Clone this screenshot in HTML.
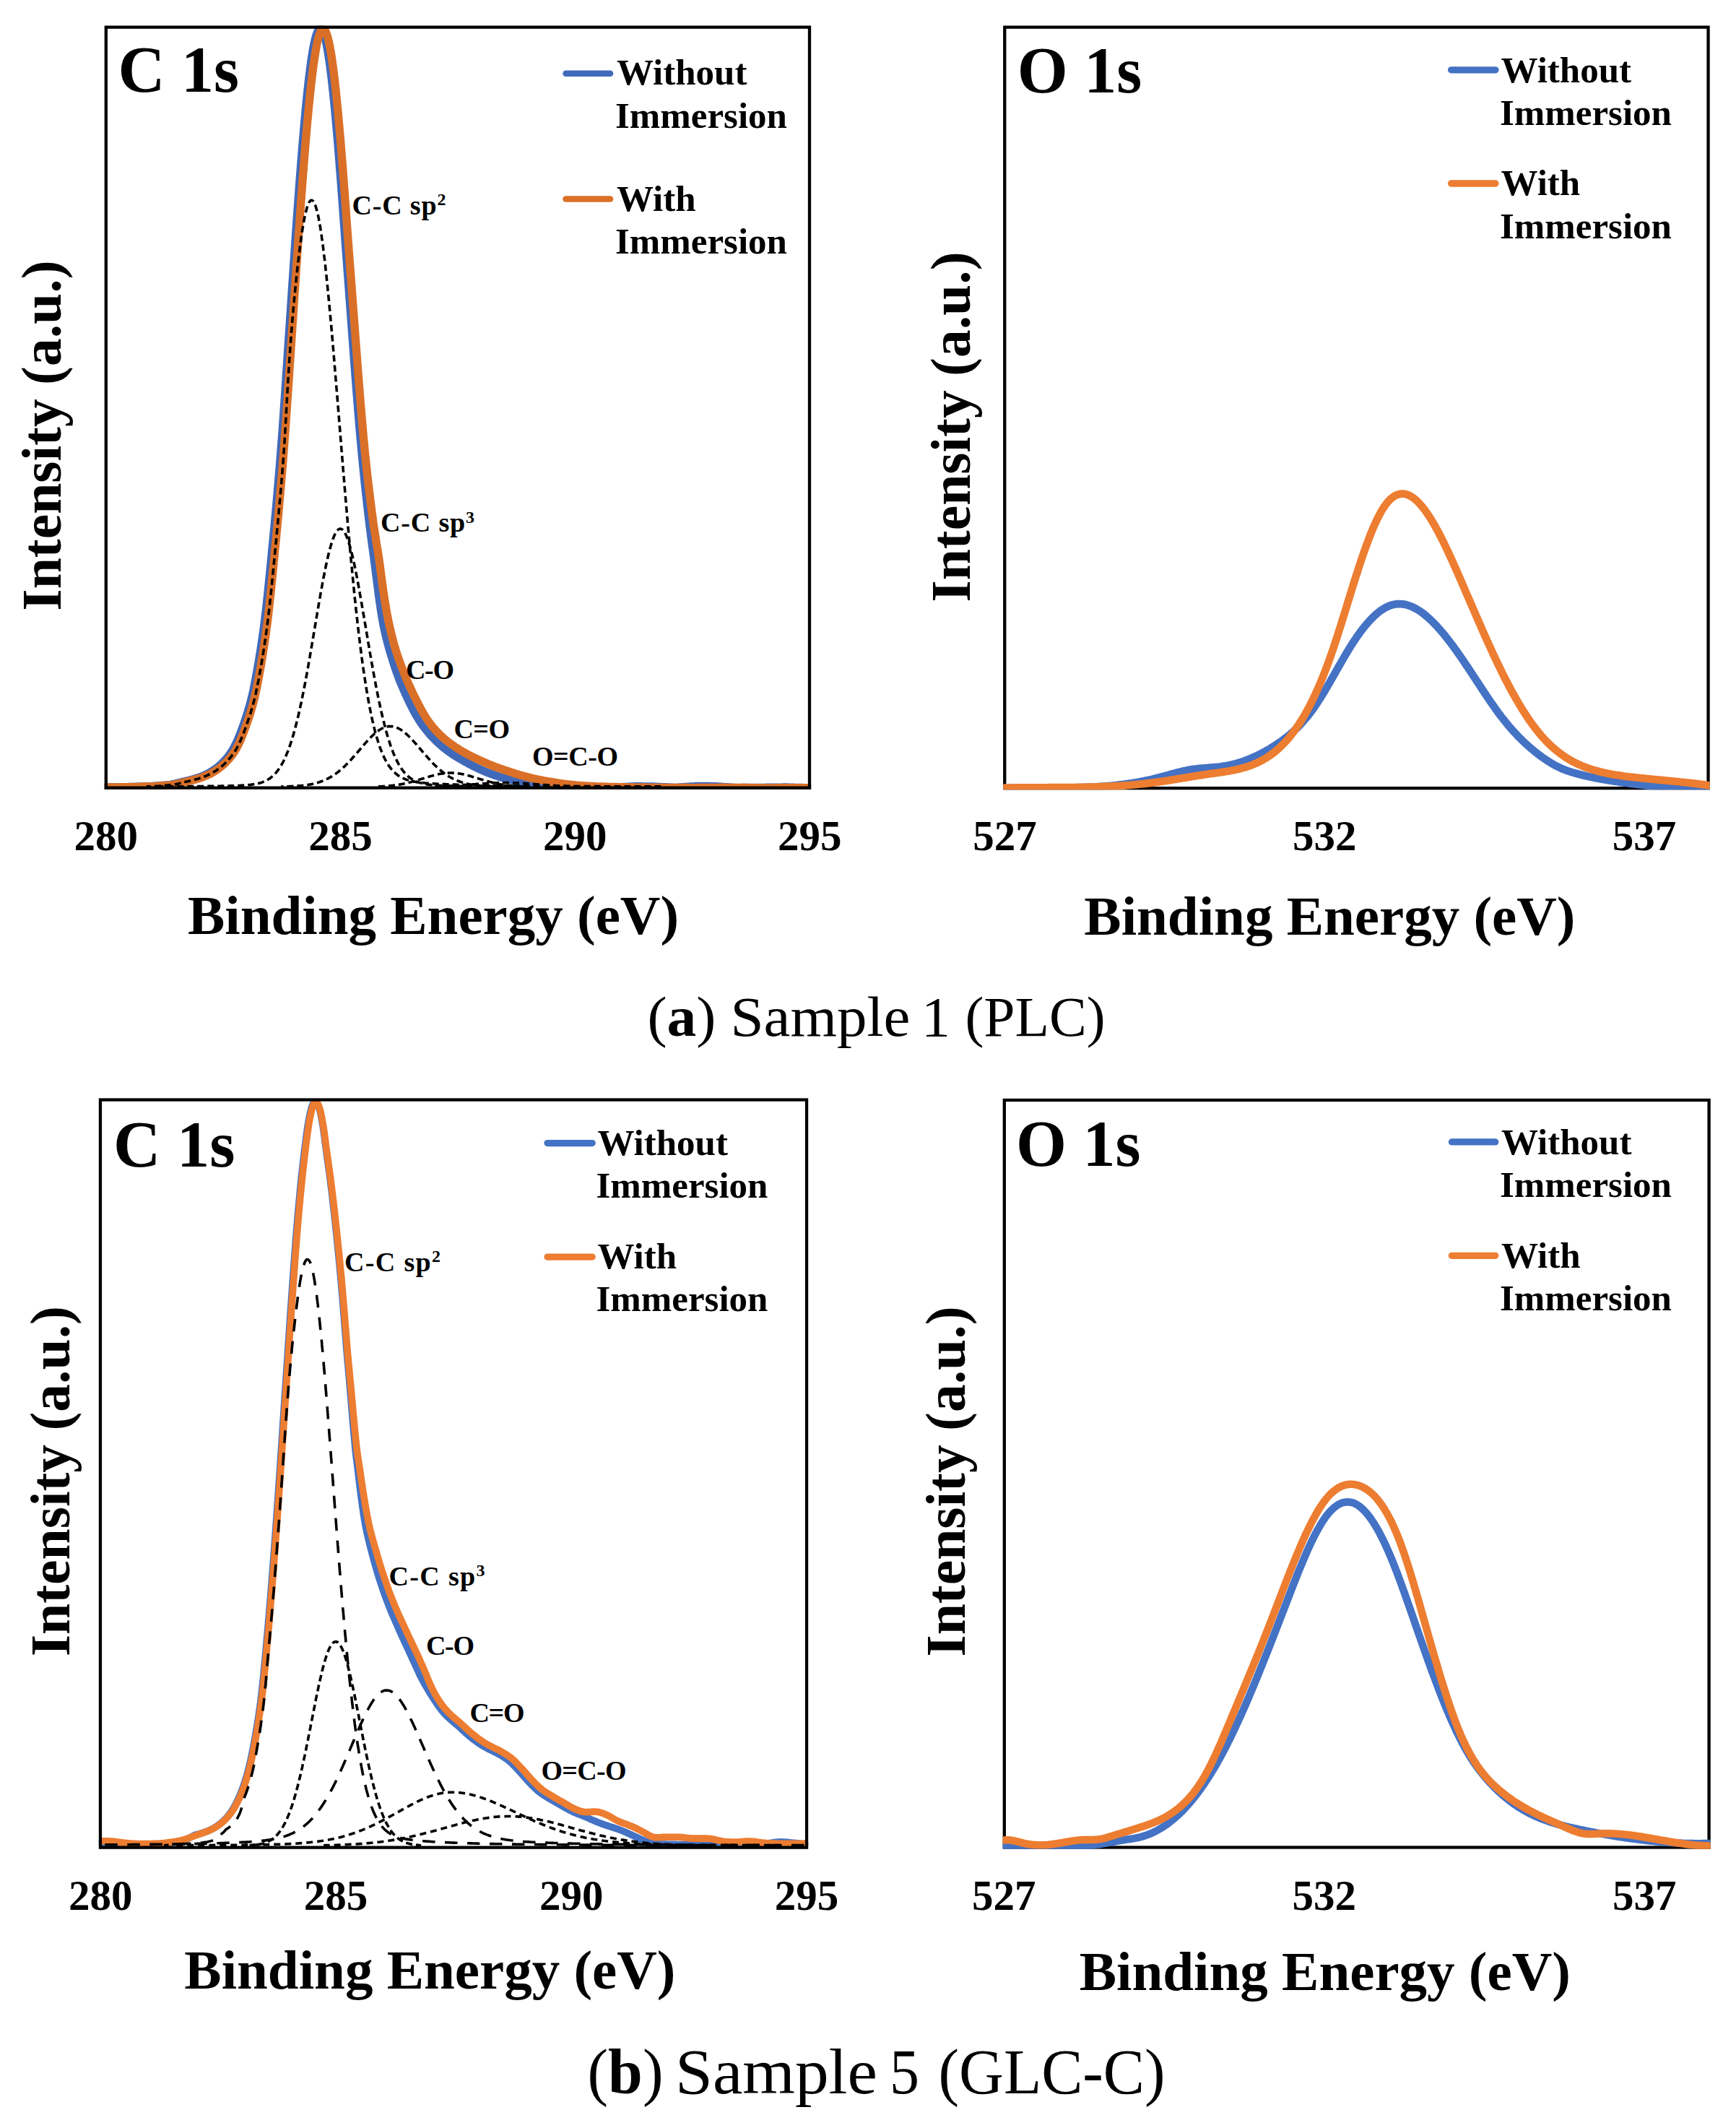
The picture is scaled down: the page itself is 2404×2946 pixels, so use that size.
<!DOCTYPE html>
<html lang="en"><head><meta charset="utf-8"><title>XPS C 1s and O 1s spectra</title>
<style>
html,body{margin:0;padding:0;background:#fff;}
svg{display:block;}
text{font-family:"Liberation Serif","Times New Roman",serif;fill:#000;}
</style></head>
<body>
<svg width="2404" height="2946" viewBox="0 0 2404 2946">
<rect width="2404" height="2946" fill="#fff"/>
<rect x="1391.25" y="37.65" width="974.3" height="1053.5" fill="none" stroke="#000" stroke-width="4.3"/>
<rect x="1390.8" y="1523.0" width="975.8" height="1034.5" fill="none" stroke="#000" stroke-width="4.3"/>
<clipPath id="ca"><rect x="144.65" y="35.5" width="978.5" height="1057.3"/></clipPath>
<path d="M146.8 1090.0L148.8 1090.0L150.8 1089.9L152.8 1089.9L154.8 1089.9L156.8 1089.9L158.8 1089.8L160.8 1089.8L162.8 1089.8L164.8 1089.7L166.8 1089.7L168.8 1089.7L170.8 1089.6L172.8 1089.6L174.8 1089.6L176.8 1089.6L178.8 1089.5L180.8 1089.5L182.8 1089.4L184.8 1089.4L186.8 1089.3L188.8 1089.2L190.8 1089.2L192.8 1089.1L194.8 1089.0L196.8 1089.0L198.8 1088.9L200.8 1088.8L202.8 1088.8L204.8 1088.7L206.8 1088.6L208.8 1088.6L210.8 1088.5L212.8 1088.4L214.8 1088.2L216.8 1088.0L218.8 1087.9L220.8 1087.7L222.8 1087.6L224.8 1087.4L226.8 1087.2L228.8 1087.1L230.8 1086.9L232.8 1086.8L234.8 1086.6L236.8 1086.3L238.7 1085.8L240.7 1085.4L242.6 1084.9L244.5 1084.4L246.5 1084.0L248.4 1083.5L250.4 1083.0L252.3 1082.6L254.3 1082.1L256.2 1081.6L258.2 1081.1L260.1 1080.7L262.1 1080.2L264.0 1079.7L265.9 1079.2L267.9 1078.7L269.8 1078.1L271.7 1077.5L273.6 1076.9L275.5 1076.3L277.4 1075.6L279.2 1074.9L281.1 1074.1L282.9 1073.3L284.8 1072.5L286.6 1071.6L288.3 1070.7L290.1 1069.7L291.8 1068.7L293.5 1067.7L295.2 1066.6L296.9 1065.4L298.5 1064.3L300.1 1063.1L301.7 1061.8L303.2 1060.6L304.7 1059.2L306.2 1057.9L307.6 1056.5L309.0 1055.1L310.4 1053.6L311.8 1052.2L313.1 1050.7L314.4 1049.1L315.7 1047.6L316.9 1046.0L318.1 1044.4L319.2 1042.8L320.4 1041.1L321.4 1039.4L322.5 1037.7L323.5 1036.0L324.4 1034.2L325.3 1032.4L326.2 1030.6L327.1 1028.8L328.0 1027.0L328.8 1025.2L329.6 1023.4L330.4 1021.5L331.1 1019.7L331.9 1017.8L332.6 1015.9L333.3 1014.1L334.0 1012.2L334.7 1010.3L335.4 1008.4L336.1 1006.6L336.8 1004.7L337.4 1002.8L338.1 1000.9L338.7 999.0L339.4 997.1L340.0 995.2L340.6 993.3L341.3 991.4L341.9 989.5L342.5 987.6L343.1 985.7L343.7 983.8L344.2 981.8L344.8 979.9L345.4 978.0L345.9 976.1L346.4 974.1L347.0 972.2L347.5 970.3L347.9 968.3L348.4 966.4L348.9 964.4L349.3 962.5L349.8 960.5L350.2 958.6L350.6 956.6L351.1 954.7L351.5 952.7L351.9 950.7L352.3 948.8L352.6 946.8L353.0 944.9L353.4 942.9L353.8 940.9L354.1 939.0L354.5 937.0L354.9 935.0L355.2 933.0L355.6 931.1L355.9 929.1L356.3 927.1L356.6 925.2L357.0 923.2L357.3 921.2L357.6 919.2L358.0 917.3L358.3 915.3L358.7 913.3L359.0 911.4L359.3 909.4L359.6 907.4L360.0 905.4L360.3 903.4L360.6 901.5L360.9 899.5L361.2 897.5L361.5 895.5L361.8 893.6L362.1 891.6L362.4 889.6L362.7 887.6L363.0 885.6L363.3 883.7L363.6 881.7L363.9 879.7L364.1 877.7L364.4 875.7L364.7 873.7L365.0 871.8L365.2 869.8L365.5 867.8L365.7 865.8L366.0 863.8L366.3 861.8L366.5 859.9L366.8 857.9L367.0 855.9L367.2 853.9L367.5 851.9L367.7 849.9L367.9 847.9L368.2 845.9L368.4 843.9L368.6 842.0L368.8 840.0L369.1 838.0L369.3 836.0L369.5 834.0L369.7 832.0L369.9 830.0L370.1 828.0L370.4 826.0L370.6 824.0L370.8 822.1L371.0 820.1L371.2 818.1L371.4 816.1L371.6 814.1L371.8 812.1L372.0 810.1L372.2 808.1L372.4 806.1L372.6 804.1L372.8 802.1L373.0 800.2L373.2 798.2L373.4 796.2L373.6 794.2L373.8 792.2L374.0 790.2L374.2 788.2L374.4 786.2L374.6 784.2L374.8 782.2L375.0 780.2L375.2 778.2L375.4 776.2L375.6 774.3L375.8 772.3L376.0 770.3L376.2 768.3L376.3 766.3L376.5 764.3L376.7 762.3L376.9 760.3L377.1 758.3L377.3 756.3L377.5 754.3L377.7 752.3L377.9 750.3L378.1 748.3L378.3 746.4L378.5 744.4L378.7 742.4L378.8 740.4L379.0 738.4L379.2 736.4L379.4 734.4L379.6 732.4L379.8 730.4L380.0 728.4L380.2 726.4L380.4 724.4L380.5 722.4L380.7 720.4L380.9 718.5L381.1 716.5L381.3 714.5L381.5 712.5L381.7 710.5L381.8 708.5L382.0 706.5L382.2 704.5L382.4 702.5L382.6 700.5L382.7 698.5L382.9 696.5L383.1 694.5L383.3 692.5L383.5 690.5L383.6 688.5L383.8 686.6L384.0 684.6L384.2 682.6L384.3 680.6L384.5 678.6L384.7 676.6L384.9 674.6L385.0 672.6L385.2 670.6L385.4 668.6L385.5 666.6L385.7 664.6L385.9 662.6L386.1 660.6L386.2 658.6L386.4 656.6L386.6 654.6L386.7 652.6L386.9 650.7L387.0 648.7L387.2 646.7L387.4 644.7L387.5 642.7L387.7 640.7L387.9 638.7L388.0 636.7L388.2 634.7L388.3 632.7L388.5 630.7L388.7 628.7L388.8 626.7L389.0 624.7L389.1 622.7L389.3 620.7L389.4 618.7L389.6 616.7L389.7 614.7L389.9 612.7L390.0 610.7L390.2 608.7L390.3 606.7L390.5 604.7L390.6 602.8L390.8 600.8L390.9 598.8L391.1 596.8L391.2 594.8L391.4 592.8L391.5 590.8L391.6 588.8L391.8 586.8L391.9 584.8L392.1 582.8L392.2 580.8L392.4 578.8L392.5 576.8L392.6 574.8L392.8 572.8L392.9 570.8L393.0 568.8L393.2 566.8L393.3 564.8L393.5 562.8L393.6 560.8L393.7 558.8L393.9 556.8L394.0 554.8L394.1 552.8L394.3 550.8L394.4 548.8L394.6 546.8L394.7 544.8L394.8 542.8L395.0 540.8L395.1 538.8L395.2 536.8L395.4 534.9L395.5 532.9L395.6 530.9L395.8 528.9L395.9 526.9L396.1 524.9L396.2 522.9L396.3 520.9L396.5 518.9L396.6 516.9L396.7 514.9L396.9 512.9L397.0 510.9L397.1 508.9L397.3 506.9L397.4 504.9L397.5 502.9L397.7 500.9L397.8 498.9L397.9 496.9L398.1 494.9L398.2 492.9L398.3 490.9L398.5 488.9L398.6 486.9L398.7 484.9L398.9 482.9L399.0 480.9L399.1 478.9L399.3 476.9L399.4 474.9L399.5 472.9L399.7 470.9L399.8 468.9L399.9 466.9L400.1 464.9L400.2 462.9L400.4 460.9L400.5 459.0L400.6 457.0L400.8 455.0L400.9 453.0L401.0 451.0L401.2 449.0L401.3 447.0L401.4 445.0L401.6 443.0L401.7 441.0L401.8 439.0L402.0 437.0L402.1 435.0L402.2 433.0L402.4 431.0L402.5 429.0L402.6 427.0L402.8 425.0L402.9 423.0L403.0 421.0L403.2 419.0L403.3 417.0L403.4 415.0L403.6 413.0L403.7 411.0L403.8 409.0L404.0 407.0L404.1 405.0L404.2 403.0L404.4 401.0L404.5 399.0L404.6 397.0L404.8 395.0L404.9 393.0L405.0 391.0L405.2 389.0L405.3 387.0L405.5 385.0L405.6 383.0L405.7 381.1L405.9 379.1L406.0 377.1L406.1 375.1L406.3 373.1L406.4 371.1L406.5 369.1L406.7 367.1L406.8 365.1L406.9 363.1L407.1 361.1L407.2 359.1L407.4 357.1L407.5 355.1L407.6 353.1L407.8 351.1L407.9 349.1L408.0 347.1L408.2 345.1L408.3 343.1L408.5 341.1L408.6 339.1L408.7 337.1L408.9 335.1L409.0 333.1L409.2 331.1L409.3 329.1L409.4 327.1L409.6 325.1L409.7 323.1L409.8 321.1L410.0 319.1L410.1 317.1L410.3 315.1L410.4 313.1L410.6 311.2L410.7 309.2L410.8 307.2L411.0 305.2L411.1 303.2L411.3 301.2L411.4 299.2L411.6 297.2L411.7 295.2L411.8 293.2L412.0 291.2L412.1 289.2L412.3 287.2L412.4 285.2L412.6 283.2L412.7 281.2L412.9 279.2L413.0 277.2L413.1 275.2L413.3 273.2L413.4 271.2L413.6 269.2L413.7 267.2L413.9 265.2L414.0 263.2L414.2 261.2L414.3 259.2L414.5 257.2L414.6 255.2L414.8 253.3L414.9 251.3L415.1 249.3L415.2 247.3L415.4 245.3L415.5 243.3L415.7 241.3L415.8 239.3L416.0 237.3L416.2 235.3L416.3 233.3L416.5 231.3L416.6 229.3L416.8 227.3L416.9 225.3L417.1 223.3L417.3 221.3L417.4 219.3L417.6 217.3L417.7 215.3L417.9 213.3L418.1 211.3L418.2 209.3L418.4 207.3L418.5 205.4L418.7 203.4L418.9 201.4L419.0 199.4L419.2 197.4L419.4 195.4L419.5 193.4L419.7 191.4L419.9 189.4L420.1 187.4L420.2 185.4L420.4 183.4L420.6 181.4L420.7 179.4L420.9 177.4L421.1 175.4L421.3 173.4L421.5 171.4L421.6 169.5L421.8 167.5L422.0 165.5L422.2 163.5L422.4 161.5L422.6 159.5L422.7 157.5L422.9 155.5L423.1 153.5L423.3 151.5L423.5 149.5L423.7 147.5L423.9 145.5L424.1 143.5L424.3 141.5L424.5 139.6L424.7 137.6L424.9 135.6L425.1 133.6L425.3 131.6L425.5 129.6L425.7 127.6L425.9 125.6L426.1 123.6L426.4 121.6L426.6 119.6L426.8 117.7L427.0 115.7L427.2 113.7L427.5 111.7L427.7 109.7L427.9 107.7L428.2 105.7L428.4 103.7L428.7 101.8L428.9 99.8L429.2 97.8L429.4 95.8L429.7 93.8L429.9 91.8L430.2 89.8L430.5 87.9L430.8 85.9L431.0 83.9L431.3 81.9L431.6 79.9L431.9 78.0L432.2 76.0L432.6 74.0L432.9 72.0L433.2 70.1L433.6 68.1L433.9 66.1L434.3 64.1L434.7 62.2L435.1 60.2L435.5 58.3L436.0 56.3L436.4 54.4L436.9 52.4L437.5 50.5L438.0 48.6L438.7 46.7L439.4 44.8L440.3 43.0L441.4 41.3L442.9 40.1L444.8 40.5L446.1 42.0L447.1 43.7L447.9 45.6L448.6 47.4L449.2 49.3L449.8 51.3L450.3 53.2L450.8 55.1L451.2 57.1L451.7 59.0L452.1 61.0L452.5 63.0L452.8 64.9L453.2 66.9L453.6 68.9L453.9 70.8L454.2 72.8L454.6 74.8L454.9 76.8L455.2 78.7L455.5 80.7L455.8 82.7L456.1 84.7L456.3 86.7L456.6 88.6L456.9 90.6L457.2 92.6L457.4 94.6L457.7 96.6L457.9 98.6L458.2 100.5L458.4 102.5L458.7 104.5L458.9 106.5L459.2 108.5L459.4 110.5L459.6 112.5L459.8 114.5L460.1 116.5L460.3 118.4L460.5 120.4L460.7 122.4L460.9 124.4L461.2 126.4L461.4 128.4L461.6 130.4L461.8 132.4L462.0 134.4L462.2 136.4L462.4 138.4L462.6 140.3L462.8 142.3L463.0 144.3L463.2 146.3L463.4 148.3L463.6 150.3L463.8 152.3L464.0 154.3L464.1 156.3L464.3 158.3L464.5 160.3L464.7 162.3L464.9 164.3L465.1 166.2L465.3 168.2L465.4 170.2L465.6 172.2L465.8 174.2L466.0 176.2L466.1 178.2L466.3 180.2L466.5 182.2L466.7 184.2L466.8 186.2L467.0 188.2L467.2 190.2L467.4 192.2L467.5 194.2L467.7 196.2L467.9 198.2L468.0 200.2L468.2 202.1L468.4 204.1L468.5 206.1L468.7 208.1L468.8 210.1L469.0 212.1L469.2 214.1L469.3 216.1L469.5 218.1L469.6 220.1L469.8 222.1L470.0 224.1L470.1 226.1L470.3 228.1L470.4 230.1L470.6 232.1L470.7 234.1L470.9 236.1L471.1 238.1L471.2 240.1L471.4 242.1L471.5 244.1L471.7 246.1L471.8 248.0L472.0 250.0L472.1 252.0L472.3 254.0L472.4 256.0L472.6 258.0L472.7 260.0L472.9 262.0L473.0 264.0L473.2 266.0L473.3 268.0L473.5 270.0L473.6 272.0L473.8 274.0L473.9 276.0L474.1 278.0L474.2 280.0L474.4 282.0L474.5 284.0L474.6 286.0L474.8 288.0L474.9 290.0L475.1 292.0L475.2 294.0L475.4 296.0L475.5 298.0L475.7 300.0L475.8 302.0L475.9 304.0L476.1 305.9L476.2 307.9L476.4 309.9L476.5 311.9L476.7 313.9L476.8 315.9L477.0 317.9L477.1 319.9L477.2 321.9L477.4 323.9L477.5 325.9L477.7 327.9L477.8 329.9L478.0 331.9L478.1 333.9L478.3 335.9L478.4 337.9L478.6 339.9L478.7 341.9L478.9 343.9L479.0 345.9L479.2 347.9L479.3 349.9L479.5 351.9L479.6 353.9L479.8 355.9L479.9 357.9L480.1 359.9L480.2 361.8L480.4 363.8L480.5 365.8L480.7 367.8L480.8 369.8L481.0 371.8L481.1 373.8L481.3 375.8L481.4 377.8L481.6 379.8L481.7 381.8L481.9 383.8L482.0 385.8L482.2 387.8L482.3 389.8L482.5 391.8L482.6 393.8L482.8 395.8L482.9 397.8L483.1 399.8L483.2 401.8L483.4 403.8L483.5 405.8L483.7 407.8L483.8 409.8L484.0 411.8L484.1 413.8L484.3 415.7L484.4 417.7L484.6 419.7L484.7 421.7L484.9 423.7L485.0 425.7L485.2 427.7L485.3 429.7L485.5 431.7L485.6 433.7L485.8 435.7L485.9 437.7L486.0 439.7L486.2 441.7L486.3 443.7L486.5 445.7L486.6 447.7L486.8 449.7L486.9 451.7L487.1 453.7L487.2 455.7L487.4 457.7L487.5 459.7L487.7 461.7L487.8 463.7L488.0 465.7L488.1 467.7L488.3 469.7L488.4 471.6L488.6 473.6L488.7 475.6L488.9 477.6L489.0 479.6L489.2 481.6L489.3 483.6L489.5 485.6L489.6 487.6L489.8 489.6L489.9 491.6L490.1 493.6L490.2 495.6L490.4 497.6L490.5 499.6L490.7 501.6L490.8 503.6L491.0 505.6L491.1 507.6L491.3 509.6L491.4 511.6L491.6 513.6L491.7 515.6L491.9 517.6L492.0 519.6L492.2 521.6L492.4 523.5L492.5 525.5L492.7 527.5L492.8 529.5L493.0 531.5L493.1 533.5L493.3 535.5L493.4 537.5L493.6 539.5L493.8 541.5L493.9 543.5L494.1 545.5L494.2 547.5L494.4 549.5L494.6 551.5L494.7 553.5L494.9 555.5L495.0 557.5L495.2 559.5L495.4 561.5L495.5 563.5L495.7 565.5L495.8 567.5L496.0 569.4L496.2 571.4L496.3 573.4L496.5 575.4L496.7 577.4L496.8 579.4L497.0 581.4L497.2 583.4L497.3 585.4L497.5 587.4L497.7 589.4L497.8 591.4L498.0 593.4L498.2 595.4L498.3 597.4L498.5 599.4L498.7 601.4L498.9 603.4L499.0 605.4L499.2 607.3L499.4 609.3L499.6 611.3L499.7 613.3L499.9 615.3L500.1 617.3L500.3 619.3L500.5 621.3L500.7 623.3L500.8 625.3L501.0 627.3L501.2 629.3L501.4 631.3L501.6 633.3L501.8 635.3L502.0 637.2L502.2 639.2L502.4 641.2L502.6 643.2L502.8 645.2L503.0 647.2L503.2 649.2L503.4 651.2L503.6 653.2L503.8 655.2L504.0 657.2L504.2 659.2L504.4 661.2L504.6 663.1L504.8 665.1L505.0 667.1L505.2 669.1L505.4 671.1L505.6 673.1L505.9 675.1L506.1 677.1L506.3 679.1L506.5 681.1L506.7 683.0L506.9 685.0L507.2 687.0L507.4 689.0L507.6 691.0L507.8 693.0L508.1 695.0L508.3 697.0L508.5 699.0L508.7 701.0L509.0 702.9L509.2 704.9L509.4 706.9L509.7 708.9L509.9 710.9L510.1 712.9L510.4 714.9L510.6 716.9L510.8 718.8L511.1 720.8L511.3 722.8L511.5 724.8L511.8 726.8L512.0 728.8L512.3 730.8L512.5 732.8L512.8 734.7L513.1 736.7L513.3 738.7L513.6 740.7L513.8 742.7L514.1 744.7L514.4 746.6L514.6 748.6L514.9 750.6L515.2 752.6L515.4 754.6L515.7 756.6L516.0 758.6L516.3 760.5L516.5 762.5L516.8 764.5L517.1 766.5L517.3 768.5L517.6 770.5L517.9 772.4L518.1 774.4L518.4 776.4L518.7 778.4L518.9 780.4L519.2 782.4L519.4 784.3L519.7 786.3L519.9 788.3L520.2 790.3L520.4 792.3L520.7 794.3L521.0 796.3L521.2 798.2L521.5 800.2L521.7 802.2L522.0 804.2L522.2 806.2L522.5 808.2L522.7 810.2L523.0 812.1L523.2 814.1L523.5 816.1L523.8 818.1L524.0 820.1L524.3 822.1L524.5 824.1L524.8 826.0L525.1 828.0L525.3 830.0L525.6 832.0L525.9 834.0L526.2 836.0L526.5 837.9L526.8 839.9L527.1 841.9L527.3 843.9L527.7 845.9L528.0 847.8L528.3 849.8L528.6 851.8L528.9 853.8L529.3 855.7L529.6 857.7L530.0 859.7L530.3 861.6L530.7 863.6L531.1 865.6L531.5 867.5L531.9 869.5L532.3 871.5L532.7 873.4L533.2 875.4L533.6 877.3L534.1 879.3L534.5 881.2L535.0 883.2L535.5 885.1L536.0 887.0L536.5 889.0L537.0 890.9L537.5 892.8L538.1 894.8L538.6 896.7L539.1 898.6L539.7 900.6L540.2 902.5L540.8 904.4L541.4 906.3L542.0 908.2L542.6 910.1L543.2 912.1L543.8 914.0L544.4 915.9L545.0 917.8L545.6 919.7L546.2 921.6L546.8 923.5L547.5 925.4L548.1 927.3L548.8 929.2L549.4 931.1L550.1 933.0L550.8 934.8L551.5 936.7L552.2 938.6L552.9 940.5L553.6 942.3L554.4 944.2L555.1 946.0L555.9 947.9L556.7 949.7L557.5 951.6L558.3 953.4L559.1 955.2L559.9 957.1L560.7 958.9L561.5 960.7L562.4 962.5L563.2 964.3L564.1 966.2L564.9 968.0L565.8 969.8L566.6 971.6L567.5 973.4L568.4 975.2L569.3 977.0L570.2 978.8L571.1 980.6L572.0 982.3L572.9 984.1L573.9 985.9L574.9 987.6L575.8 989.4L576.8 991.1L577.9 992.8L578.9 994.5L579.9 996.2L581.0 997.9L582.1 999.6L583.2 1001.3L584.4 1002.9L585.5 1004.5L586.7 1006.1L587.9 1007.7L589.2 1009.3L590.4 1010.9L591.7 1012.4L593.0 1014.0L594.3 1015.5L595.6 1017.0L596.9 1018.5L598.3 1019.9L599.7 1021.4L601.1 1022.8L602.5 1024.3L603.9 1025.7L605.3 1027.1L606.8 1028.4L608.3 1029.8L609.8 1031.1L611.3 1032.4L612.8 1033.7L614.4 1035.0L615.9 1036.3L617.5 1037.5L619.1 1038.7L620.7 1039.9L622.3 1041.1L623.9 1042.2L625.6 1043.4L627.2 1044.5L628.9 1045.6L630.6 1046.6L632.3 1047.7L634.0 1048.7L635.8 1049.7L637.5 1050.7L639.2 1051.7L641.0 1052.7L642.7 1053.7L644.5 1054.7L646.2 1055.6L648.0 1056.6L649.7 1057.6L651.5 1058.5L653.3 1059.4L655.0 1060.4L656.8 1061.3L658.6 1062.1L660.4 1063.0L662.2 1063.9L664.1 1064.7L665.9 1065.6L667.7 1066.4L669.5 1067.2L671.4 1068.0L673.2 1068.7L675.1 1069.5L676.9 1070.2L678.8 1070.9L680.7 1071.6L682.6 1072.3L684.5 1073.0L686.4 1073.6L688.3 1074.2L690.2 1074.9L692.1 1075.5L694.0 1076.0L695.9 1076.6L697.8 1077.1L699.8 1077.7L701.7 1078.2L703.6 1078.7L705.6 1079.2L707.5 1079.6L709.5 1080.1L711.4 1080.5L713.4 1081.0L715.3 1081.4L717.3 1081.9L719.2 1082.4L721.2 1082.8L723.2 1083.1L725.1 1083.4L727.1 1083.6L729.1 1083.9L731.1 1084.1L733.1 1084.4L735.1 1084.6L737.1 1084.9L739.0 1085.1L741.0 1085.3L743.0 1085.6L745.0 1085.8L747.0 1086.1L749.0 1086.3L751.0 1086.4L753.0 1086.6L755.0 1086.8L757.0 1086.9L759.0 1087.1L761.0 1087.3L763.0 1087.4L764.9 1087.6L766.9 1087.7L768.9 1087.9L770.9 1088.1L772.9 1088.2L774.9 1088.4L776.9 1088.5L778.9 1088.6L780.9 1088.6L782.9 1088.7L784.9 1088.8L786.9 1088.9L788.9 1089.0L790.9 1089.0L792.9 1089.1L794.9 1089.2L796.9 1089.3L798.9 1089.4L800.9 1089.4L802.9 1089.5L804.9 1089.6L806.9 1089.7L808.9 1089.8L810.9 1089.8L812.9 1089.8L814.9 1089.8L816.9 1089.9L818.9 1089.9L820.9 1089.9L822.9 1089.9L824.9 1089.9L826.9 1090.0L828.9 1090.0L830.9 1090.0L833.0 1090.0L835.0 1090.0L837.0 1090.1L839.0 1090.1L841.0 1090.1L843.0 1090.1L845.0 1090.1L847.0 1090.2L849.0 1090.2L851.0 1090.1L853.0 1090.0L855.0 1089.9L857.0 1089.8L859.0 1089.7L861.0 1089.6L863.0 1089.5L865.0 1089.4L867.0 1089.3L869.0 1089.2L871.0 1089.1L873.0 1089.0L875.0 1088.9L877.0 1088.8L879.0 1088.7L881.0 1088.6L883.0 1088.6L885.0 1088.7L887.0 1088.7L889.0 1088.7L891.0 1088.8L893.0 1088.8L895.0 1088.8L897.0 1088.9L899.0 1088.9L901.0 1088.9L903.0 1089.0L905.0 1089.0L907.0 1089.1L909.0 1089.2L911.0 1089.3L913.0 1089.4L915.0 1089.5L917.0 1089.6L919.0 1089.7L921.0 1089.7L923.0 1089.8L925.0 1089.9L927.0 1090.0L929.0 1090.1L931.0 1090.2L933.0 1090.3L935.0 1090.4L937.0 1090.3L939.0 1090.1L941.0 1090.0L943.0 1089.9L945.0 1089.7L947.0 1089.6L949.0 1089.5L950.9 1089.3L952.9 1089.2L954.9 1089.1L956.9 1088.9L958.9 1088.8L960.9 1088.7L962.9 1088.5L964.9 1088.4L966.9 1088.4L968.9 1088.4L970.9 1088.4L972.9 1088.5L974.9 1088.5L976.9 1088.5L978.9 1088.5L980.9 1088.5L982.9 1088.5L984.9 1088.6L987.0 1088.6L989.0 1088.6L991.0 1088.7L993.0 1088.8L994.9 1088.9L996.9 1089.1L998.9 1089.2L1000.9 1089.3L1002.9 1089.5L1004.9 1089.6L1006.9 1089.7L1008.9 1089.9L1010.9 1090.0L1012.9 1090.1L1014.9 1090.3L1016.9 1090.4L1018.9 1090.5L1020.9 1090.6L1022.9 1090.6L1024.9 1090.6L1026.9 1090.5L1028.9 1090.5L1030.9 1090.5L1032.9 1090.5L1034.9 1090.5L1036.9 1090.5L1038.9 1090.4L1040.9 1090.4L1042.9 1090.4L1044.9 1090.4L1046.9 1090.4L1048.9 1090.4L1050.9 1090.3L1052.9 1090.3L1054.9 1090.3L1057.0 1090.3L1059.0 1090.3L1061.0 1090.2L1063.0 1090.2L1065.0 1090.2L1067.0 1090.2L1069.0 1090.2L1071.0 1090.2L1073.0 1090.1L1075.0 1090.1L1077.0 1090.1L1079.0 1090.1L1081.0 1090.1L1083.0 1090.1L1085.0 1090.0L1087.0 1090.0L1089.0 1090.0L1091.0 1090.0L1093.0 1090.1L1095.0 1090.1L1097.0 1090.2L1099.0 1090.2L1101.0 1090.3L1103.0 1090.3L1105.0 1090.4L1107.0 1090.4L1109.0 1090.5L1111.0 1090.5L1113.0 1090.6L1115.0 1090.6L1117.0 1090.7L1119.0 1090.7L1121.0 1090.8" fill="none" stroke="#4069B9" stroke-width="11.3" stroke-linejoin="round" stroke-linecap="round" clip-path="url(#ca)"/>
<path d="M146.8 1090.0L148.8 1090.0L150.8 1089.9L152.8 1089.9L154.8 1089.9L156.8 1089.9L158.8 1089.8L160.8 1089.8L162.8 1089.8L164.8 1089.8L166.8 1089.7L168.8 1089.7L170.8 1089.7L172.8 1089.7L174.8 1089.6L176.8 1089.6L178.8 1089.6L180.8 1089.6L182.8 1089.5L184.8 1089.5L186.8 1089.4L188.8 1089.4L190.8 1089.3L192.8 1089.2L194.8 1089.2L196.8 1089.1L198.8 1089.0L200.8 1089.0L202.8 1088.9L204.8 1088.8L206.8 1088.8L208.8 1088.7L210.9 1088.6L212.9 1088.6L214.9 1088.5L216.8 1088.4L218.8 1088.2L220.8 1088.0L222.8 1087.9L224.8 1087.7L226.8 1087.6L228.8 1087.4L230.8 1087.2L232.8 1087.1L234.8 1086.9L236.8 1086.8L238.8 1086.6L240.8 1086.3L242.7 1085.8L244.7 1085.4L246.6 1084.9L248.6 1084.4L250.5 1084.0L252.5 1083.5L254.4 1083.0L256.3 1082.6L258.3 1082.1L260.2 1081.6L262.2 1081.1L264.1 1080.7L266.1 1080.2L268.0 1079.7L270.0 1079.2L271.9 1078.7L273.8 1078.1L275.7 1077.5L277.6 1076.9L279.5 1076.3L281.4 1075.6L283.3 1074.8L285.1 1074.1L287.0 1073.3L288.8 1072.4L290.6 1071.6L292.4 1070.7L294.1 1069.7L295.8 1068.7L297.5 1067.6L299.2 1066.6L300.9 1065.4L302.5 1064.3L304.1 1063.1L305.7 1061.8L307.2 1060.5L308.7 1059.2L310.2 1057.9L311.6 1056.5L313.1 1055.1L314.4 1053.6L315.8 1052.1L317.1 1050.7L318.4 1049.1L319.7 1047.6L320.9 1046.0L322.1 1044.4L323.3 1042.7L324.4 1041.1L325.4 1039.4L326.5 1037.7L327.5 1035.9L328.4 1034.2L329.4 1032.4L330.3 1030.6L331.1 1028.8L332.0 1027.0L332.8 1025.2L333.6 1023.3L334.4 1021.5L335.1 1019.6L335.9 1017.8L336.6 1015.9L337.3 1014.1L338.1 1012.2L338.7 1010.3L339.4 1008.4L340.1 1006.5L340.8 1004.6L341.4 1002.8L342.1 1000.9L342.7 999.0L343.4 997.1L344.0 995.2L344.7 993.3L345.3 991.4L345.9 989.5L346.5 987.6L347.1 985.6L347.7 983.7L348.3 981.8L348.8 979.9L349.4 978.0L349.9 976.0L350.4 974.1L351.0 972.2L351.5 970.2L352.0 968.3L352.4 966.4L352.9 964.4L353.3 962.5L353.8 960.5L354.2 958.5L354.6 956.6L355.1 954.6L355.5 952.7L355.9 950.7L356.3 948.7L356.6 946.8L357.0 944.8L357.4 942.9L357.8 940.9L358.1 938.9L358.5 936.9L358.9 935.0L359.2 933.0L359.6 931.0L359.9 929.1L360.3 927.1L360.6 925.1L361.0 923.2L361.3 921.2L361.7 919.2L362.0 917.2L362.3 915.3L362.7 913.3L363.0 911.3L363.3 909.3L363.6 907.4L364.0 905.4L364.3 903.4L364.6 901.4L364.9 899.5L365.2 897.5L365.5 895.5L365.8 893.5L366.1 891.5L366.4 889.6L366.7 887.6L367.0 885.6L367.3 883.6L367.6 881.6L367.9 879.7L368.2 877.7L368.4 875.7L368.7 873.7L369.0 871.7L369.2 869.7L369.5 867.7L369.8 865.8L370.0 863.8L370.3 861.8L370.5 859.8L370.8 857.8L371.0 855.8L371.2 853.8L371.5 851.9L371.7 849.9L371.9 847.9L372.2 845.9L372.4 843.9L372.6 841.9L372.8 839.9L373.1 837.9L373.3 835.9L373.5 833.9L373.7 832.0L373.9 830.0L374.1 828.0L374.4 826.0L374.6 824.0L374.8 822.0L375.0 820.0L375.2 818.0L375.4 816.0L375.6 814.0L375.8 812.0L376.0 810.1L376.2 808.1L376.4 806.1L376.6 804.1L376.8 802.1L377.0 800.1L377.2 798.1L377.4 796.1L377.6 794.1L377.8 792.1L378.0 790.1L378.2 788.1L378.4 786.1L378.6 784.2L378.8 782.2L379.0 780.2L379.2 778.2L379.4 776.2L379.6 774.2L379.8 772.2L380.0 770.2L380.2 768.2L380.4 766.2L380.5 764.2L380.7 762.2L380.9 760.2L381.1 758.3L381.3 756.3L381.5 754.3L381.7 752.3L381.9 750.3L382.1 748.3L382.3 746.3L382.5 744.3L382.7 742.3L382.9 740.3L383.0 738.3L383.2 736.3L383.4 734.3L383.6 732.3L383.8 730.3L384.0 728.4L384.2 726.4L384.4 724.4L384.5 722.4L384.7 720.4L384.9 718.4L385.1 716.4L385.3 714.4L385.5 712.4L385.7 710.4L385.8 708.4L386.0 706.4L386.2 704.4L386.4 702.4L386.6 700.4L386.8 698.5L386.9 696.5L387.1 694.5L387.3 692.5L387.5 690.5L387.6 688.5L387.8 686.5L388.0 684.5L388.2 682.5L388.3 680.5L388.5 678.5L388.7 676.5L388.9 674.5L389.0 672.5L389.2 670.5L389.4 668.5L389.6 666.5L389.7 664.5L389.9 662.5L390.1 660.6L390.2 658.6L390.4 656.6L390.6 654.6L390.7 652.6L390.9 650.6L391.1 648.6L391.2 646.6L391.4 644.6L391.5 642.6L391.7 640.6L391.9 638.6L392.0 636.6L392.2 634.6L392.3 632.6L392.5 630.6L392.7 628.6L392.8 626.6L393.0 624.6L393.1 622.6L393.3 620.6L393.4 618.6L393.6 616.6L393.7 614.7L393.9 612.7L394.0 610.7L394.2 608.7L394.3 606.7L394.5 604.7L394.6 602.7L394.8 600.7L394.9 598.7L395.1 596.7L395.2 594.7L395.4 592.7L395.5 590.7L395.7 588.7L395.8 586.7L395.9 584.7L396.1 582.7L396.2 580.7L396.4 578.7L396.5 576.7L396.6 574.7L396.8 572.7L396.9 570.7L397.1 568.7L397.2 566.7L397.3 564.7L397.5 562.7L397.6 560.7L397.7 558.7L397.9 556.7L398.0 554.7L398.2 552.7L398.3 550.7L398.4 548.7L398.6 546.8L398.7 544.8L398.8 542.8L399.0 540.8L399.1 538.8L399.2 536.8L399.4 534.8L399.5 532.8L399.7 530.8L399.8 528.8L399.9 526.8L400.1 524.8L400.2 522.8L400.3 520.8L400.5 518.8L400.6 516.8L400.7 514.8L400.9 512.8L401.0 510.8L401.1 508.8L401.3 506.8L401.4 504.8L401.5 502.8L401.7 500.8L401.8 498.8L401.9 496.8L402.1 494.8L402.2 492.8L402.3 490.8L402.5 488.8L402.6 486.8L402.8 484.8L402.9 482.8L403.0 480.8L403.2 478.8L403.3 476.8L403.4 474.8L403.6 472.8L403.7 470.8L403.8 468.8L404.0 466.8L404.1 464.8L404.2 462.9L404.4 460.9L404.5 458.9L404.6 456.9L404.8 454.9L404.9 452.9L405.0 450.9L405.2 448.9L405.3 446.9L405.4 444.9L405.6 442.9L405.7 440.9L405.8 438.9L406.0 436.9L406.1 434.9L406.2 432.9L406.4 430.9L406.5 428.9L406.6 426.9L406.8 424.9L406.9 422.9L407.0 420.9L407.2 418.9L407.3 416.9L407.4 414.9L407.6 412.9L407.7 410.9L407.8 408.9L408.0 406.9L408.1 404.9L408.2 402.9L408.4 400.9L408.5 398.9L408.6 396.9L408.8 394.9L408.9 392.9L409.1 390.9L409.2 388.9L409.3 386.9L409.5 384.9L409.6 382.9L409.7 380.9L409.9 379.0L410.0 377.0L410.1 375.0L410.3 373.0L410.4 371.0L410.5 369.0L410.7 367.0L410.8 365.0L411.0 363.0L411.1 361.0L411.2 359.0L411.4 357.0L411.5 355.0L411.6 353.0L411.8 351.0L411.9 349.0L412.1 347.0L412.2 345.0L412.3 343.0L412.5 341.0L412.6 339.0L412.7 337.0L412.9 335.0L413.0 333.0L413.2 331.0L413.3 329.0L413.4 327.0L413.6 325.0L413.7 323.0L413.9 321.0L414.0 319.0L414.1 317.0L414.3 315.0L414.4 313.0L414.6 311.0L414.7 309.0L414.8 307.0L415.0 305.0L415.1 303.1L415.3 301.1L415.4 299.1L415.6 297.1L415.7 295.1L415.8 293.1L416.0 291.1L416.1 289.1L416.3 287.1L416.4 285.1L416.6 283.1L416.7 281.1L416.9 279.1L417.0 277.1L417.2 275.1L417.3 273.1L417.4 271.1L417.6 269.1L417.7 267.1L417.9 265.1L418.0 263.1L418.2 261.1L418.3 259.1L418.5 257.1L418.6 255.1L418.8 253.1L418.9 251.1L419.1 249.1L419.2 247.1L419.4 245.1L419.5 243.2L419.7 241.2L419.9 239.2L420.0 237.2L420.2 235.2L420.3 233.2L420.5 231.2L420.6 229.2L420.8 227.2L420.9 225.2L421.1 223.2L421.3 221.2L421.4 219.2L421.6 217.2L421.7 215.2L421.9 213.2L422.1 211.2L422.2 209.2L422.4 207.2L422.6 205.2L422.7 203.2L422.9 201.2L423.1 199.2L423.2 197.2L423.4 195.3L423.6 193.3L423.7 191.3L423.9 189.3L424.1 187.3L424.2 185.3L424.4 183.3L424.6 181.3L424.8 179.3L424.9 177.3L425.1 175.3L425.3 173.3L425.5 171.3L425.6 169.3L425.8 167.3L426.0 165.3L426.2 163.3L426.4 161.3L426.6 159.4L426.7 157.4L426.9 155.4L427.1 153.4L427.3 151.4L427.5 149.4L427.7 147.4L427.9 145.4L428.1 143.4L428.3 141.4L428.5 139.4L428.7 137.4L428.9 135.4L429.1 133.5L429.3 131.5L429.5 129.5L429.7 127.5L429.9 125.5L430.2 123.5L430.4 121.5L430.6 119.5L430.8 117.5L431.0 115.5L431.3 113.5L431.5 111.6L431.7 109.6L432.0 107.6L432.2 105.6L432.4 103.6L432.7 101.6L432.9 99.6L433.2 97.6L433.4 95.7L433.7 93.7L434.0 91.7L434.2 89.7L434.5 87.7L434.8 85.7L435.1 83.8L435.4 81.8L435.7 79.8L436.0 77.8L436.3 75.8L436.6 73.9L436.9 71.9L437.3 69.9L437.6 67.9L438.0 66.0L438.3 64.0L438.7 62.0L439.1 60.1L439.5 58.1L440.0 56.2L440.5 54.2L441.0 52.3L441.5 50.4L442.1 48.4L442.7 46.6L443.5 44.7L444.3 42.9L445.4 41.2L447.0 40.1L448.9 40.6L450.2 42.1L451.1 43.8L451.9 45.7L452.6 47.6L453.2 49.5L453.8 51.4L454.3 53.3L454.8 55.3L455.3 57.2L455.7 59.2L456.1 61.1L456.5 63.1L456.9 65.1L457.2 67.0L457.6 69.0L457.9 71.0L458.3 72.9L458.6 74.9L458.9 76.9L459.2 78.9L459.5 80.9L459.8 82.8L460.1 84.8L460.4 86.8L460.6 88.8L460.9 90.8L461.2 92.8L461.4 94.7L461.7 96.7L462.0 98.7L462.2 100.7L462.5 102.7L462.7 104.7L462.9 106.7L463.2 108.6L463.4 110.6L463.6 112.6L463.9 114.6L464.1 116.6L464.3 118.6L464.5 120.6L464.8 122.6L465.0 124.6L465.2 126.6L465.4 128.5L465.6 130.5L465.8 132.5L466.0 134.5L466.2 136.5L466.4 138.5L466.6 140.5L466.8 142.5L467.0 144.5L467.2 146.5L467.4 148.5L467.6 150.5L467.8 152.5L468.0 154.4L468.2 156.4L468.4 158.4L468.5 160.4L468.7 162.4L468.9 164.4L469.1 166.4L469.3 168.4L469.4 170.4L469.6 172.4L469.8 174.4L470.0 176.4L470.2 178.4L470.3 180.4L470.5 182.4L470.7 184.4L470.9 186.3L471.0 188.3L471.2 190.3L471.4 192.3L471.5 194.3L471.7 196.3L471.9 198.3L472.0 200.3L472.2 202.3L472.4 204.3L472.5 206.3L472.7 208.3L472.9 210.3L473.0 212.3L473.2 214.3L473.3 216.3L473.5 218.3L473.7 220.3L473.8 222.3L474.0 224.3L474.1 226.3L474.3 228.3L474.5 230.2L474.6 232.2L474.8 234.2L474.9 236.2L475.1 238.2L475.2 240.2L475.4 242.2L475.5 244.2L475.7 246.2L475.8 248.2L476.0 250.2L476.1 252.2L476.3 254.2L476.4 256.2L476.6 258.2L476.7 260.2L476.9 262.2L477.0 264.2L477.2 266.2L477.3 268.2L477.5 270.2L477.6 272.2L477.8 274.2L477.9 276.2L478.1 278.2L478.2 280.2L478.4 282.2L478.5 284.2L478.7 286.2L478.8 288.1L478.9 290.1L479.1 292.1L479.2 294.1L479.4 296.1L479.5 298.1L479.7 300.1L479.8 302.1L480.0 304.1L480.1 306.1L480.2 308.1L480.4 310.1L480.5 312.1L480.7 314.1L480.8 316.1L481.0 318.1L481.1 320.1L481.3 322.1L481.4 324.1L481.6 326.1L481.7 328.1L481.9 330.1L482.0 332.1L482.2 334.1L482.3 336.1L482.5 338.1L482.6 340.1L482.8 342.1L482.9 344.1L483.1 346.1L483.2 348.1L483.4 350.0L483.5 352.0L483.7 354.0L483.8 356.0L484.0 358.0L484.1 360.0L484.3 362.0L484.4 364.0L484.6 366.0L484.7 368.0L484.9 370.0L485.0 372.0L485.2 374.0L485.3 376.0L485.5 378.0L485.6 380.0L485.8 382.0L486.0 384.0L486.1 386.0L486.3 388.0L486.4 390.0L486.6 392.0L486.7 394.0L486.9 396.0L487.0 398.0L487.2 400.0L487.3 402.0L487.5 403.9L487.6 405.9L487.8 407.9L487.9 409.9L488.1 411.9L488.2 413.9L488.4 415.9L488.5 417.9L488.7 419.9L488.8 421.9L489.0 423.9L489.1 425.9L489.3 427.9L489.4 429.9L489.6 431.9L489.7 433.9L489.9 435.9L490.0 437.9L490.2 439.9L490.3 441.9L490.5 443.9L490.6 445.9L490.8 447.9L490.9 449.9L491.1 451.9L491.2 453.9L491.4 455.9L491.5 457.9L491.7 459.9L491.8 461.8L492.0 463.8L492.1 465.8L492.3 467.8L492.4 469.8L492.6 471.8L492.7 473.8L492.9 475.8L493.0 477.8L493.2 479.8L493.3 481.8L493.5 483.8L493.6 485.8L493.8 487.8L493.9 489.8L494.1 491.8L494.3 493.8L494.4 495.8L494.6 497.8L494.7 499.8L494.9 501.8L495.0 503.8L495.2 505.8L495.3 507.8L495.5 509.8L495.6 511.8L495.8 513.8L496.0 515.7L496.1 517.7L496.3 519.7L496.4 521.7L496.6 523.7L496.7 525.7L496.9 527.7L497.0 529.7L497.2 531.7L497.4 533.7L497.5 535.7L497.7 537.7L497.8 539.7L498.0 541.7L498.2 543.7L498.3 545.7L498.5 547.7L498.7 549.7L498.8 551.7L499.0 553.7L499.1 555.7L499.3 557.7L499.5 559.7L499.6 561.6L499.8 563.6L500.0 565.6L500.1 567.6L500.3 569.6L500.5 571.6L500.6 573.6L500.8 575.6L501.0 577.6L501.1 579.6L501.3 581.6L501.5 583.6L501.7 585.6L501.8 587.6L502.0 589.6L502.2 591.6L502.4 593.6L502.5 595.6L502.7 597.6L502.9 599.5L503.1 601.5L503.3 603.5L503.4 605.5L503.6 607.5L503.8 609.5L504.0 611.5L504.2 613.5L504.4 615.5L504.6 617.5L504.7 619.5L504.9 621.5L505.1 623.5L505.3 625.5L505.5 627.5L505.7 629.4L505.9 631.4L506.1 633.4L506.3 635.4L506.6 637.4L506.8 639.4L507.0 641.4L507.2 643.4L507.4 645.4L507.6 647.4L507.8 649.4L508.0 651.3L508.3 653.3L508.5 655.3L508.7 657.3L508.9 659.3L509.2 661.3L509.4 663.3L509.6 665.3L509.8 667.3L510.1 669.3L510.3 671.2L510.5 673.2L510.8 675.2L511.0 677.2L511.3 679.2L511.5 681.2L511.7 683.2L512.0 685.2L512.2 687.1L512.5 689.1L512.7 691.1L513.0 693.1L513.2 695.1L513.5 697.1L513.7 699.1L514.0 701.1L514.2 703.0L514.5 705.0L514.7 707.0L515.0 709.0L515.2 711.0L515.5 713.0L515.8 714.9L516.0 716.9L516.3 718.9L516.6 720.9L516.8 722.9L517.1 724.9L517.4 726.8L517.7 728.8L518.0 730.8L518.3 732.8L518.6 734.8L518.9 736.7L519.2 738.7L519.5 740.7L519.9 742.7L520.2 744.7L520.5 746.6L520.8 748.6L521.1 750.6L521.4 752.6L521.8 754.5L522.1 756.5L522.4 758.5L522.7 760.5L523.0 762.4L523.4 764.4L523.7 766.4L524.0 768.4L524.3 770.4L524.6 772.3L524.9 774.3L525.2 776.3L525.4 778.3L525.7 780.3L526.0 782.2L526.3 784.2L526.5 786.2L526.8 788.2L527.0 790.2L527.3 792.2L527.6 794.2L527.8 796.1L528.1 798.1L528.3 800.1L528.6 802.1L528.9 804.1L529.1 806.1L529.4 808.1L529.7 810.0L529.9 812.0L530.2 814.0L530.5 816.0L530.8 818.0L531.1 819.9L531.4 821.9L531.7 823.9L532.0 825.9L532.3 827.9L532.6 829.8L532.9 831.8L533.2 833.8L533.6 835.8L533.9 837.7L534.2 839.7L534.5 841.7L534.9 843.7L535.2 845.6L535.6 847.6L535.9 849.6L536.3 851.5L536.7 853.5L537.1 855.5L537.4 857.4L537.8 859.4L538.2 861.4L538.7 863.3L539.1 865.3L539.5 867.2L540.0 869.2L540.4 871.1L540.9 873.1L541.3 875.0L541.8 877.0L542.3 878.9L542.8 880.9L543.3 882.8L543.8 884.8L544.3 886.7L544.8 888.6L545.3 890.6L545.8 892.5L546.4 894.4L547.0 896.3L547.5 898.2L548.1 900.2L548.7 902.1L549.3 904.0L550.0 905.9L550.6 907.8L551.3 909.7L551.9 911.6L552.6 913.4L553.3 915.3L553.9 917.2L554.6 919.1L555.3 921.0L556.0 922.8L556.7 924.7L557.4 926.6L558.2 928.5L558.9 930.3L559.6 932.2L560.4 934.0L561.1 935.9L561.9 937.8L562.7 939.6L563.4 941.4L564.2 943.3L565.0 945.1L565.8 946.9L566.7 948.8L567.5 950.6L568.3 952.4L569.2 954.2L570.0 956.0L570.9 957.9L571.7 959.7L572.6 961.5L573.5 963.3L574.4 965.1L575.3 966.9L576.2 968.6L577.1 970.4L578.0 972.2L578.9 974.0L579.8 975.8L580.7 977.5L581.7 979.3L582.6 981.1L583.6 982.8L584.6 984.6L585.6 986.3L586.6 988.0L587.6 989.8L588.6 991.5L589.7 993.2L590.8 994.9L591.9 996.5L593.0 998.2L594.2 999.8L595.4 1001.4L596.6 1003.0L597.8 1004.6L599.1 1006.2L600.3 1007.7L601.7 1009.2L603.0 1010.7L604.3 1012.2L605.7 1013.6L607.1 1015.1L608.5 1016.5L609.9 1017.9L611.4 1019.3L612.9 1020.6L614.4 1022.0L615.9 1023.3L617.4 1024.5L619.0 1025.8L620.6 1027.0L622.2 1028.2L623.8 1029.4L625.4 1030.6L627.1 1031.7L628.7 1032.8L630.4 1034.0L632.0 1035.1L633.7 1036.2L635.4 1037.2L637.1 1038.3L638.8 1039.3L640.5 1040.4L642.3 1041.4L644.0 1042.4L645.8 1043.3L647.5 1044.3L649.3 1045.2L651.1 1046.1L652.9 1047.0L654.6 1047.9L656.4 1048.8L658.3 1049.7L660.1 1050.5L661.9 1051.4L663.7 1052.2L665.5 1053.0L667.4 1053.8L669.2 1054.7L671.0 1055.5L672.9 1056.3L674.7 1057.0L676.5 1057.8L678.4 1058.6L680.3 1059.3L682.1 1060.1L684.0 1060.8L685.9 1061.5L687.7 1062.2L689.6 1062.9L691.5 1063.5L693.4 1064.2L695.3 1064.9L697.2 1065.5L699.1 1066.2L701.0 1066.8L702.9 1067.4L704.8 1068.1L706.7 1068.7L708.6 1069.3L710.5 1069.9L712.4 1070.6L714.3 1071.2L716.2 1071.7L718.1 1072.3L720.0 1072.9L722.0 1073.4L723.9 1073.9L725.8 1074.5L727.8 1075.0L729.7 1075.5L731.6 1076.0L733.6 1076.5L735.5 1077.0L737.5 1077.5L739.4 1077.9L741.4 1078.4L743.3 1078.8L745.3 1079.2L747.3 1079.6L749.2 1079.9L751.2 1080.3L753.2 1080.7L755.1 1081.1L757.1 1081.4L759.1 1081.8L761.0 1082.1L763.0 1082.4L765.0 1082.7L767.0 1083.0L768.9 1083.4L770.9 1083.7L772.9 1084.0L774.9 1084.3L776.9 1084.6L778.8 1084.9L780.8 1085.1L782.8 1085.3L784.8 1085.6L786.8 1085.8L788.8 1086.0L790.8 1086.2L792.8 1086.5L794.8 1086.7L796.7 1086.9L798.7 1087.1L800.7 1087.4L802.7 1087.5L804.7 1087.6L806.7 1087.7L808.7 1087.8L810.7 1087.9L812.7 1088.1L814.7 1088.2L816.7 1088.3L818.7 1088.4L820.7 1088.5L822.7 1088.6L824.7 1088.7L826.7 1088.8L828.7 1088.9L830.7 1088.9L832.7 1089.0L834.7 1089.0L836.7 1089.1L838.7 1089.1L840.7 1089.2L842.7 1089.3L844.7 1089.3L846.7 1089.4L848.7 1089.4L850.7 1089.5L852.7 1089.5L854.7 1089.5L856.7 1089.6L858.7 1089.6L860.7 1089.6L862.7 1089.6L864.7 1089.7L866.7 1089.7L868.7 1089.7L870.7 1089.7L872.7 1089.8L874.7 1089.8L876.7 1089.8L878.7 1089.9L880.8 1089.9L882.8 1089.9L884.8 1089.9L886.8 1090.0L888.8 1090.0L890.8 1090.0L892.8 1090.0L894.8 1090.1L896.8 1090.1L898.8 1090.1L900.8 1090.1L902.8 1090.2L904.8 1090.2L906.8 1090.2L908.8 1090.2L910.8 1090.2L912.8 1090.3L914.8 1090.3L916.8 1090.3L918.8 1090.3L920.8 1090.3L922.8 1090.3L924.8 1090.3L926.8 1090.4L928.8 1090.4L930.8 1090.4L932.8 1090.4L934.8 1090.4L936.8 1090.4L938.8 1090.4L940.8 1090.5L942.8 1090.5L944.8 1090.5L946.8 1090.5L948.8 1090.5L950.8 1090.5L952.8 1090.5L954.8 1090.6L956.8 1090.6L958.8 1090.6L960.8 1090.6L962.8 1090.6L964.8 1090.6L966.8 1090.5L968.8 1090.5L970.8 1090.5L972.8 1090.5L974.8 1090.5L976.9 1090.4L978.9 1090.4L980.9 1090.4L982.9 1090.4L984.9 1090.4L986.9 1090.3L988.9 1090.3L990.9 1090.3L992.9 1090.3L994.9 1090.3L996.9 1090.2L998.9 1090.2L1000.9 1090.2L1002.9 1090.2L1004.9 1090.2L1006.9 1090.3L1008.9 1090.3L1010.9 1090.3L1012.9 1090.3L1014.9 1090.3L1016.9 1090.4L1018.9 1090.4L1020.9 1090.4L1022.9 1090.4L1024.9 1090.4L1026.9 1090.5L1028.9 1090.5L1030.9 1090.5L1032.9 1090.5L1034.9 1090.5L1036.9 1090.6L1038.9 1090.6L1040.9 1090.6L1042.9 1090.6L1044.9 1090.6L1046.9 1090.7L1048.9 1090.7L1050.9 1090.7L1052.9 1090.7L1054.9 1090.7L1056.9 1090.8L1058.9 1090.8L1060.9 1090.8L1062.9 1090.8L1064.9 1090.8L1066.9 1090.8L1068.9 1090.8L1070.9 1090.8L1072.9 1090.8L1075.0 1090.8L1077.0 1090.7L1079.0 1090.7L1081.0 1090.7L1083.0 1090.7L1085.0 1090.7L1087.0 1090.7L1089.0 1090.7L1091.0 1090.7L1093.0 1090.7L1095.0 1090.7L1097.0 1090.7L1099.0 1090.7L1101.0 1090.7L1103.0 1090.7L1105.0 1090.7L1107.0 1090.6L1109.0 1090.6L1111.0 1090.6L1113.0 1090.6L1115.0 1090.6L1117.0 1090.6L1119.0 1090.6L1121.0 1090.6" fill="none" stroke="#DA7028" stroke-width="11.3" stroke-linejoin="round" stroke-linecap="round" clip-path="url(#ca)"/>
<path d="M202.9 1088.9L204.9 1088.8L206.9 1088.8L208.9 1088.7L210.9 1088.6L212.9 1088.6L214.9 1088.5L216.9 1088.4L218.9 1088.2L220.9 1088.1L222.9 1087.9L224.9 1087.7L226.9 1087.6L228.9 1087.4L230.9 1087.3L232.9 1087.1L234.9 1086.9L236.9 1086.8L238.9 1086.6L240.8 1086.3L242.8 1085.9L244.7 1085.4L246.7 1085.0L248.6 1084.5L250.6 1084.0L252.5 1083.5L254.5 1083.1L256.4 1082.6L258.4 1082.1L260.3 1081.7L262.3 1081.2L264.2 1080.7L266.2 1080.3L268.1 1079.8L270.1 1079.3L272.0 1078.8L273.9 1078.2L275.8 1077.6L277.7 1077.0L279.6 1076.3L281.5 1075.6L283.4 1074.9L285.2 1074.2L287.1 1073.4L288.9 1072.5L290.7 1071.7L292.5 1070.7L294.2 1069.8L296.0 1068.8L297.7 1067.7L299.4 1066.7L301.0 1065.5L302.7 1064.4L304.3 1063.2L305.8 1061.9L307.4 1060.7L308.9 1059.3L310.4 1058.0L311.8 1056.6L313.2 1055.2L314.6 1053.8L316.0 1052.3L317.3 1050.8L318.6 1049.3L319.9 1047.7L321.1 1046.1L322.3 1044.5L323.5 1042.9L324.6 1041.2L325.7 1039.5L326.7 1037.8L327.7 1036.1L328.6 1034.3L329.6 1032.5L330.5 1030.8L331.4 1029.0L332.2 1027.1L333.0 1025.3L333.8 1023.5L334.6 1021.6L335.4 1019.8L336.1 1017.9L336.9 1016.1L337.6 1014.2L338.3 1012.3L339.0 1010.4L339.7 1008.6L340.4 1006.7L341.0 1004.8L341.7 1002.9L342.3 1001.0L343.0 999.1L343.6 997.2L344.3 995.3L344.9 993.4L345.5 991.5L346.1 989.6L346.8 987.7L347.4 985.8L347.9 983.9L348.5 981.9L349.1 980.0L349.6 978.1L350.2 976.2L350.7 974.2L351.2 972.3L351.7 970.4L352.2 968.4L352.7 966.5L353.2 964.5L353.6 962.6L354.1 960.6L354.5 958.7L354.9 956.7L355.3 954.8L355.7 952.8L356.1 950.8L356.5 948.9L356.9 946.9L357.3 944.9L357.7 943.0L358.1 941.0L358.4 939.0L358.8 937.1L359.2 935.1L359.5 933.1L359.9 931.1L360.2 929.2L360.6 927.2L360.9 925.2L361.3 923.3L361.6 921.3L361.9 919.3L362.3 917.3L362.6 915.4L362.9 913.4L363.3 911.4L363.6 909.4L363.9 907.4L364.2 905.5L364.6 903.5L364.9 901.5L365.2 899.5L365.5 897.6L365.8 895.6L366.1 893.6L366.4 891.6L366.7 889.6L367.0 887.7L367.3 885.7L367.6 883.7L367.9 881.7L368.2 879.7L368.4 877.7L368.7 875.8L369.0 873.8L369.3 871.8L369.5 869.8L369.8 867.8L370.0 865.8L370.3 863.8L370.6 861.9L370.8 859.9L371.0 857.9L371.3 855.9L371.5 853.9L371.8 851.9L372.0 849.9L372.2 847.9L372.5 845.9L372.7 844.0L372.9 842.0L373.1 840.0L373.4 838.0L373.6 836.0L373.8 834.0L374.0 832.0L374.2 830.0L374.4 828.0L374.7 826.0L374.9 824.0L375.1 822.0L375.3 820.1L375.5 818.1L375.7 816.1L375.9 814.1L376.1 812.1L376.3 810.1L376.5 808.1L376.7 806.1L376.9 804.1L377.1 802.1L377.3 800.1L377.5 798.1L377.7 796.1L377.9 794.1L378.1 792.2L378.3 790.2L378.5 788.2L378.7 786.2L378.9 784.2L379.1 782.2L379.3 780.2L379.5 778.2L379.7 776.2L379.9 774.2L380.1 772.2L380.3 770.2L380.5 768.2L380.6 766.2L380.8 764.2L381.0 762.2L381.2 760.2L381.4 758.3L381.6 756.3L381.8 754.3L382.0 752.3L382.2 750.3L382.4 748.3L382.6 746.3L382.8 744.3L383.0 742.3L383.2 740.3L383.3 738.3L383.5 736.3L383.7 734.3L383.9 732.3L384.1 730.3L384.3 728.3L384.5 726.3L384.7 724.4L384.9 722.4L385.0 720.4L385.2 718.4L385.4 716.4L385.6 714.4L385.8 712.4L386.0 710.4L386.1 708.4L386.3 706.4L386.5 704.4L386.7 702.4L386.9 700.4L387.1 698.4L387.2 696.4L387.4 694.4L387.6 692.4L387.8 690.4L387.9 688.4L388.1 686.4L388.3 684.5L388.5 682.5L388.7 680.5L388.8 678.5L389.0 676.5L389.2 674.5L389.3 672.5L389.5 670.5L389.7 668.5L389.9 666.5L390.0 664.5L390.2 662.5L390.4 660.5L390.5 658.5L390.7 656.5L390.9 654.5L391.0 652.5L391.2 650.5L391.3 648.5L391.5 646.5L391.7 644.5L391.8 642.5L392.0 640.5L392.1 638.5L392.3 636.5L392.4 634.5L392.6 632.5L392.7 630.5L392.8 628.5L393.0 626.5L393.1 624.5L393.3 622.6L393.4 620.6L393.5 618.6L393.7 616.6L393.8 614.6L393.9 612.6L394.1 610.6L394.2 608.6L394.3 606.6L394.4 604.6L394.6 602.6L394.7 600.6L394.8 598.6L394.9 596.6L395.0 594.6L395.2 592.6L395.3 590.6L395.4 588.6L395.5 586.6L395.6 584.6L395.7 582.6L395.9 580.6L396.0 578.6L396.1 576.6L396.2 574.6L396.3 572.6L396.4 570.6L396.5 568.6L396.6 566.6L396.8 564.6L396.9 562.6L397.0 560.6L397.1 558.6L397.2 556.6L397.3 554.6L397.4 552.6L397.5 550.6L397.7 548.6L397.8 546.6L397.9 544.6L398.0 542.6L398.1 540.6L398.2 538.6L398.4 536.6L398.5 534.6L398.6 532.6L398.7 530.6L398.8 528.6L398.9 526.6L399.1 524.6L399.2 522.6L399.3 520.6L399.4 518.6L399.6 516.6L399.7 514.6L399.8 512.6L399.9 510.6L400.1 508.6L400.2 506.6L400.3 504.6L400.4 502.6L400.6 500.6L400.7 498.6L400.8 496.6L401.0 494.6L401.1 492.6L401.2 490.6L401.4 488.6L401.5 486.6L401.7 484.6L401.8 482.6L401.9 480.6L402.1 478.6L402.2 476.6L402.4 474.6L402.5 472.6L402.7 470.6L402.8 468.6L403.0 466.6L403.1 464.6L403.3 462.6L403.4 460.6L403.6 458.6L403.8 456.6L403.9 454.6L404.1 452.6L404.2 450.6L404.4 448.6L404.6 446.6L404.7 444.6L404.9 442.6L405.1 440.6L405.3 438.6L405.4 436.6L405.6 434.7L405.8 432.7L406.0 430.7L406.1 428.7L406.3 426.7L406.5 424.7L406.7 422.7L406.9 420.7L407.1 418.7L407.2 416.7L407.4 414.7L407.6 412.7L407.8 410.7L408.0 408.7L408.2 406.7L408.4 404.7L408.6 402.7L408.8 400.7L409.0 398.8L409.2 396.8L409.4 394.8L409.6 392.8L409.8 390.8L410.0 388.8L410.2 386.8L410.4 384.8L410.6 382.8L410.8 380.8L411.1 378.8L411.3 376.8L411.5 374.8L411.7 372.9L411.9 370.9L412.1 368.9L412.4 366.9L412.6 364.9L412.8 362.9L413.1 360.9L413.3 358.9L413.5 356.9L413.8 354.9L414.0 353.0L414.2 351.0L414.5 349.0L414.7 347.0L415.0 345.0L415.2 343.0L415.5 341.0L415.8 339.0L416.0 337.1L416.3 335.1L416.6 333.1L416.8 331.1L417.1 329.1L417.4 327.1L417.7 325.2L418.0 323.2L418.3 321.2L418.6 319.2L418.9 317.2L419.2 315.3L419.6 313.3L419.9 311.3L420.2 309.3L420.6 307.4L421.0 305.4L421.3 303.4L421.7 301.5L422.1 299.5L422.6 297.5L423.0 295.6L423.5 293.6L424.0 291.7L424.5 289.8L425.0 287.8L425.6 285.9L426.3 284.0L427.0 282.2L427.9 280.4L429.0 278.7L430.4 277.3L432.3 277.4L433.8 278.6L434.9 280.3L435.8 282.1L436.5 283.9L437.2 285.8L437.8 287.7L438.3 289.7L438.9 291.6L439.4 293.5L439.8 295.5L440.3 297.4L440.7 299.4L441.1 301.4L441.5 303.3L441.8 305.3L442.2 307.3L442.5 309.2L442.9 311.2L443.2 313.2L443.6 315.2L443.9 317.1L444.2 319.1L444.5 321.1L444.8 323.1L445.1 325.1L445.4 327.0L445.6 329.0L445.9 331.0L446.2 333.0L446.5 335.0L446.7 337.0L447.0 338.9L447.3 340.9L447.5 342.9L447.8 344.9L448.0 346.9L448.3 348.9L448.5 350.9L448.7 352.9L449.0 354.9L449.2 356.8L449.5 358.8L449.7 360.8L449.9 362.8L450.1 364.8L450.4 366.8L450.6 368.8L450.8 370.8L451.0 372.8L451.2 374.8L451.5 376.7L451.7 378.7L451.9 380.7L452.1 382.7L452.3 384.7L452.5 386.7L452.7 388.7L452.9 390.7L453.1 392.7L453.3 394.7L453.5 396.7L453.7 398.7L453.9 400.7L454.1 402.7L454.3 404.6L454.5 406.6L454.7 408.6L454.9 410.6L455.1 412.6L455.3 414.6L455.5 416.6L455.7 418.6L455.9 420.6L456.1 422.6L456.2 424.6L456.4 426.6L456.6 428.6L456.8 430.6L457.0 432.6L457.2 434.6L457.4 436.6L457.5 438.5L457.7 440.5L457.9 442.5L458.1 444.5L458.3 446.5L458.4 448.5L458.6 450.5L458.8 452.5L459.0 454.5L459.2 456.5L459.3 458.5L459.5 460.5L459.7 462.5L459.9 464.5L460.0 466.5L460.2 468.5L460.4 470.5L460.6 472.5L460.7 474.5L460.9 476.5L461.1 478.5L461.2 480.5L461.4 482.5L461.6 484.4L461.8 486.4L461.9 488.4L462.1 490.4L462.3 492.4L462.4 494.4L462.6 496.4L462.8 498.4L462.9 500.4L463.1 502.4L463.3 504.4L463.4 506.4L463.6 508.4L463.8 510.4L463.9 512.4L464.1 514.4L464.3 516.4L464.5 518.4L464.6 520.4L464.8 522.4L464.9 524.4L465.1 526.4L465.3 528.4L465.4 530.4L465.6 532.4L465.8 534.4L465.9 536.4L466.1 538.3L466.3 540.3L466.4 542.3L466.6 544.3L466.8 546.3L466.9 548.3L467.1 550.3L467.2 552.3L467.4 554.3L467.6 556.3L467.7 558.3L467.9 560.3L468.1 562.3L468.2 564.3L468.4 566.3L468.6 568.3L468.7 570.3L468.9 572.3L469.0 574.3L469.2 576.3L469.4 578.3L469.5 580.3L469.7 582.3L469.9 584.3L470.0 586.3L470.2 588.3L470.3 590.3L470.5 592.3L470.7 594.3L470.8 596.3L471.0 598.2L471.2 600.2L471.3 602.2L471.5 604.2L471.6 606.2L471.8 608.2L472.0 610.2L472.1 612.2L472.3 614.2L472.5 616.2L472.6 618.2L472.8 620.2L472.9 622.2L473.1 624.2L473.3 626.2L473.4 628.2L473.6 630.2L473.8 632.2L473.9 634.2L474.1 636.2L474.3 638.2L474.4 640.2L474.6 642.2L474.8 644.2L474.9 646.2L475.1 648.2L475.2 650.2L475.4 652.2L475.6 654.2L475.7 656.1L475.9 658.1L476.1 660.1L476.2 662.1L476.4 664.1L476.6 666.1L476.7 668.1L476.9 670.1L477.1 672.1L477.2 674.1L477.4 676.1L477.6 678.1L477.7 680.1L477.9 682.1L478.1 684.1L478.2 686.1L478.4 688.1L478.6 690.1L478.8 692.1L478.9 694.1L479.1 696.1L479.3 698.1L479.4 700.1L479.6 702.1L479.8 704.1L480.0 706.1L480.1 708.0L480.3 710.0L480.5 712.0L480.6 714.0L480.8 716.0L481.0 718.0L481.2 720.0L481.3 722.0L481.5 724.0L481.7 726.0L481.9 728.0L482.0 730.0L482.2 732.0L482.4 734.0L482.6 736.0L482.8 738.0L482.9 740.0L483.1 742.0L483.3 744.0L483.5 746.0L483.6 748.0L483.8 750.0L484.0 752.0L484.2 753.9L484.4 755.9L484.6 757.9L484.7 759.9L484.9 761.9L485.1 763.9L485.3 765.9L485.5 767.9L485.7 769.9L485.8 771.9L486.0 773.9L486.2 775.9L486.4 777.9L486.6 779.9L486.8 781.9L487.0 783.9L487.2 785.9L487.4 787.9L487.6 789.8L487.7 791.8L487.9 793.8L488.1 795.8L488.3 797.8L488.5 799.8L488.7 801.8L488.9 803.8L489.1 805.8L489.3 807.8L489.5 809.8L489.7 811.8L489.9 813.8L490.1 815.8L490.3 817.8L490.5 819.8L490.7 821.7L490.9 823.7L491.1 825.7L491.3 827.7L491.5 829.7L491.8 831.7L492.0 833.7L492.2 835.7L492.4 837.7L492.6 839.7L492.8 841.7L493.0 843.7L493.2 845.6L493.5 847.6L493.7 849.6L493.9 851.6L494.1 853.6L494.3 855.6L494.6 857.6L494.8 859.6L495.0 861.6L495.2 863.6L495.5 865.6L495.7 867.5L495.9 869.5L496.2 871.5L496.4 873.5L496.6 875.5L496.9 877.5L497.1 879.5L497.3 881.5L497.6 883.5L497.8 885.5L498.1 887.4L498.3 889.4L498.6 891.4L498.8 893.4L499.1 895.4L499.3 897.4L499.6 899.4L499.8 901.4L500.1 903.3L500.3 905.3L500.6 907.3L500.9 909.3L501.1 911.3L501.4 913.3L501.7 915.3L501.9 917.2L502.2 919.2L502.5 921.2L502.8 923.2L503.0 925.2L503.3 927.2L503.6 929.1L503.9 931.1L504.2 933.1L504.5 935.1L504.8 937.1L505.1 939.1L505.4 941.0L505.7 943.0L506.0 945.0L506.3 947.0L506.6 948.9L506.9 950.9L507.3 952.9L507.6 954.9L507.9 956.9L508.3 958.8L508.6 960.8L508.9 962.8L509.3 964.8L509.6 966.7L510.0 968.7L510.3 970.7L510.7 972.6L511.1 974.6L511.4 976.6L511.8 978.5L512.2 980.5L512.6 982.5L513.0 984.4L513.4 986.4L513.8 988.4L514.2 990.3L514.6 992.3L515.0 994.2L515.5 996.2L515.9 998.2L516.4 1000.1L516.8 1002.1L517.3 1004.0L517.8 1005.9L518.2 1007.9L518.7 1009.8L519.2 1011.8L519.7 1013.7L520.3 1015.6L520.8 1017.6L521.4 1019.5L521.9 1021.4L522.5 1023.3L523.1 1025.3L523.7 1027.2L524.3 1029.1L524.9 1031.0L525.6 1032.9L526.2 1034.8L526.9 1036.6L527.6 1038.5L528.4 1040.4L529.1 1042.2L529.9 1044.1L530.7 1045.9L531.6 1047.7L532.4 1049.5L533.3 1051.3L534.3 1053.1L535.2 1054.9L536.3 1056.6L537.3 1058.3L538.4 1060.0L539.6 1061.6L540.8 1063.2L542.0 1064.8L543.3 1066.3L544.7 1067.8L546.1 1069.2L547.6 1070.5L549.1 1071.8L550.7 1073.0L552.3 1074.2L554.0 1075.2L555.8 1076.2L557.6 1077.1L559.4 1077.9L561.3 1078.7L563.1 1079.4L565.0 1080.0L567.0 1080.6L568.9 1081.1L570.9 1081.5L572.8 1081.9L574.8 1082.3L576.8 1082.6L578.8 1082.9L580.7 1083.1L582.7 1083.4L584.7 1083.6L586.7 1083.8L588.7 1084.0L590.7 1084.2L592.7 1084.3L594.7 1084.5L596.7 1084.6L598.7 1084.7L600.7 1084.9L602.7 1085.0L604.7 1085.1L606.7 1085.2L608.7 1085.3L610.7 1085.4L612.7 1085.5L614.7 1085.5L616.7 1085.6L618.7 1085.7L620.7 1085.8L622.7 1085.9L624.7 1085.9L626.7 1086.0L628.7 1086.1L630.7 1086.1L632.7 1086.2L634.7 1086.3L636.7 1086.3L638.7 1086.4L640.7 1086.4L642.7 1086.5L644.7 1086.5L646.7 1086.6L648.7 1086.7L650.7 1086.7L652.7 1086.7L654.7 1086.8L656.7 1086.8L658.7 1086.9L660.8 1086.9L662.8 1087.0L664.8 1087.0L666.8 1087.1L668.8 1087.1L670.8 1087.1L672.8 1087.2L674.8 1087.2L676.8 1087.2L678.8 1087.3L680.8 1087.3L682.8 1087.3L684.8 1087.4L686.8 1087.4L688.8 1087.4L690.8 1087.5L692.8 1087.5L694.8 1087.5L696.8 1087.6L698.8 1087.6L700.8 1087.6L702.8 1087.6L704.8 1087.7L706.8 1087.7L708.8 1087.7L710.8 1087.7L712.8 1087.8L714.8 1087.8L716.8 1087.8L718.8 1087.8L720.8 1087.9L722.8 1087.9L724.9 1087.9L726.9 1087.9L728.9 1087.9L730.9 1088.0L732.9 1088.0L734.9 1088.0L736.9 1088.0L738.9 1088.0L740.9 1088.1L742.9 1088.1L744.9 1088.1L746.9 1088.1L748.9 1088.1L750.9 1088.2L752.9 1088.2L754.9 1088.2L756.9 1088.2L758.9 1088.2L760.9 1088.2L762.9 1088.2L764.9 1088.3L766.9 1088.3L768.9 1088.3L770.9 1088.3L772.9 1088.3L774.9 1088.3L776.9 1088.3L778.9 1088.4L780.9 1088.4L782.9 1088.4L784.9 1088.4L787.0 1088.4L789.0 1088.4L791.0 1088.4L793.0 1088.4L795.0 1088.5L797.0 1088.5L799.0 1088.5L801.0 1088.5L803.0 1088.5L805.0 1088.5L807.0 1088.5L809.0 1088.5L811.0 1088.5L813.0 1088.5L815.0 1088.6L817.0 1088.6L819.0 1088.6L821.0 1088.6L823.0 1088.6L825.0 1088.6L827.0 1088.6L829.0 1088.6L831.0 1088.6L833.0 1088.6L835.0 1088.6L837.0 1088.7L839.0 1088.7L841.0 1088.7L843.0 1088.7L845.0 1088.7L847.0 1088.7L849.1 1088.7L851.1 1088.7L853.1 1088.7L855.1 1088.7L857.1 1088.7L859.1 1088.7L861.1 1088.7L863.1 1088.8L865.1 1088.8L867.1 1088.8L869.1 1088.8L871.1 1088.8L873.1 1088.8L875.1 1088.8L877.1 1088.8L879.1 1088.8L881.1 1088.8L883.1 1088.8L885.1 1088.8L887.1 1088.8L889.1 1088.8L891.1 1088.8L893.1 1088.8L895.1 1088.9L897.1 1088.9L899.1 1088.9L901.1 1088.9L903.1 1088.9L905.1 1088.9L907.1 1088.9L909.2 1088.9L911.2 1088.9L913.2 1088.9L915.2 1088.9" fill="none" stroke="#000" stroke-width="3.6" stroke-linejoin="round" stroke-linecap="butt" stroke-dasharray="9 5" stroke-dashoffset="3.0" clip-path="url(#ca)"/>
<path d="M220.9 1088.9L222.9 1088.9L224.9 1088.9L226.9 1088.9L229.0 1088.9L231.0 1088.9L233.0 1088.8L235.0 1088.8L237.0 1088.8L239.0 1088.8L241.0 1088.8L243.0 1088.8L245.0 1088.8L247.0 1088.8L249.0 1088.7L251.0 1088.7L253.0 1088.7L255.0 1088.7L257.0 1088.7L259.0 1088.7L261.0 1088.7L263.0 1088.6L265.0 1088.6L267.0 1088.6L269.0 1088.6L271.0 1088.6L273.0 1088.6L275.0 1088.5L277.0 1088.5L279.0 1088.5L281.0 1088.5L283.1 1088.5L285.1 1088.4L287.1 1088.4L289.1 1088.4L291.1 1088.4L293.1 1088.3L295.1 1088.3L297.1 1088.3L299.1 1088.3L301.1 1088.2L303.1 1088.2L305.1 1088.2L307.1 1088.1L309.1 1088.1L311.1 1088.1L313.1 1088.0L315.1 1088.0L317.1 1088.0L319.1 1087.9L321.1 1087.9L323.1 1087.8L325.1 1087.7L327.1 1087.7L329.1 1087.6L331.1 1087.5L333.1 1087.4L335.1 1087.3L337.1 1087.2L339.1 1087.1L341.1 1086.9L343.1 1086.8L345.1 1086.6L347.1 1086.4L349.1 1086.1L351.1 1085.8L353.1 1085.5L355.0 1085.1L357.0 1084.7L358.9 1084.2L360.9 1083.7L362.8 1083.1L364.6 1082.4L366.5 1081.6L368.3 1080.7L370.1 1079.8L371.8 1078.8L373.5 1077.7L375.1 1076.5L376.6 1075.2L378.1 1073.9L379.6 1072.5L381.0 1071.1L382.3 1069.6L383.6 1068.0L384.8 1066.4L386.0 1064.8L387.1 1063.2L388.2 1061.5L389.2 1059.8L390.3 1058.0L391.2 1056.3L392.2 1054.5L393.1 1052.7L393.9 1050.9L394.8 1049.1L395.6 1047.3L396.4 1045.4L397.2 1043.6L397.9 1041.7L398.7 1039.9L399.4 1038.0L400.1 1036.1L400.8 1034.2L401.4 1032.3L402.1 1030.5L402.7 1028.5L403.3 1026.6L403.9 1024.7L404.5 1022.8L405.1 1020.9L405.7 1019.0L406.3 1017.1L406.8 1015.1L407.3 1013.2L407.9 1011.3L408.4 1009.3L408.9 1007.4L409.4 1005.5L409.9 1003.5L410.4 1001.6L410.9 999.6L411.4 997.7L411.9 995.8L412.4 993.8L412.8 991.9L413.3 989.9L413.7 988.0L414.2 986.0L414.6 984.0L415.1 982.1L415.5 980.1L415.9 978.2L416.3 976.2L416.8 974.3L417.2 972.3L417.6 970.3L418.0 968.4L418.4 966.4L418.8 964.5L419.2 962.5L419.6 960.5L420.0 958.6L420.4 956.6L420.8 954.6L421.2 952.7L421.5 950.7L421.9 948.7L422.3 946.8L422.7 944.8L423.0 942.8L423.4 940.9L423.8 938.9L424.1 936.9L424.5 934.9L424.9 933.0L425.2 931.0L425.6 929.0L425.9 927.1L426.3 925.1L426.6 923.1L427.0 921.1L427.3 919.2L427.7 917.2L428.0 915.2L428.4 913.2L428.7 911.3L429.1 909.3L429.4 907.3L429.7 905.4L430.1 903.4L430.4 901.4L430.8 899.4L431.1 897.5L431.4 895.5L431.8 893.5L432.1 891.5L432.4 889.6L432.8 887.6L433.1 885.6L433.4 883.6L433.8 881.6L434.1 879.7L434.4 877.7L434.8 875.7L435.1 873.7L435.4 871.8L435.8 869.8L436.1 867.8L436.4 865.8L436.8 863.9L437.1 861.9L437.4 859.9L437.8 857.9L438.1 856.0L438.4 854.0L438.8 852.0L439.1 850.0L439.4 848.1L439.8 846.1L440.1 844.1L440.4 842.1L440.8 840.2L441.1 838.2L441.5 836.2L441.8 834.2L442.1 832.3L442.5 830.3L442.8 828.3L443.2 826.3L443.5 824.4L443.9 822.4L444.2 820.4L444.6 818.4L444.9 816.5L445.3 814.5L445.7 812.5L446.0 810.6L446.4 808.6L446.7 806.6L447.1 804.6L447.5 802.7L447.9 800.7L448.2 798.7L448.6 796.8L449.0 794.8L449.4 792.8L449.8 790.9L450.2 788.9L450.6 787.0L451.0 785.0L451.4 783.0L451.8 781.1L452.2 779.1L452.7 777.2L453.1 775.2L453.6 773.2L454.0 771.3L454.5 769.3L454.9 767.4L455.4 765.5L455.9 763.5L456.4 761.6L456.9 759.6L457.5 757.7L458.0 755.8L458.6 753.8L459.2 751.9L459.8 750.0L460.4 748.1L461.1 746.2L461.8 744.4L462.5 742.5L463.3 740.7L464.2 738.9L465.2 737.1L466.3 735.4L467.6 733.9L469.1 732.6L471.0 732.0L472.9 732.5L474.5 733.6L475.9 735.1L477.0 736.8L478.0 738.5L478.9 740.3L479.7 742.1L480.5 744.0L481.2 745.9L481.9 747.7L482.5 749.6L483.1 751.5L483.7 753.5L484.3 755.4L484.8 757.3L485.4 759.2L485.9 761.2L486.4 763.1L486.9 765.1L487.4 767.0L487.8 769.0L488.3 770.9L488.8 772.8L489.2 774.8L489.6 776.8L490.1 778.7L490.5 780.7L490.9 782.6L491.3 784.6L491.7 786.6L492.1 788.5L492.5 790.5L492.9 792.4L493.3 794.4L493.7 796.4L494.1 798.3L494.5 800.3L494.8 802.3L495.2 804.3L495.6 806.2L495.9 808.2L496.3 810.2L496.7 812.1L497.0 814.1L497.4 816.1L497.7 818.0L498.1 820.0L498.4 822.0L498.8 824.0L499.1 825.9L499.5 827.9L499.8 829.9L500.2 831.9L500.5 833.8L500.9 835.8L501.2 837.8L501.5 839.8L501.9 841.7L502.2 843.7L502.6 845.7L502.9 847.7L503.2 849.6L503.6 851.6L503.9 853.6L504.2 855.6L504.6 857.5L504.9 859.5L505.2 861.5L505.6 863.5L505.9 865.4L506.2 867.4L506.6 869.4L506.9 871.4L507.2 873.3L507.6 875.3L507.9 877.3L508.2 879.3L508.6 881.2L508.9 883.2L509.2 885.2L509.6 887.2L509.9 889.2L510.2 891.1L510.6 893.1L510.9 895.1L511.2 897.1L511.6 899.0L511.9 901.0L512.2 903.0L512.6 905.0L512.9 906.9L513.3 908.9L513.6 910.9L514.0 912.8L514.3 914.8L514.6 916.8L515.0 918.8L515.3 920.7L515.7 922.7L516.0 924.7L516.4 926.7L516.8 928.6L517.1 930.6L517.5 932.6L517.8 934.5L518.2 936.5L518.6 938.5L518.9 940.5L519.3 942.4L519.7 944.4L520.0 946.4L520.4 948.3L520.8 950.3L521.2 952.3L521.6 954.2L521.9 956.2L522.3 958.2L522.7 960.1L523.1 962.1L523.5 964.1L523.9 966.0L524.3 968.0L524.7 969.9L525.1 971.9L525.6 973.9L526.0 975.8L526.4 977.8L526.8 979.7L527.3 981.7L527.7 983.7L528.1 985.6L528.6 987.6L529.0 989.5L529.5 991.5L530.0 993.4L530.4 995.4L530.9 997.3L531.4 999.3L531.9 1001.2L532.4 1003.1L532.9 1005.1L533.4 1007.0L533.9 1009.0L534.4 1010.9L534.9 1012.8L535.5 1014.7L536.0 1016.7L536.6 1018.6L537.2 1020.5L537.8 1022.4L538.3 1024.4L539.0 1026.3L539.6 1028.2L540.2 1030.1L540.8 1032.0L541.5 1033.9L542.2 1035.7L542.9 1037.6L543.6 1039.5L544.3 1041.4L545.1 1043.2L545.8 1045.1L546.6 1046.9L547.4 1048.7L548.3 1050.6L549.2 1052.4L550.1 1054.2L551.0 1055.9L551.9 1057.7L552.9 1059.4L554.0 1061.1L555.1 1062.8L556.2 1064.5L557.3 1066.1L558.6 1067.7L559.8 1069.3L561.1 1070.8L562.5 1072.2L564.0 1073.6L565.4 1075.0L567.0 1076.2L568.6 1077.4L570.3 1078.5L572.0 1079.6L573.7 1080.5L575.5 1081.4L577.4 1082.2L579.3 1082.9L581.2 1083.6L583.1 1084.1L585.0 1084.6L587.0 1085.1L588.9 1085.4L590.9 1085.8L592.9 1086.1L594.9 1086.3L596.9 1086.6L598.9 1086.7L600.9 1086.9L602.9 1087.1L604.9 1087.2L606.9 1087.3L608.9 1087.4L610.9 1087.5L612.9 1087.6L614.9 1087.7L616.9 1087.7L618.9 1087.8L620.9 1087.8L622.9 1087.9L624.9 1087.9L626.9 1088.0L628.9 1088.0L630.9 1088.1L632.9 1088.1L634.9 1088.1L636.9 1088.2L638.9 1088.2L640.9 1088.2L642.9 1088.3L644.9 1088.3L646.9 1088.3L648.9 1088.3L650.9 1088.4L652.9 1088.4L654.9 1088.4L656.9 1088.4L658.9 1088.5L660.9 1088.5L663.0 1088.5L665.0 1088.5L667.0 1088.5L669.0 1088.6L671.0 1088.6L673.0 1088.6L675.0 1088.6L677.0 1088.6L679.0 1088.6L681.0 1088.7L683.0 1088.7L685.0 1088.7L687.0 1088.7L689.0 1088.7L691.0 1088.7L693.0 1088.7L695.0 1088.8L697.0 1088.8L699.0 1088.8L701.0 1088.8L703.0 1088.8L705.0 1088.8L707.0 1088.8L709.0 1088.8L711.0 1088.9L713.0 1088.9L715.0 1088.9L717.1 1088.9L719.1 1088.9L721.1 1088.9L723.1 1088.9" fill="none" stroke="#000" stroke-width="3.6" stroke-linejoin="round" stroke-linecap="butt" stroke-dasharray="9 5" stroke-dashoffset="3.6" clip-path="url(#ca)"/>
<path d="M389.4 1088.9L391.4 1088.9L393.4 1088.8L395.5 1088.8L397.5 1088.7L399.5 1088.7L401.5 1088.6L403.5 1088.5L405.5 1088.4L407.5 1088.3L409.5 1088.2L411.5 1088.1L413.5 1087.9L415.5 1087.7L417.5 1087.6L419.5 1087.4L421.5 1087.1L423.4 1086.9L425.4 1086.6L427.4 1086.3L429.4 1085.9L431.4 1085.6L433.3 1085.2L435.3 1084.7L437.2 1084.2L439.2 1083.7L441.1 1083.1L443.0 1082.5L444.9 1081.8L446.8 1081.1L448.6 1080.4L450.5 1079.6L452.3 1078.7L454.1 1077.8L455.8 1076.9L457.6 1075.9L459.3 1074.9L461.0 1073.8L462.7 1072.7L464.3 1071.6L466.0 1070.4L467.6 1069.2L469.1 1068.0L470.7 1066.7L472.2 1065.4L473.7 1064.1L475.2 1062.7L476.7 1061.4L478.1 1060.0L479.5 1058.6L481.0 1057.1L482.4 1055.7L483.7 1054.2L485.1 1052.8L486.5 1051.3L487.8 1049.8L489.1 1048.3L490.5 1046.8L491.8 1045.3L493.1 1043.8L494.4 1042.3L495.7 1040.7L497.0 1039.2L498.3 1037.7L499.6 1036.2L500.9 1034.6L502.2 1033.1L503.5 1031.6L504.9 1030.1L506.2 1028.6L507.5 1027.1L508.9 1025.6L510.2 1024.1L511.6 1022.7L513.0 1021.2L514.4 1019.8L515.8 1018.4L517.3 1017.0L518.8 1015.7L520.3 1014.4L521.9 1013.1L523.5 1011.9L525.1 1010.8L526.8 1009.7L528.6 1008.7L530.4 1007.9L532.2 1007.1L534.1 1006.4L536.1 1006.0L538.1 1005.6L540.1 1005.5L542.1 1005.6L544.0 1005.8L546.0 1006.2L547.9 1006.8L549.8 1007.5L551.6 1008.3L553.4 1009.3L555.1 1010.3L556.8 1011.4L558.4 1012.6L560.0 1013.8L561.5 1015.1L563.0 1016.4L564.5 1017.8L566.0 1019.2L567.4 1020.6L568.8 1022.0L570.2 1023.5L571.5 1024.9L572.9 1026.4L574.2 1027.9L575.6 1029.4L576.9 1030.9L578.2 1032.4L579.5 1034.0L580.8 1035.5L582.1 1037.0L583.4 1038.5L584.7 1040.1L586.0 1041.6L587.3 1043.1L588.6 1044.6L589.9 1046.1L591.3 1047.6L592.6 1049.1L593.9 1050.6L595.3 1052.1L596.6 1053.6L598.0 1055.0L599.4 1056.5L600.8 1057.9L602.2 1059.3L603.7 1060.7L605.1 1062.1L606.6 1063.5L608.1 1064.8L609.6 1066.1L611.2 1067.4L612.7 1068.6L614.3 1069.9L615.9 1071.1L617.6 1072.2L619.2 1073.3L620.9 1074.4L622.6 1075.5L624.4 1076.5L626.1 1077.4L627.9 1078.3L629.7 1079.2L631.6 1080.0L633.4 1080.8L635.3 1081.5L637.2 1082.2L639.1 1082.9L641.0 1083.4L642.9 1084.0L644.8 1084.5L646.8 1085.0L648.8 1085.4L650.7 1085.8L652.7 1086.1L654.7 1086.5L656.7 1086.8L658.6 1087.0L660.6 1087.3L662.6 1087.5L664.6 1087.7L666.6 1087.8L668.6 1088.0L670.6 1088.1L672.6 1088.3L674.6 1088.4L676.6 1088.5L678.6 1088.5L680.6 1088.6L682.6 1088.7L684.7 1088.7L686.7 1088.8L688.7 1088.8L690.7 1088.9L692.7 1088.9" fill="none" stroke="#000" stroke-width="3.6" stroke-linejoin="round" stroke-linecap="butt" stroke-dasharray="9 5" stroke-dashoffset="6.0" clip-path="url(#ca)"/>
<path d="M522.1 1089.0L524.1 1088.9L526.1 1088.8L528.1 1088.7L530.1 1088.6L532.1 1088.5L534.1 1088.3L536.1 1088.2L538.1 1088.0L540.1 1087.8L542.1 1087.6L544.1 1087.4L546.1 1087.1L548.1 1086.8L550.1 1086.6L552.0 1086.3L554.0 1085.9L556.0 1085.6L558.0 1085.2L559.9 1084.8L561.9 1084.4L563.9 1083.9L565.8 1083.5L567.8 1083.0L569.7 1082.5L571.6 1082.0L573.6 1081.4L575.5 1080.9L577.4 1080.3L579.3 1079.7L581.3 1079.1L583.2 1078.5L585.1 1078.0L587.0 1077.4L588.9 1076.8L590.9 1076.2L592.8 1075.6L594.7 1075.0L596.6 1074.5L598.6 1073.9L600.5 1073.4L602.4 1072.9L604.4 1072.4L606.3 1072.0L608.3 1071.6L610.3 1071.2L612.3 1070.9L614.3 1070.6L616.3 1070.4L618.3 1070.2L620.3 1070.1L622.3 1070.0L624.3 1070.0L626.3 1070.0L628.3 1070.1L630.3 1070.3L632.3 1070.5L634.3 1070.7L636.3 1071.0L638.2 1071.3L640.2 1071.7L642.2 1072.1L644.1 1072.6L646.1 1073.0L648.0 1073.5L650.0 1074.1L651.9 1074.6L653.8 1075.2L655.7 1075.7L657.7 1076.3L659.6 1076.9L661.5 1077.5L663.4 1078.1L665.3 1078.7L667.2 1079.3L669.2 1079.9L671.1 1080.4L673.0 1081.0L674.9 1081.6L676.9 1082.1L678.8 1082.6L680.8 1083.1L682.7 1083.6L684.7 1084.0L686.6 1084.5L688.6 1084.9L690.6 1085.3L692.5 1085.7L694.5 1086.0L696.5 1086.3L698.5 1086.6L700.5 1086.9L702.4 1087.2L704.4 1087.4L706.4 1087.6L708.4 1087.8L710.4 1088.0L712.4 1088.2L714.4 1088.3L716.4 1088.5L718.4 1088.6L720.4 1088.7L722.4 1088.8L724.4 1088.9" fill="none" stroke="#000" stroke-width="3.6" stroke-linejoin="round" stroke-linecap="butt" stroke-dasharray="9 5" stroke-dashoffset="12.1" clip-path="url(#ca)"/>
<path d="M602.4 1088.9L604.4 1088.9L606.4 1088.8L608.4 1088.7L610.4 1088.7L612.4 1088.6L614.4 1088.5L616.4 1088.4L618.4 1088.3L620.4 1088.2L622.4 1088.1L624.4 1088.0L626.4 1087.9L628.4 1087.8L630.4 1087.7L632.4 1087.6L634.4 1087.4L636.4 1087.3L638.4 1087.1L640.4 1087.0L642.4 1086.9L644.4 1086.7L646.4 1086.5L648.4 1086.4L650.4 1086.2L652.4 1086.1L654.4 1085.9L656.4 1085.7L658.4 1085.6L660.4 1085.4L662.4 1085.3L664.4 1085.1L666.5 1085.0L668.5 1084.8L670.5 1084.7L672.5 1084.5L674.5 1084.4L676.5 1084.3L678.5 1084.1L680.5 1084.0L682.5 1083.9L684.5 1083.8L686.5 1083.8L688.5 1083.7L690.5 1083.6L692.5 1083.6L694.5 1083.5L696.5 1083.5L698.5 1083.5L700.5 1083.5L702.5 1083.5L704.5 1083.5L706.5 1083.6L708.6 1083.6L710.6 1083.7L712.6 1083.7L714.6 1083.8L716.6 1083.9L718.6 1084.0L720.6 1084.1L722.6 1084.2L724.6 1084.3L726.6 1084.5L728.6 1084.6L730.6 1084.7L732.6 1084.9L734.6 1085.0L736.6 1085.2L738.6 1085.3L740.6 1085.5L742.6 1085.7L744.6 1085.8L746.6 1086.0L748.6 1086.2L750.6 1086.3L752.6 1086.5L754.6 1086.6L756.6 1086.8L758.6 1086.9L760.6 1087.1L762.6 1087.2L764.6 1087.4L766.6 1087.5L768.6 1087.6L770.6 1087.7L772.6 1087.9L774.6 1088.0L776.6 1088.1L778.6 1088.2L780.6 1088.3L782.6 1088.4L784.7 1088.5L786.7 1088.6L788.7 1088.6L790.7 1088.7L792.7 1088.8L794.7 1088.8L796.7 1088.9" fill="none" stroke="#000" stroke-width="3.6" stroke-linejoin="round" stroke-linecap="butt" stroke-dasharray="9 5" stroke-dashoffset="4.2" clip-path="url(#ca)"/>
<rect x="146.8" y="37.65" width="974.2" height="1053.0" fill="none" stroke="#000" stroke-width="4.3"/>
<text x="163.5" y="126.7" font-size="90" font-weight="bold" text-anchor="start" >C 1s</text>
<line x1="783.55" y1="101.7" x2="845.05" y2="101.7" stroke="#4069B9" stroke-width="8.5" stroke-linecap="round"/>
<line x1="783.55" y1="275.4" x2="845.05" y2="275.4" stroke="#DA7028" stroke-width="8.5" stroke-linecap="round"/>
<text x="854" y="117.3" font-size="51.0" font-weight="bold" text-anchor="start" >Without</text>
<text x="852" y="176.7" font-size="51.0" font-weight="bold" text-anchor="start" >Immersion</text>
<text x="854" y="291.5" font-size="51.0" font-weight="bold" text-anchor="start" >With</text>
<text x="852" y="350.7" font-size="51.0" font-weight="bold" text-anchor="start" >Immersion</text>
<text transform="translate(84 603) rotate(-90)" font-size="77.6" font-weight="bold" text-anchor="middle">Intensity (a.u.)</text>
<text x="146.8" y="1177" font-size="59" font-weight="bold" text-anchor="middle" >280</text>
<text x="471.5" y="1177" font-size="59" font-weight="bold" text-anchor="middle" >285</text>
<text x="796.3" y="1177" font-size="59" font-weight="bold" text-anchor="middle" >290</text>
<text x="1121.3" y="1177" font-size="59" font-weight="bold" text-anchor="middle" >295</text>
<text x="600" y="1293" font-size="77" font-weight="bold" text-anchor="middle" >Binding Energy (eV)</text>
<text x="487.4" y="296.5" font-size="38" font-weight="bold" textLength="130" lengthAdjust="spacing">C-C sp<tspan dy="-12.5" font-size="24">2</tspan></text>
<text x="527" y="736" font-size="38" font-weight="bold" textLength="130" lengthAdjust="spacing">C-C sp<tspan dy="-12.5" font-size="24">3</tspan></text>
<text x="562" y="940" font-size="38" font-weight="bold" textLength="67" lengthAdjust="spacing">C-O</text>
<text x="628.5" y="1022.4" font-size="38" font-weight="bold" textLength="77.5" lengthAdjust="spacing">C=O</text>
<text x="737" y="1059.7" font-size="38" font-weight="bold" textLength="119" lengthAdjust="spacing">O=C-O</text>
<clipPath id="cb"><rect x="1389.1" y="35.5" width="978.6" height="1057.8"/></clipPath>
<path d="M1391.2 1091.1L1393.3 1091.0L1395.3 1091.0L1397.3 1090.9L1399.3 1090.9L1401.3 1090.8L1403.3 1090.8L1405.3 1090.8L1407.3 1090.7L1409.3 1090.7L1411.3 1090.7L1413.3 1090.7L1415.3 1090.6L1417.3 1090.6L1419.3 1090.6L1421.3 1090.6L1423.3 1090.6L1425.3 1090.6L1427.3 1090.6L1429.3 1090.6L1431.3 1090.6L1433.3 1090.6L1435.3 1090.6L1437.3 1090.6L1439.3 1090.6L1441.4 1090.6L1443.4 1090.6L1445.4 1090.6L1447.4 1090.6L1449.4 1090.6L1451.4 1090.6L1453.4 1090.6L1455.4 1090.6L1457.4 1090.6L1459.4 1090.6L1461.4 1090.6L1463.4 1090.5L1465.4 1090.5L1467.4 1090.5L1469.4 1090.5L1471.4 1090.5L1473.4 1090.5L1475.4 1090.5L1477.4 1090.5L1479.4 1090.4L1481.4 1090.4L1483.4 1090.4L1485.4 1090.4L1487.4 1090.3L1489.5 1090.3L1491.5 1090.2L1493.5 1090.2L1495.5 1090.1L1497.5 1090.1L1499.5 1090.0L1501.5 1090.0L1503.5 1089.9L1505.5 1089.8L1507.5 1089.7L1509.5 1089.7L1511.5 1089.6L1513.5 1089.5L1515.5 1089.4L1517.5 1089.3L1519.5 1089.2L1521.5 1089.0L1523.5 1088.9L1525.5 1088.8L1527.5 1088.7L1529.5 1088.5L1531.5 1088.4L1533.5 1088.2L1535.5 1088.0L1537.5 1087.9L1539.5 1087.7L1541.5 1087.5L1543.5 1087.3L1545.5 1087.1L1547.5 1086.9L1549.4 1086.6L1551.4 1086.4L1553.4 1086.2L1555.4 1085.9L1557.4 1085.7L1559.4 1085.4L1561.4 1085.1L1563.4 1084.8L1565.3 1084.5L1567.3 1084.2L1569.3 1083.9L1571.3 1083.6L1573.3 1083.3L1575.2 1082.9L1577.2 1082.6L1579.2 1082.2L1581.1 1081.8L1583.1 1081.4L1585.1 1081.0L1587.0 1080.6L1589.0 1080.2L1591.0 1079.8L1592.9 1079.3L1594.9 1078.9L1596.8 1078.4L1598.8 1077.9L1600.7 1077.5L1602.6 1077.0L1604.6 1076.5L1606.5 1075.9L1608.5 1075.4L1610.4 1074.9L1612.3 1074.4L1614.3 1073.8L1616.2 1073.3L1618.1 1072.8L1620.1 1072.3L1622.0 1071.7L1623.9 1071.2L1625.9 1070.7L1627.8 1070.2L1629.7 1069.7L1631.7 1069.2L1633.6 1068.7L1635.6 1068.2L1637.5 1067.8L1639.5 1067.3L1641.4 1066.9L1643.4 1066.5L1645.4 1066.1L1647.3 1065.7L1649.3 1065.4L1651.3 1065.1L1653.3 1064.8L1655.3 1064.5L1657.3 1064.3L1659.2 1064.0L1661.2 1063.8L1663.2 1063.7L1665.2 1063.5L1667.2 1063.3L1669.2 1063.2L1671.2 1063.0L1673.2 1062.9L1675.2 1062.7L1677.2 1062.6L1679.2 1062.4L1681.2 1062.3L1683.2 1062.1L1685.2 1061.9L1687.2 1061.7L1689.2 1061.5L1691.2 1061.2L1693.2 1060.9L1695.1 1060.6L1697.1 1060.3L1699.1 1060.0L1701.1 1059.6L1703.0 1059.2L1705.0 1058.7L1706.9 1058.3L1708.9 1057.8L1710.8 1057.3L1712.8 1056.7L1714.7 1056.2L1716.6 1055.6L1718.5 1055.0L1720.4 1054.4L1722.3 1053.7L1724.2 1053.0L1726.1 1052.3L1727.9 1051.6L1729.8 1050.9L1731.6 1050.1L1733.5 1049.3L1735.3 1048.5L1737.2 1047.7L1739.0 1046.9L1740.8 1046.0L1742.6 1045.1L1744.4 1044.2L1746.2 1043.3L1747.9 1042.4L1749.7 1041.4L1751.5 1040.5L1753.2 1039.5L1755.0 1038.5L1756.7 1037.5L1758.4 1036.5L1760.1 1035.4L1761.8 1034.4L1763.5 1033.3L1765.2 1032.3L1766.9 1031.2L1768.6 1030.1L1770.2 1028.9L1771.9 1027.8L1773.5 1026.7L1775.2 1025.5L1776.8 1024.3L1778.4 1023.1L1780.0 1021.9L1781.6 1020.7L1783.1 1019.4L1784.7 1018.1L1786.2 1016.9L1787.7 1015.5L1789.3 1014.2L1790.7 1012.9L1792.2 1011.5L1793.7 1010.2L1795.1 1008.8L1796.6 1007.4L1798.0 1006.0L1799.4 1004.5L1800.8 1003.1L1802.1 1001.6L1803.5 1000.1L1804.8 998.6L1806.1 997.1L1807.4 995.6L1808.7 994.1L1810.0 992.5L1811.3 991.0L1812.5 989.4L1813.7 987.8L1814.9 986.2L1816.1 984.6L1817.3 983.0L1818.5 981.3L1819.6 979.7L1820.8 978.1L1821.9 976.4L1823.0 974.7L1824.1 973.1L1825.2 971.4L1826.3 969.7L1827.4 968.0L1828.5 966.3L1829.5 964.6L1830.6 962.9L1831.6 961.2L1832.7 959.5L1833.7 957.8L1834.7 956.1L1835.7 954.3L1836.8 952.6L1837.8 950.9L1838.8 949.1L1839.8 947.4L1840.8 945.7L1841.8 943.9L1842.8 942.2L1843.8 940.5L1844.8 938.7L1845.8 937.0L1846.8 935.2L1847.8 933.5L1848.8 931.8L1849.7 930.0L1850.7 928.3L1851.7 926.5L1852.7 924.8L1853.7 923.0L1854.7 921.3L1855.7 919.6L1856.7 917.8L1857.7 916.1L1858.7 914.4L1859.7 912.6L1860.7 910.9L1861.7 909.2L1862.7 907.4L1863.8 905.7L1864.8 904.0L1865.8 902.3L1866.9 900.5L1867.9 898.8L1869.0 897.1L1870.0 895.4L1871.1 893.7L1872.2 892.0L1873.2 890.4L1874.3 888.7L1875.4 887.0L1876.5 885.3L1877.7 883.7L1878.8 882.0L1879.9 880.4L1881.1 878.7L1882.3 877.1L1883.4 875.5L1884.6 873.9L1885.8 872.3L1887.1 870.7L1888.3 869.1L1889.5 867.5L1890.8 866.0L1892.1 864.4L1893.4 862.9L1894.7 861.4L1896.1 859.9L1897.4 858.4L1898.8 857.0L1900.2 855.6L1901.6 854.2L1903.1 852.8L1904.5 851.4L1906.0 850.1L1907.6 848.8L1909.1 847.5L1910.7 846.3L1912.3 845.1L1914.0 844.0L1915.7 842.9L1917.4 841.9L1919.2 840.9L1921.0 840.0L1922.8 839.2L1924.6 838.5L1926.5 837.8L1928.5 837.3L1930.4 836.8L1932.4 836.5L1934.4 836.2L1936.4 836.1L1938.4 836.1L1940.4 836.2L1942.4 836.4L1944.4 836.6L1946.3 837.0L1948.3 837.5L1950.2 838.1L1952.1 838.7L1954.0 839.4L1955.8 840.2L1957.6 841.1L1959.4 842.0L1961.2 842.9L1962.9 844.0L1964.6 845.0L1966.3 846.1L1967.9 847.2L1969.6 848.4L1971.2 849.6L1972.7 850.9L1974.3 852.1L1975.8 853.4L1977.3 854.7L1978.8 856.1L1980.3 857.4L1981.8 858.8L1983.2 860.2L1984.6 861.6L1986.0 863.0L1987.4 864.5L1988.8 865.9L1990.2 867.4L1991.5 868.9L1992.8 870.4L1994.2 871.9L1995.5 873.4L1996.8 874.9L1998.1 876.5L1999.4 878.0L2000.6 879.6L2001.9 881.1L2003.1 882.7L2004.4 884.3L2005.6 885.8L2006.8 887.4L2008.0 889.0L2009.3 890.6L2010.5 892.2L2011.7 893.8L2012.8 895.4L2014.0 897.1L2015.2 898.7L2016.4 900.3L2017.5 901.9L2018.7 903.6L2019.8 905.2L2021.0 906.9L2022.1 908.5L2023.3 910.1L2024.4 911.8L2025.6 913.5L2026.7 915.1L2027.8 916.8L2028.9 918.4L2030.0 920.1L2031.2 921.8L2032.3 923.4L2033.4 925.1L2034.5 926.8L2035.6 928.4L2036.7 930.1L2037.8 931.8L2038.9 933.5L2040.0 935.1L2041.1 936.8L2042.2 938.5L2043.3 940.2L2044.4 941.8L2045.5 943.5L2046.6 945.2L2047.7 946.9L2048.8 948.5L2049.9 950.2L2051.0 951.9L2052.1 953.6L2053.2 955.2L2054.3 956.9L2055.4 958.6L2056.5 960.3L2057.6 961.9L2058.7 963.6L2059.9 965.2L2061.0 966.9L2062.1 968.6L2063.2 970.2L2064.4 971.9L2065.5 973.5L2066.7 975.2L2067.8 976.8L2069.0 978.4L2070.1 980.1L2071.3 981.7L2072.5 983.3L2073.6 985.0L2074.8 986.6L2076.0 988.2L2077.2 989.8L2078.4 991.4L2079.7 993.0L2080.9 994.6L2082.1 996.1L2083.4 997.7L2084.6 999.3L2085.9 1000.8L2087.2 1002.4L2088.4 1003.9L2089.7 1005.4L2091.0 1007.0L2092.4 1008.5L2093.7 1010.0L2095.0 1011.5L2096.4 1013.0L2097.7 1014.4L2099.1 1015.9L2100.5 1017.4L2101.8 1018.8L2103.2 1020.3L2104.6 1021.7L2106.1 1023.1L2107.5 1024.5L2108.9 1025.9L2110.4 1027.3L2111.8 1028.7L2113.3 1030.0L2114.8 1031.4L2116.3 1032.7L2117.8 1034.0L2119.3 1035.4L2120.8 1036.7L2122.3 1037.9L2123.9 1039.2L2125.4 1040.5L2127.0 1041.7L2128.6 1043.0L2130.2 1044.2L2131.8 1045.4L2133.4 1046.6L2135.0 1047.8L2136.6 1048.9L2138.3 1050.1L2139.9 1051.2L2141.6 1052.3L2143.3 1053.4L2145.0 1054.5L2146.7 1055.6L2148.4 1056.6L2150.1 1057.6L2151.8 1058.6L2153.6 1059.6L2155.4 1060.5L2157.2 1061.4L2159.0 1062.3L2160.8 1063.2L2162.6 1064.0L2164.4 1064.8L2166.3 1065.5L2168.2 1066.2L2170.1 1066.9L2172.0 1067.6L2173.9 1068.2L2175.8 1068.8L2177.7 1069.4L2179.6 1069.9L2181.5 1070.5L2183.5 1071.0L2185.4 1071.5L2187.4 1072.0L2189.3 1072.5L2191.2 1073.0L2193.2 1073.5L2195.1 1074.0L2197.1 1074.4L2199.0 1074.9L2201.0 1075.3L2203.0 1075.7L2204.9 1076.1L2206.9 1076.5L2208.9 1076.9L2210.8 1077.3L2212.8 1077.7L2214.8 1078.1L2216.7 1078.4L2218.7 1078.8L2220.7 1079.1L2222.6 1079.5L2224.6 1079.8L2226.6 1080.1L2228.6 1080.5L2230.6 1080.8L2232.5 1081.1L2234.5 1081.4L2236.5 1081.7L2238.5 1082.0L2240.5 1082.3L2242.4 1082.6L2244.4 1082.9L2246.4 1083.2L2248.4 1083.5L2250.4 1083.8L2252.4 1084.0L2254.3 1084.3L2256.3 1084.6L2258.3 1084.8L2260.3 1085.1L2262.3 1085.3L2264.3 1085.6L2266.3 1085.8L2268.3 1086.1L2270.3 1086.3L2272.2 1086.5L2274.2 1086.8L2276.2 1087.0L2278.2 1087.2L2280.2 1087.4L2282.2 1087.6L2284.2 1087.8L2286.2 1088.0L2288.2 1088.2L2290.2 1088.4L2292.2 1088.6L2294.2 1088.8L2296.2 1089.0L2298.2 1089.1L2300.2 1089.3L2302.2 1089.4L2304.2 1089.6L2306.2 1089.7L2308.2 1089.9L2310.2 1090.0L2312.2 1090.2L2314.2 1090.3L2316.2 1090.4L2318.2 1090.5L2320.2 1090.6L2322.2 1090.7L2324.2 1090.8L2326.2 1090.9L2328.2 1091.0L2330.2 1091.1L2332.2 1091.2L2334.2 1091.2L2336.2 1091.3L2338.2 1091.3L2340.2 1091.4L2342.2 1091.4L2344.2 1091.5L2346.2 1091.5L2348.2 1091.5L2350.2 1091.5L2352.2 1091.6L2354.2 1091.6L2356.2 1091.6L2358.2 1091.6L2360.2 1091.5L2362.2 1091.5L2364.2 1091.5L2366.2 1091.5" fill="none" stroke="#4472C4" stroke-width="10.7" stroke-linejoin="round" stroke-linecap="round" clip-path="url(#cb)"/>
<path d="M1391.2 1090.6L1393.3 1090.6L1395.3 1090.6L1397.3 1090.5L1399.3 1090.5L1401.3 1090.5L1403.3 1090.5L1405.3 1090.4L1407.3 1090.4L1409.3 1090.4L1411.3 1090.4L1413.3 1090.4L1415.3 1090.4L1417.3 1090.3L1419.3 1090.3L1421.3 1090.3L1423.3 1090.3L1425.3 1090.3L1427.3 1090.3L1429.3 1090.3L1431.3 1090.3L1433.3 1090.3L1435.3 1090.3L1437.3 1090.3L1439.3 1090.3L1441.3 1090.3L1443.3 1090.3L1445.3 1090.3L1447.3 1090.3L1449.3 1090.3L1451.4 1090.2L1453.4 1090.2L1455.4 1090.2L1457.4 1090.2L1459.4 1090.2L1461.4 1090.2L1463.4 1090.2L1465.4 1090.2L1467.4 1090.2L1469.4 1090.2L1471.4 1090.2L1473.4 1090.2L1475.4 1090.2L1477.4 1090.1L1479.4 1090.1L1481.4 1090.1L1483.4 1090.1L1485.4 1090.1L1487.4 1090.0L1489.4 1090.0L1491.4 1090.0L1493.4 1090.0L1495.4 1089.9L1497.4 1089.9L1499.4 1089.9L1501.4 1089.8L1503.4 1089.8L1505.4 1089.7L1507.4 1089.7L1509.5 1089.6L1511.5 1089.6L1513.5 1089.5L1515.5 1089.5L1517.5 1089.4L1519.5 1089.4L1521.5 1089.3L1523.5 1089.2L1525.5 1089.1L1527.5 1089.1L1529.5 1089.0L1531.5 1088.9L1533.5 1088.8L1535.5 1088.7L1537.5 1088.6L1539.5 1088.5L1541.5 1088.4L1543.5 1088.3L1545.5 1088.2L1547.5 1088.1L1549.5 1088.0L1551.5 1087.8L1553.5 1087.7L1555.5 1087.6L1557.5 1087.4L1559.5 1087.3L1561.5 1087.1L1563.5 1087.0L1565.5 1086.8L1567.5 1086.6L1569.5 1086.5L1571.5 1086.3L1573.5 1086.1L1575.4 1085.9L1577.4 1085.7L1579.4 1085.5L1581.4 1085.3L1583.4 1085.1L1585.4 1084.9L1587.4 1084.6L1589.4 1084.4L1591.4 1084.2L1593.4 1083.9L1595.4 1083.7L1597.3 1083.4L1599.3 1083.2L1601.3 1082.9L1603.3 1082.6L1605.3 1082.3L1607.3 1082.1L1609.2 1081.8L1611.2 1081.5L1613.2 1081.2L1615.2 1080.9L1617.2 1080.6L1619.2 1080.2L1621.1 1079.9L1623.1 1079.6L1625.1 1079.3L1627.1 1079.0L1629.0 1078.6L1631.0 1078.3L1633.0 1078.0L1635.0 1077.7L1636.9 1077.3L1638.9 1077.0L1640.9 1076.7L1642.9 1076.4L1644.9 1076.0L1646.8 1075.7L1648.8 1075.4L1650.8 1075.0L1652.8 1074.7L1654.7 1074.4L1656.7 1074.1L1658.7 1073.8L1660.7 1073.5L1662.7 1073.2L1664.6 1072.9L1666.6 1072.6L1668.6 1072.3L1670.6 1072.0L1672.6 1071.7L1674.5 1071.4L1676.5 1071.1L1678.5 1070.9L1680.5 1070.6L1682.5 1070.3L1684.5 1070.1L1686.5 1069.8L1688.4 1069.5L1690.4 1069.2L1692.4 1068.9L1694.4 1068.6L1696.4 1068.3L1698.3 1068.0L1700.3 1067.7L1702.3 1067.3L1704.3 1067.0L1706.2 1066.6L1708.2 1066.2L1710.2 1065.8L1712.1 1065.4L1714.1 1064.9L1716.0 1064.5L1718.0 1064.0L1719.9 1063.4L1721.8 1062.9L1723.8 1062.4L1725.7 1061.8L1727.6 1061.2L1729.5 1060.5L1731.4 1059.9L1733.2 1059.2L1735.1 1058.4L1737.0 1057.7L1738.8 1056.9L1740.6 1056.1L1742.5 1055.2L1744.3 1054.4L1746.0 1053.4L1747.8 1052.5L1749.6 1051.5L1751.3 1050.5L1753.0 1049.5L1754.7 1048.4L1756.4 1047.3L1758.1 1046.2L1759.7 1045.1L1761.3 1043.9L1762.9 1042.7L1764.5 1041.5L1766.1 1040.2L1767.6 1038.9L1769.1 1037.6L1770.6 1036.3L1772.1 1034.9L1773.5 1033.5L1775.0 1032.2L1776.4 1030.7L1777.8 1029.3L1779.2 1027.8L1780.5 1026.4L1781.9 1024.9L1783.2 1023.4L1784.5 1021.9L1785.8 1020.3L1787.0 1018.8L1788.3 1017.2L1789.5 1015.6L1790.7 1014.0L1791.9 1012.4L1793.1 1010.8L1794.3 1009.2L1795.4 1007.5L1796.6 1005.9L1797.7 1004.2L1798.8 1002.6L1799.9 1000.9L1801.0 999.2L1802.0 997.5L1803.1 995.8L1804.1 994.1L1805.2 992.4L1806.2 990.6L1807.2 988.9L1808.2 987.1L1809.2 985.4L1810.1 983.6L1811.1 981.9L1812.0 980.1L1813.0 978.4L1813.9 976.6L1814.8 974.8L1815.7 973.0L1816.6 971.2L1817.5 969.4L1818.4 967.6L1819.2 965.8L1820.1 964.0L1821.0 962.2L1821.8 960.4L1822.6 958.6L1823.5 956.7L1824.3 954.9L1825.1 953.1L1825.9 951.2L1826.7 949.4L1827.5 947.6L1828.3 945.7L1829.1 943.9L1829.8 942.0L1830.6 940.2L1831.4 938.3L1832.1 936.5L1832.8 934.6L1833.6 932.7L1834.3 930.9L1835.0 929.0L1835.8 927.1L1836.5 925.3L1837.2 923.4L1837.9 921.5L1838.6 919.6L1839.3 917.8L1840.0 915.9L1840.6 914.0L1841.3 912.1L1842.0 910.2L1842.7 908.3L1843.3 906.4L1844.0 904.5L1844.6 902.6L1845.3 900.8L1845.9 898.9L1846.6 897.0L1847.2 895.1L1847.8 893.2L1848.5 891.3L1849.1 889.4L1849.7 887.4L1850.4 885.5L1851.0 883.6L1851.6 881.7L1852.2 879.8L1852.8 877.9L1853.4 876.0L1854.0 874.1L1854.6 872.2L1855.2 870.3L1855.8 868.4L1856.5 866.5L1857.1 864.5L1857.6 862.6L1858.2 860.7L1858.8 858.8L1859.4 856.9L1860.0 855.0L1860.6 853.1L1861.2 851.2L1861.8 849.2L1862.4 847.3L1863.0 845.4L1863.6 843.5L1864.2 841.6L1864.8 839.7L1865.3 837.8L1865.9 835.8L1866.5 833.9L1867.1 832.0L1867.7 830.1L1868.3 828.2L1868.9 826.3L1869.5 824.4L1870.1 822.4L1870.7 820.5L1871.2 818.6L1871.8 816.7L1872.4 814.8L1873.0 812.9L1873.6 811.0L1874.2 809.0L1874.8 807.1L1875.4 805.2L1876.0 803.3L1876.6 801.4L1877.2 799.5L1877.8 797.6L1878.4 795.7L1879.1 793.8L1879.7 791.9L1880.3 789.9L1880.9 788.0L1881.5 786.1L1882.1 784.2L1882.8 782.3L1883.4 780.4L1884.0 778.5L1884.6 776.6L1885.3 774.7L1885.9 772.8L1886.6 770.9L1887.2 769.0L1887.9 767.1L1888.5 765.2L1889.2 763.3L1889.9 761.5L1890.5 759.6L1891.2 757.7L1891.9 755.8L1892.6 753.9L1893.3 752.0L1894.0 750.2L1894.7 748.3L1895.4 746.4L1896.1 744.5L1896.8 742.7L1897.5 740.8L1898.3 738.9L1899.0 737.1L1899.8 735.2L1900.6 733.4L1901.3 731.5L1902.1 729.7L1902.9 727.9L1903.7 726.0L1904.6 724.2L1905.4 722.4L1906.2 720.6L1907.1 718.8L1908.0 717.0L1908.9 715.2L1909.8 713.4L1910.8 711.6L1911.7 709.9L1912.7 708.1L1913.7 706.4L1914.8 704.7L1915.8 703.0L1916.9 701.3L1918.1 699.7L1919.3 698.1L1920.5 696.5L1921.8 694.9L1923.1 693.4L1924.5 692.0L1925.9 690.6L1927.5 689.3L1929.1 688.1L1930.7 687.0L1932.5 686.0L1934.3 685.1L1936.2 684.5L1938.1 684.0L1940.1 683.7L1942.1 683.6L1944.1 683.7L1946.1 684.0L1948.0 684.5L1949.9 685.2L1951.7 686.0L1953.5 687.0L1955.2 688.0L1956.8 689.1L1958.4 690.3L1960.0 691.6L1961.5 692.9L1963.0 694.3L1964.4 695.7L1965.7 697.2L1967.1 698.7L1968.4 700.2L1969.7 701.7L1970.9 703.3L1972.2 704.9L1973.4 706.5L1974.5 708.1L1975.7 709.7L1976.8 711.4L1977.9 713.1L1979.0 714.7L1980.1 716.4L1981.2 718.1L1982.2 719.8L1983.3 721.5L1984.3 723.3L1985.3 725.0L1986.3 726.7L1987.3 728.5L1988.3 730.2L1989.2 732.0L1990.2 733.7L1991.2 735.5L1992.1 737.3L1993.0 739.0L1994.0 740.8L1994.9 742.6L1995.8 744.4L1996.7 746.2L1997.6 747.9L1998.5 749.7L1999.4 751.5L2000.2 753.3L2001.1 755.1L2002.0 757.0L2002.8 758.8L2003.7 760.6L2004.6 762.4L2005.4 764.2L2006.2 766.0L2007.1 767.8L2007.9 769.6L2008.8 771.5L2009.6 773.3L2010.4 775.1L2011.3 776.9L2012.1 778.8L2012.9 780.6L2013.7 782.4L2014.5 784.3L2015.3 786.1L2016.2 787.9L2017.0 789.8L2017.8 791.6L2018.6 793.4L2019.4 795.3L2020.2 797.1L2021.0 798.9L2021.8 800.8L2022.6 802.6L2023.4 804.4L2024.2 806.3L2025.0 808.1L2025.8 810.0L2026.6 811.8L2027.4 813.6L2028.2 815.5L2028.9 817.3L2029.7 819.1L2030.5 821.0L2031.3 822.8L2032.1 824.7L2032.9 826.5L2033.7 828.3L2034.5 830.2L2035.3 832.0L2036.1 833.9L2036.9 835.7L2037.7 837.5L2038.5 839.4L2039.3 841.2L2040.1 843.1L2040.9 844.9L2041.7 846.7L2042.5 848.6L2043.3 850.4L2044.1 852.3L2044.9 854.1L2045.7 855.9L2046.5 857.8L2047.3 859.6L2048.1 861.4L2048.9 863.3L2049.7 865.1L2050.5 866.9L2051.3 868.8L2052.1 870.6L2052.9 872.4L2053.7 874.3L2054.5 876.1L2055.3 877.9L2056.1 879.8L2057.0 881.6L2057.8 883.4L2058.6 885.3L2059.4 887.1L2060.2 888.9L2061.1 890.7L2061.9 892.6L2062.7 894.4L2063.6 896.2L2064.4 898.0L2065.2 899.8L2066.1 901.7L2066.9 903.5L2067.7 905.3L2068.6 907.1L2069.4 908.9L2070.3 910.7L2071.1 912.6L2072.0 914.4L2072.9 916.2L2073.7 918.0L2074.6 919.8L2075.4 921.6L2076.3 923.4L2077.2 925.2L2078.1 927.0L2079.0 928.8L2079.8 930.6L2080.7 932.4L2081.6 934.2L2082.5 936.0L2083.4 937.8L2084.3 939.6L2085.2 941.3L2086.2 943.1L2087.1 944.9L2088.0 946.7L2088.9 948.5L2089.9 950.2L2090.8 952.0L2091.8 953.8L2092.7 955.5L2093.7 957.3L2094.6 959.0L2095.6 960.8L2096.6 962.5L2097.6 964.3L2098.6 966.0L2099.6 967.8L2100.6 969.5L2101.6 971.2L2102.6 973.0L2103.6 974.7L2104.6 976.4L2105.7 978.1L2106.7 979.8L2107.8 981.5L2108.8 983.2L2109.9 984.9L2111.0 986.6L2112.1 988.3L2113.2 990.0L2114.3 991.6L2115.4 993.3L2116.5 995.0L2117.6 996.6L2118.8 998.3L2119.9 999.9L2121.1 1001.5L2122.3 1003.2L2123.5 1004.8L2124.6 1006.4L2125.9 1008.0L2127.1 1009.6L2128.3 1011.1L2129.6 1012.7L2130.8 1014.3L2132.1 1015.8L2133.4 1017.3L2134.7 1018.9L2136.0 1020.4L2137.4 1021.9L2138.7 1023.3L2140.1 1024.8L2141.5 1026.3L2142.9 1027.7L2144.3 1029.1L2145.7 1030.5L2147.2 1031.9L2148.6 1033.3L2150.1 1034.6L2151.6 1035.9L2153.1 1037.2L2154.7 1038.5L2156.2 1039.8L2157.8 1041.0L2159.4 1042.3L2161.0 1043.5L2162.6 1044.6L2164.2 1045.8L2165.9 1046.9L2167.5 1048.1L2169.2 1049.1L2170.9 1050.2L2172.6 1051.2L2174.4 1052.2L2176.1 1053.2L2177.9 1054.2L2179.6 1055.1L2181.4 1056.0L2183.2 1056.9L2185.0 1057.8L2186.9 1058.6L2188.7 1059.4L2190.5 1060.2L2192.4 1060.9L2194.3 1061.7L2196.1 1062.4L2198.0 1063.1L2199.9 1063.7L2201.8 1064.4L2203.7 1065.0L2205.6 1065.6L2207.5 1066.1L2209.5 1066.7L2211.4 1067.2L2213.3 1067.8L2215.3 1068.3L2217.2 1068.7L2219.2 1069.2L2221.1 1069.7L2223.1 1070.1L2225.0 1070.5L2227.0 1070.9L2229.0 1071.3L2230.9 1071.7L2232.9 1072.0L2234.9 1072.4L2236.9 1072.7L2238.8 1073.0L2240.8 1073.3L2242.8 1073.6L2244.8 1073.9L2246.8 1074.2L2248.8 1074.5L2250.7 1074.7L2252.7 1075.0L2254.7 1075.2L2256.7 1075.5L2258.7 1075.7L2260.7 1075.9L2262.7 1076.1L2264.7 1076.4L2266.7 1076.6L2268.6 1076.8L2270.6 1077.0L2272.6 1077.2L2274.6 1077.4L2276.6 1077.6L2278.6 1077.8L2280.6 1078.0L2282.6 1078.2L2284.6 1078.4L2286.6 1078.6L2288.6 1078.8L2290.6 1079.0L2292.6 1079.2L2294.6 1079.4L2296.6 1079.6L2298.6 1079.8L2300.6 1079.9L2302.5 1080.1L2304.5 1080.3L2306.5 1080.5L2308.5 1080.7L2310.5 1080.9L2312.5 1081.1L2314.5 1081.3L2316.5 1081.5L2318.5 1081.7L2320.5 1081.8L2322.5 1082.0L2324.5 1082.2L2326.5 1082.5L2328.5 1082.7L2330.5 1082.9L2332.5 1083.1L2334.4 1083.3L2336.4 1083.5L2338.4 1083.7L2340.4 1083.9L2342.4 1084.2L2344.4 1084.4L2346.4 1084.6L2348.4 1084.9L2350.4 1085.1L2352.4 1085.4L2354.3 1085.6L2356.3 1085.9L2358.3 1086.2L2360.3 1086.4L2362.3 1086.7L2364.3 1087.0L2366.2 1087.3" fill="none" stroke="#ED7D31" stroke-width="10.7" stroke-linejoin="round" stroke-linecap="round" clip-path="url(#cb)"/>
<text x="1408.7" y="127.8" font-size="90" font-weight="bold" text-anchor="start" >O 1s</text>
<line x1="2009.5500000000002" y1="96.8" x2="2070.95" y2="96.8" stroke="#4472C4" stroke-width="9.3" stroke-linecap="round"/>
<line x1="2009.5500000000002" y1="254" x2="2070.95" y2="254" stroke="#ED7D31" stroke-width="9.3" stroke-linecap="round"/>
<text x="2078.6" y="113.6" font-size="51.0" font-weight="bold" text-anchor="start" >Without</text>
<text x="2077" y="172.8" font-size="51.0" font-weight="bold" text-anchor="start" >Immersion</text>
<text x="2078.6" y="270.3" font-size="51.0" font-weight="bold" text-anchor="start" >With</text>
<text x="2077" y="329.8" font-size="51.0" font-weight="bold" text-anchor="start" >Immersion</text>
<text transform="translate(1343 591) rotate(-90)" font-size="77.6" font-weight="bold" text-anchor="middle">Intensity (a.u.)</text>
<text x="1391.6" y="1176.5" font-size="59" font-weight="bold" text-anchor="middle" >527</text>
<text x="1834.2" y="1176.5" font-size="59" font-weight="bold" text-anchor="middle" >532</text>
<text x="2277.0" y="1176.5" font-size="59" font-weight="bold" text-anchor="middle" >537</text>
<text x="1841.4" y="1293.7" font-size="77" font-weight="bold" text-anchor="middle" >Binding Energy (eV)</text>
<clipPath id="cc"><rect x="136.79999999999998" y="1520.3999999999999" width="982.4" height="1039.4"/></clipPath>
<path d="M138.9 2552.0L141.0 2552.1L143.0 2552.2L145.0 2552.2L147.0 2552.3L149.0 2552.4L151.0 2552.5L153.0 2552.5L155.0 2552.6L157.0 2552.6L159.0 2552.7L161.0 2552.8L163.0 2552.8L165.0 2552.9L167.0 2552.9L169.0 2553.0L171.0 2553.0L173.0 2553.1L175.0 2553.1L177.0 2553.2L179.0 2553.2L181.0 2553.3L183.0 2553.3L185.0 2553.3L187.0 2553.4L189.0 2553.4L191.0 2553.4L193.0 2553.5L195.0 2553.5L197.0 2553.5L199.0 2553.5L201.0 2553.5L203.0 2553.5L205.0 2553.4L207.0 2553.4L209.0 2553.3L211.0 2553.3L213.0 2553.2L215.0 2553.1L217.0 2553.0L219.0 2552.9L221.0 2552.7L223.0 2552.6L225.0 2552.5L227.0 2552.3L229.0 2552.1L231.0 2552.0L233.0 2551.8L234.9 2551.6L236.9 2551.4L238.9 2551.1L240.9 2550.8L242.9 2550.5L244.8 2550.0L246.8 2549.6L248.7 2549.1L250.6 2548.5L252.6 2547.9L254.5 2547.4L256.4 2546.7L258.2 2546.0L260.1 2545.3L261.9 2544.5L263.7 2543.6L265.5 2542.7L267.3 2541.7L269.0 2540.8L270.9 2540.2L272.9 2539.7L274.8 2539.2L276.7 2538.6L278.6 2538.0L280.5 2537.4L282.4 2536.8L284.3 2536.1L286.2 2535.4L288.1 2534.7L289.9 2533.9L291.7 2533.0L293.5 2532.1L295.3 2531.2L297.0 2530.2L298.7 2529.1L300.4 2528.0L302.0 2526.9L303.6 2525.7L305.2 2524.5L306.7 2523.2L308.2 2521.9L309.7 2520.5L311.1 2519.1L312.5 2517.7L313.9 2516.2L315.2 2514.7L316.5 2513.1L317.7 2511.5L318.9 2509.9L320.0 2508.3L321.1 2506.6L322.2 2504.9L323.3 2503.2L324.3 2501.5L325.3 2499.8L326.2 2498.0L327.1 2496.2L328.0 2494.4L328.9 2492.6L329.7 2490.8L330.6 2489.0L331.4 2487.2L332.2 2485.3L332.9 2483.5L333.7 2481.6L334.4 2479.7L335.1 2477.9L335.8 2476.0L336.5 2474.1L337.1 2472.2L337.8 2470.3L338.4 2468.4L339.0 2466.5L339.6 2464.6L340.2 2462.7L340.8 2460.8L341.4 2458.9L341.9 2456.9L342.5 2455.0L343.0 2453.1L343.5 2451.2L344.0 2449.2L344.5 2447.3L345.0 2445.3L345.5 2443.4L345.9 2441.4L346.4 2439.5L346.8 2437.5L347.3 2435.6L347.7 2433.6L348.1 2431.7L348.5 2429.7L348.9 2427.8L349.3 2425.8L349.7 2423.8L350.1 2421.9L350.5 2419.9L350.9 2417.9L351.2 2416.0L351.6 2414.0L352.0 2412.0L352.3 2410.1L352.7 2408.1L353.0 2406.1L353.4 2404.1L353.7 2402.2L354.0 2400.2L354.4 2398.2L354.7 2396.3L355.0 2394.3L355.4 2392.3L355.7 2390.3L356.0 2388.4L356.3 2386.4L356.6 2384.4L357.0 2382.4L357.3 2380.4L357.6 2378.5L357.9 2376.5L358.2 2374.5L358.5 2372.5L358.8 2370.6L359.0 2368.6L359.3 2366.6L359.6 2364.6L359.9 2362.6L360.1 2360.6L360.4 2358.7L360.7 2356.7L360.9 2354.7L361.2 2352.7L361.4 2350.7L361.7 2348.7L361.9 2346.7L362.1 2344.7L362.4 2342.8L362.6 2340.8L362.8 2338.8L363.0 2336.8L363.2 2334.8L363.4 2332.8L363.7 2330.8L363.9 2328.8L364.1 2326.8L364.3 2324.8L364.5 2322.9L364.7 2320.9L364.9 2318.9L365.1 2316.9L365.3 2314.9L365.4 2312.9L365.6 2310.9L365.8 2308.9L366.0 2306.9L366.2 2304.9L366.4 2302.9L366.6 2300.9L366.8 2298.9L367.0 2297.0L367.1 2295.0L367.3 2293.0L367.5 2291.0L367.7 2289.0L367.9 2287.0L368.1 2285.0L368.3 2283.0L368.4 2281.0L368.6 2279.0L368.8 2277.0L369.0 2275.0L369.2 2273.0L369.3 2271.0L369.5 2269.0L369.7 2267.1L369.9 2265.1L370.1 2263.1L370.2 2261.1L370.4 2259.1L370.6 2257.1L370.8 2255.1L371.0 2253.1L371.1 2251.1L371.3 2249.1L371.5 2247.1L371.6 2245.1L371.8 2243.1L372.0 2241.1L372.2 2239.1L372.3 2237.1L372.5 2235.1L372.7 2233.2L372.8 2231.2L373.0 2229.2L373.2 2227.2L373.3 2225.2L373.5 2223.2L373.7 2221.2L373.8 2219.2L374.0 2217.2L374.2 2215.2L374.3 2213.2L374.5 2211.2L374.7 2209.2L374.8 2207.2L375.0 2205.2L375.2 2203.2L375.3 2201.2L375.5 2199.2L375.6 2197.2L375.8 2195.2L376.0 2193.3L376.1 2191.3L376.3 2189.3L376.4 2187.3L376.6 2185.3L376.7 2183.3L376.9 2181.3L377.1 2179.3L377.2 2177.3L377.4 2175.3L377.5 2173.3L377.7 2171.3L377.8 2169.3L378.0 2167.3L378.1 2165.3L378.3 2163.3L378.4 2161.3L378.6 2159.3L378.7 2157.3L378.9 2155.3L379.0 2153.3L379.2 2151.3L379.3 2149.3L379.5 2147.4L379.6 2145.4L379.8 2143.4L379.9 2141.4L380.1 2139.4L380.2 2137.4L380.4 2135.4L380.5 2133.4L380.7 2131.4L380.8 2129.4L381.0 2127.4L381.1 2125.4L381.3 2123.4L381.4 2121.4L381.6 2119.4L381.7 2117.4L381.9 2115.4L382.0 2113.4L382.1 2111.4L382.3 2109.4L382.4 2107.4L382.6 2105.4L382.7 2103.4L382.9 2101.4L383.0 2099.4L383.1 2097.4L383.3 2095.4L383.4 2093.4L383.6 2091.5L383.7 2089.5L383.9 2087.5L384.0 2085.5L384.1 2083.5L384.3 2081.5L384.4 2079.5L384.6 2077.5L384.7 2075.5L384.8 2073.5L385.0 2071.5L385.1 2069.5L385.3 2067.5L385.4 2065.5L385.5 2063.5L385.7 2061.5L385.8 2059.5L386.0 2057.5L386.1 2055.5L386.2 2053.5L386.4 2051.5L386.5 2049.5L386.7 2047.5L386.8 2045.5L386.9 2043.5L387.1 2041.5L387.2 2039.5L387.3 2037.5L387.5 2035.5L387.6 2033.5L387.8 2031.5L387.9 2029.5L388.0 2027.6L388.2 2025.6L388.3 2023.6L388.4 2021.6L388.6 2019.6L388.7 2017.6L388.8 2015.6L389.0 2013.6L389.1 2011.6L389.3 2009.6L389.4 2007.6L389.5 2005.6L389.7 2003.6L389.8 2001.6L389.9 1999.6L390.1 1997.6L390.2 1995.6L390.3 1993.6L390.5 1991.6L390.6 1989.6L390.7 1987.6L390.9 1985.6L391.0 1983.6L391.1 1981.6L391.3 1979.6L391.4 1977.6L391.5 1975.6L391.7 1973.6L391.8 1971.6L391.9 1969.6L392.1 1967.6L392.2 1965.6L392.3 1963.6L392.5 1961.6L392.6 1959.6L392.7 1957.7L392.9 1955.7L393.0 1953.7L393.1 1951.7L393.3 1949.7L393.4 1947.7L393.5 1945.7L393.7 1943.7L393.8 1941.7L393.9 1939.7L394.1 1937.7L394.2 1935.7L394.3 1933.7L394.5 1931.7L394.6 1929.7L394.7 1927.7L394.9 1925.7L395.0 1923.7L395.1 1921.7L395.3 1919.7L395.4 1917.7L395.6 1915.7L395.7 1913.7L395.8 1911.7L396.0 1909.7L396.1 1907.7L396.2 1905.7L396.4 1903.7L396.5 1901.7L396.6 1899.7L396.8 1897.7L396.9 1895.7L397.0 1893.7L397.2 1891.7L397.3 1889.7L397.4 1887.7L397.6 1885.8L397.7 1883.8L397.8 1881.8L398.0 1879.8L398.1 1877.8L398.2 1875.8L398.4 1873.8L398.5 1871.8L398.6 1869.8L398.8 1867.8L398.9 1865.8L399.0 1863.8L399.2 1861.8L399.3 1859.8L399.4 1857.8L399.6 1855.8L399.7 1853.8L399.9 1851.8L400.0 1849.8L400.1 1847.8L400.3 1845.8L400.4 1843.8L400.5 1841.8L400.7 1839.8L400.8 1837.8L400.9 1835.8L401.1 1833.8L401.2 1831.8L401.4 1829.8L401.5 1827.8L401.6 1825.8L401.8 1823.8L401.9 1821.8L402.0 1819.8L402.2 1817.9L402.3 1815.9L402.5 1813.9L402.6 1811.9L402.7 1809.9L402.9 1807.9L403.0 1805.9L403.2 1803.9L403.3 1801.9L403.4 1799.9L403.6 1797.9L403.7 1795.9L403.9 1793.9L404.0 1791.9L404.1 1789.9L404.3 1787.9L404.4 1785.9L404.6 1783.9L404.7 1781.9L404.8 1779.9L405.0 1777.9L405.1 1775.9L405.3 1773.9L405.4 1771.9L405.6 1769.9L405.7 1767.9L405.9 1765.9L406.0 1763.9L406.1 1761.9L406.3 1759.9L406.4 1758.0L406.6 1756.0L406.7 1754.0L406.9 1752.0L407.0 1750.0L407.2 1748.0L407.3 1746.0L407.5 1744.0L407.6 1742.0L407.8 1740.0L407.9 1738.0L408.1 1736.0L408.2 1734.0L408.4 1732.0L408.5 1730.0L408.7 1728.0L408.8 1726.0L409.0 1724.0L409.1 1722.0L409.3 1720.0L409.4 1718.0L409.6 1716.0L409.7 1714.0L409.9 1712.0L410.1 1710.0L410.2 1708.1L410.4 1706.1L410.5 1704.1L410.7 1702.1L410.9 1700.1L411.0 1698.1L411.2 1696.1L411.4 1694.1L411.5 1692.1L411.7 1690.1L411.9 1688.1L412.1 1686.1L412.2 1684.1L412.4 1682.1L412.6 1680.1L412.8 1678.1L412.9 1676.1L413.1 1674.1L413.3 1672.2L413.5 1670.2L413.7 1668.2L413.8 1666.2L414.0 1664.2L414.2 1662.2L414.4 1660.2L414.6 1658.2L414.8 1656.2L415.0 1654.2L415.1 1652.2L415.3 1650.2L415.5 1648.2L415.7 1646.2L415.9 1644.3L416.1 1642.3L416.3 1640.3L416.5 1638.3L416.7 1636.3L416.9 1634.3L417.1 1632.3L417.3 1630.3L417.5 1628.3L417.8 1626.3L418.0 1624.3L418.2 1622.4L418.4 1620.4L418.6 1618.4L418.9 1616.4L419.1 1614.4L419.3 1612.4L419.5 1610.4L419.8 1608.4L420.0 1606.4L420.2 1604.4L420.5 1602.5L420.7 1600.5L420.9 1598.5L421.2 1596.5L421.4 1594.5L421.6 1592.5L421.9 1590.5L422.1 1588.6L422.4 1586.6L422.6 1584.6L422.9 1582.6L423.1 1580.6L423.4 1578.6L423.6 1576.6L423.9 1574.6L424.1 1572.7L424.4 1570.7L424.7 1568.7L425.0 1566.7L425.3 1564.7L425.5 1562.8L425.8 1560.8L426.1 1558.8L426.5 1556.8L426.8 1554.8L427.1 1552.9L427.5 1550.9L427.8 1548.9L428.2 1547.0L428.6 1545.0L429.0 1543.0L429.4 1541.1L429.9 1539.1L430.4 1537.2L430.9 1535.3L431.4 1533.3L432.1 1531.4L432.8 1529.6L433.7 1527.8L434.9 1526.2L436.8 1525.6L438.5 1526.5L439.6 1528.1L440.5 1529.9L441.2 1531.8L441.8 1533.7L442.4 1535.6L442.9 1537.5L443.4 1539.5L443.8 1541.4L444.3 1543.4L444.7 1545.3L445.1 1547.3L445.4 1549.3L445.8 1551.2L446.1 1553.2L446.4 1555.2L446.8 1557.2L447.1 1559.1L447.4 1561.1L447.7 1563.1L448.0 1565.1L448.3 1567.1L448.5 1569.0L448.8 1571.0L449.1 1573.0L449.3 1575.0L449.6 1577.0L449.9 1579.0L450.1 1581.0L450.4 1582.9L450.6 1584.9L450.9 1586.9L451.1 1588.9L451.4 1590.9L451.7 1592.9L452.0 1594.8L452.2 1596.8L452.5 1598.8L452.8 1600.8L453.0 1602.8L453.3 1604.8L453.6 1606.7L453.9 1608.7L454.1 1610.7L454.4 1612.7L454.7 1614.7L455.0 1616.7L455.2 1618.6L455.5 1620.6L455.8 1622.6L456.1 1624.6L456.3 1626.6L456.6 1628.6L456.9 1630.5L457.1 1632.5L457.4 1634.5L457.6 1636.5L457.9 1638.5L458.1 1640.5L458.4 1642.5L458.6 1644.4L458.9 1646.4L459.1 1648.4L459.4 1650.4L459.6 1652.4L459.8 1654.4L460.1 1656.4L460.3 1658.4L460.5 1660.3L460.7 1662.3L461.0 1664.3L461.2 1666.3L461.4 1668.3L461.7 1670.3L461.9 1672.3L462.1 1674.3L462.3 1676.3L462.6 1678.2L462.8 1680.2L463.0 1682.2L463.2 1684.2L463.4 1686.2L463.7 1688.2L463.9 1690.2L464.1 1692.2L464.3 1694.2L464.5 1696.1L464.7 1698.1L464.9 1700.1L465.2 1702.1L465.4 1704.1L465.6 1706.1L465.8 1708.1L466.0 1710.1L466.2 1712.1L466.4 1714.1L466.6 1716.1L466.8 1718.1L467.0 1720.0L467.2 1722.0L467.4 1724.0L467.6 1726.0L467.8 1728.0L468.0 1730.0L468.2 1732.0L468.4 1734.0L468.6 1736.0L468.8 1738.0L469.0 1740.0L469.2 1742.0L469.4 1743.9L469.6 1745.9L469.8 1747.9L470.0 1749.9L470.2 1751.9L470.3 1753.9L470.5 1755.9L470.7 1757.9L470.9 1759.9L471.1 1761.9L471.3 1763.9L471.5 1765.9L471.7 1767.9L471.8 1769.9L472.0 1771.8L472.2 1773.8L472.4 1775.8L472.5 1777.8L472.7 1779.8L472.9 1781.8L473.1 1783.8L473.2 1785.8L473.4 1787.8L473.6 1789.8L473.7 1791.8L473.9 1793.8L474.1 1795.8L474.2 1797.8L474.4 1799.8L474.6 1801.8L474.7 1803.8L474.9 1805.8L475.0 1807.7L475.2 1809.7L475.4 1811.7L475.5 1813.7L475.7 1815.7L475.8 1817.7L476.0 1819.7L476.2 1821.7L476.3 1823.7L476.5 1825.7L476.6 1827.7L476.8 1829.7L477.0 1831.7L477.1 1833.7L477.3 1835.7L477.4 1837.7L477.6 1839.7L477.7 1841.7L477.9 1843.7L478.1 1845.7L478.2 1847.7L478.4 1849.7L478.5 1851.6L478.7 1853.6L478.9 1855.6L479.0 1857.6L479.2 1859.6L479.3 1861.6L479.5 1863.6L479.7 1865.6L479.8 1867.6L480.0 1869.6L480.2 1871.6L480.4 1873.6L480.5 1875.6L480.7 1877.6L480.9 1879.6L481.1 1881.6L481.2 1883.6L481.4 1885.6L481.6 1887.5L481.8 1889.5L482.0 1891.5L482.2 1893.5L482.3 1895.5L482.5 1897.5L482.7 1899.5L482.9 1901.5L483.1 1903.5L483.2 1905.5L483.4 1907.5L483.6 1909.5L483.8 1911.5L483.9 1913.5L484.1 1915.5L484.3 1917.5L484.5 1919.4L484.6 1921.4L484.8 1923.4L485.0 1925.4L485.1 1927.4L485.3 1929.4L485.5 1931.4L485.7 1933.4L485.8 1935.4L486.0 1937.4L486.2 1939.4L486.3 1941.4L486.5 1943.4L486.6 1945.4L486.8 1947.4L487.0 1949.4L487.1 1951.4L487.3 1953.4L487.5 1955.3L487.6 1957.3L487.8 1959.3L488.0 1961.3L488.1 1963.3L488.3 1965.3L488.5 1967.3L488.6 1969.3L488.8 1971.3L489.0 1973.3L489.2 1975.3L489.3 1977.3L489.5 1979.3L489.7 1981.3L489.9 1983.3L490.0 1985.3L490.2 1987.3L490.4 1989.3L490.6 1991.2L490.8 1993.2L491.0 1995.2L491.2 1997.2L491.4 1999.2L491.5 2001.2L491.7 2003.2L491.9 2005.2L492.1 2007.2L492.3 2009.2L492.5 2011.2L492.8 2013.2L493.0 2015.1L493.2 2017.1L493.5 2019.1L493.7 2021.1L494.0 2023.1L494.2 2025.1L494.5 2027.1L494.7 2029.0L495.0 2031.0L495.2 2033.0L495.5 2035.0L495.7 2037.0L496.0 2039.0L496.2 2041.0L496.4 2043.0L496.7 2044.9L496.9 2046.9L497.1 2048.9L497.4 2050.9L497.6 2052.9L497.8 2054.9L498.1 2056.9L498.3 2058.9L498.6 2060.8L498.8 2062.8L499.1 2064.8L499.3 2066.8L499.6 2068.8L499.9 2070.8L500.1 2072.8L500.4 2074.7L500.7 2076.7L500.9 2078.7L501.2 2080.7L501.5 2082.7L501.7 2084.7L502.0 2086.6L502.3 2088.6L502.6 2090.6L502.9 2092.6L503.1 2094.6L503.4 2096.5L503.7 2098.5L504.1 2100.5L504.4 2102.5L504.7 2104.5L505.0 2106.4L505.4 2108.4L505.7 2110.4L506.1 2112.3L506.5 2114.3L506.9 2116.3L507.3 2118.2L507.7 2120.2L508.1 2122.1L508.5 2124.1L509.0 2126.0L509.5 2128.0L509.9 2129.9L510.4 2131.9L510.9 2133.8L511.4 2135.8L511.8 2137.7L512.3 2139.7L512.8 2141.6L513.3 2143.5L513.8 2145.5L514.3 2147.4L514.8 2149.3L515.3 2151.3L515.8 2153.2L516.4 2155.1L516.9 2157.1L517.4 2159.0L517.9 2160.9L518.5 2162.9L519.0 2164.8L519.6 2166.7L520.1 2168.6L520.7 2170.6L521.2 2172.5L521.8 2174.4L522.4 2176.3L522.9 2178.2L523.5 2180.2L524.1 2182.1L524.7 2184.0L525.3 2185.9L525.9 2187.8L526.5 2189.7L527.2 2191.6L527.8 2193.5L528.4 2195.4L529.1 2197.3L529.7 2199.2L530.3 2201.1L531.0 2203.0L531.7 2204.9L532.3 2206.8L533.0 2208.7L533.7 2210.5L534.4 2212.4L535.1 2214.3L535.8 2216.2L536.5 2218.0L537.2 2219.9L537.9 2221.8L538.6 2223.6L539.4 2225.5L540.1 2227.4L540.9 2229.2L541.6 2231.1L542.4 2232.9L543.2 2234.8L544.0 2236.6L544.8 2238.4L545.6 2240.3L546.4 2242.1L547.2 2243.9L548.0 2245.8L548.8 2247.6L549.6 2249.4L550.4 2251.3L551.2 2253.1L552.0 2254.9L552.8 2256.8L553.6 2258.6L554.5 2260.4L555.3 2262.2L556.1 2264.1L556.9 2265.9L557.8 2267.7L558.6 2269.5L559.5 2271.3L560.3 2273.1L561.2 2275.0L562.0 2276.8L562.8 2278.6L563.7 2280.4L564.5 2282.2L565.4 2284.0L566.2 2285.9L567.0 2287.7L567.9 2289.5L568.7 2291.3L569.5 2293.1L570.3 2295.0L571.2 2296.8L572.0 2298.6L572.9 2300.4L573.7 2302.2L574.6 2304.0L575.4 2305.9L576.3 2307.7L577.1 2309.5L577.9 2311.3L578.8 2313.1L579.6 2315.0L580.4 2316.8L581.2 2318.6L582.1 2320.4L583.0 2322.2L584.0 2323.9L584.9 2325.7L585.9 2327.5L586.8 2329.2L587.8 2331.0L588.8 2332.7L589.8 2334.4L590.8 2336.2L591.8 2337.9L592.8 2339.6L593.9 2341.3L594.9 2343.1L595.9 2344.8L597.0 2346.5L598.1 2348.2L599.1 2349.8L600.2 2351.5L601.3 2353.2L602.4 2354.9L603.5 2356.5L604.7 2358.2L605.8 2359.8L606.9 2361.5L608.1 2363.1L609.3 2364.7L610.5 2366.3L611.7 2367.9L613.0 2369.5L614.3 2371.0L615.6 2372.5L617.0 2373.9L618.4 2375.4L619.8 2376.8L621.3 2378.1L622.8 2379.5L624.3 2380.8L625.8 2382.1L627.3 2383.4L628.9 2384.7L630.4 2386.0L631.9 2387.3L633.4 2388.6L634.9 2389.9L636.4 2391.3L637.8 2392.6L639.3 2394.0L640.8 2395.3L642.3 2396.7L643.7 2398.1L645.2 2399.4L646.7 2400.7L648.2 2402.0L649.7 2403.3L651.3 2404.6L652.8 2405.9L654.4 2407.1L656.0 2408.3L657.6 2409.5L659.2 2410.7L660.8 2411.9L662.5 2413.1L664.1 2414.2L665.8 2415.3L667.5 2416.4L669.2 2417.4L670.9 2418.4L672.7 2419.4L674.4 2420.3L676.2 2421.3L678.0 2422.1L679.8 2423.0L681.6 2423.9L683.4 2424.7L685.2 2425.6L687.0 2426.5L688.8 2427.5L690.5 2428.4L692.3 2429.4L694.0 2430.4L695.7 2431.4L697.4 2432.5L699.1 2433.6L700.8 2434.7L702.4 2435.9L704.0 2437.1L705.5 2438.4L707.0 2439.7L708.5 2441.1L709.9 2442.4L711.3 2443.9L712.7 2445.3L714.1 2446.8L715.5 2448.2L716.8 2449.7L718.2 2451.2L719.5 2452.6L720.9 2454.1L722.2 2455.6L723.5 2457.1L724.8 2458.6L726.2 2460.1L727.5 2461.7L728.8 2463.2L730.1 2464.6L731.5 2466.1L732.9 2467.6L734.2 2469.0L735.6 2470.5L737.0 2471.9L738.5 2473.3L739.9 2474.7L741.3 2476.1L742.8 2477.4L744.3 2478.8L745.8 2480.1L747.4 2481.3L749.0 2482.5L750.6 2483.7L752.3 2484.8L754.0 2485.9L755.7 2486.9L757.4 2488.0L759.1 2489.0L760.8 2490.0L762.6 2491.0L764.3 2492.0L766.0 2493.0L767.8 2494.0L769.5 2495.0L771.2 2496.0L773.0 2497.0L774.7 2498.0L776.5 2499.0L778.2 2500.0L779.9 2501.0L781.7 2502.0L783.4 2503.0L785.1 2503.9L786.9 2504.9L788.6 2505.9L790.4 2506.8L792.2 2507.7L794.0 2508.6L795.8 2509.4L797.7 2510.2L799.5 2511.0L801.4 2511.7L803.2 2512.4L805.1 2513.1L807.0 2513.9L808.8 2514.6L810.7 2515.4L812.5 2516.1L814.4 2516.9L816.2 2517.7L818.0 2518.6L819.9 2519.4L821.7 2520.2L823.5 2521.0L825.4 2521.7L827.2 2522.5L829.1 2523.2L831.0 2523.9L832.8 2524.7L834.7 2525.3L836.6 2526.0L838.5 2526.7L840.4 2527.3L842.3 2527.9L844.2 2528.5L846.1 2529.1L848.0 2529.7L849.9 2530.3L851.8 2530.9L853.7 2531.6L855.6 2532.2L857.5 2532.9L859.4 2533.7L861.2 2534.4L863.1 2535.2L864.9 2535.9L866.8 2536.7L868.6 2537.5L870.4 2538.3L872.3 2539.2L874.1 2540.0L875.9 2540.8L877.7 2541.6L879.5 2542.5L881.3 2543.3L883.2 2544.2L885.0 2545.0L886.8 2545.9L888.6 2546.7L890.5 2547.5L892.3 2548.2L894.2 2548.9L896.1 2549.6L898.0 2550.3L899.9 2550.9L901.8 2551.4L903.8 2551.8L905.7 2552.1L907.7 2552.4L909.7 2552.6L911.7 2552.7L913.7 2552.8L915.7 2552.9L917.7 2553.0L919.7 2553.1L921.7 2553.1L923.7 2553.2L925.7 2553.2L927.7 2553.3L929.7 2553.3L931.7 2553.4L933.7 2553.4L935.7 2553.4L937.7 2553.5L939.7 2553.5L941.7 2553.5L943.7 2553.5L945.7 2553.6L947.7 2553.6L949.7 2553.6L951.7 2553.6L953.7 2553.6L955.7 2553.6L957.7 2553.6L959.7 2553.7L961.7 2553.7L963.7 2553.7L965.7 2553.7L967.7 2553.7L969.7 2553.7L971.7 2553.7L973.7 2553.7L975.8 2553.7L977.8 2553.8L979.8 2553.8L981.8 2553.8L983.8 2553.8L985.8 2553.8L987.8 2553.8L989.8 2553.8L991.8 2553.8L993.8 2553.8L995.8 2553.8L997.8 2553.8L999.8 2553.8L1001.8 2553.8L1003.8 2553.8L1005.8 2553.8L1007.8 2553.8L1009.8 2553.7L1011.8 2553.7L1013.8 2553.7L1015.8 2553.7L1017.8 2553.6L1019.8 2553.6L1021.8 2553.5L1023.8 2553.5L1025.8 2553.5L1027.8 2553.4L1029.8 2553.4L1031.8 2553.3L1033.8 2553.2L1035.8 2553.2L1037.8 2553.1L1039.8 2553.1L1041.8 2553.0L1043.8 2552.9L1045.8 2552.8L1047.8 2552.8L1049.8 2552.7L1051.8 2552.6L1053.8 2552.5L1055.8 2552.4L1057.8 2552.3L1059.8 2552.2L1061.8 2552.0L1063.8 2551.8L1065.8 2551.5L1067.7 2551.3L1069.7 2551.0L1071.7 2550.7L1073.7 2550.4L1075.7 2550.2L1077.7 2550.0L1079.7 2550.0L1081.7 2549.9L1083.7 2550.0L1085.7 2550.1L1087.7 2550.3L1089.7 2550.4L1091.7 2550.6L1093.7 2550.8L1095.6 2551.0L1097.6 2551.2L1099.6 2551.4L1101.6 2551.6L1103.6 2551.8L1105.6 2552.0L1107.6 2552.2L1109.6 2552.3L1111.6 2552.5L1113.6 2552.7L1115.6 2552.9" fill="none" stroke="#4472C4" stroke-width="9.6" stroke-linejoin="round" stroke-linecap="round" clip-path="url(#cc)"/>
<path d="M141.5 2548.9L142.6 2548.8L144.0 2548.8L145.5 2548.8L147.2 2548.8L149.1 2548.8L151.0 2548.9L152.9 2549.0L154.9 2549.1L156.9 2549.3L158.9 2549.5L160.9 2549.8L162.9 2550.1L164.8 2550.4L166.8 2550.6L168.8 2550.9L170.8 2551.1L172.8 2551.3L174.8 2551.5L176.8 2551.7L178.8 2551.9L180.8 2552.0L182.8 2552.2L184.8 2552.3L186.8 2552.4L188.8 2552.5L190.8 2552.5L192.8 2552.6L194.8 2552.6L196.8 2552.6L198.8 2552.6L200.8 2552.6L202.8 2552.6L204.8 2552.6L206.8 2552.6L208.8 2552.5L210.8 2552.5L212.8 2552.4L214.8 2552.3L216.8 2552.3L218.8 2552.2L220.8 2552.0L222.8 2551.9L224.8 2551.7L226.8 2551.6L228.8 2551.4L230.7 2551.1L232.7 2550.9L234.7 2550.6L236.7 2550.4L238.7 2550.1L240.7 2549.8L242.6 2549.4L244.6 2549.1L246.6 2548.7L248.5 2548.3L250.5 2547.8L252.4 2547.3L254.3 2546.8L256.3 2546.3L258.2 2545.7L260.1 2545.0L261.9 2544.4L263.8 2543.7L265.7 2543.0L267.6 2542.3L269.4 2541.6L271.3 2540.9L273.2 2540.2L275.1 2539.5L276.9 2538.9L278.8 2538.2L280.7 2537.6L282.6 2536.9L284.5 2536.3L286.4 2535.6L288.2 2534.8L290.1 2534.0L291.9 2533.2L293.7 2532.3L295.4 2531.4L297.2 2530.4L298.9 2529.4L300.6 2528.3L302.2 2527.2L303.9 2526.1L305.4 2524.9L307.0 2523.6L308.5 2522.3L310.0 2521.0L311.4 2519.6L312.8 2518.2L314.2 2516.7L315.5 2515.2L316.8 2513.7L318.1 2512.2L319.3 2510.6L320.5 2509.0L321.6 2507.3L322.7 2505.7L323.8 2504.0L324.8 2502.3L325.8 2500.5L326.8 2498.8L327.7 2497.0L328.7 2495.2L329.6 2493.4L330.5 2491.7L331.4 2489.9L332.2 2488.1L333.0 2486.2L333.8 2484.4L334.5 2482.5L335.2 2480.6L336.0 2478.8L336.7 2476.9L337.3 2475.0L338.0 2473.1L338.7 2471.2L339.3 2469.3L339.9 2467.4L340.6 2465.5L341.2 2463.6L341.7 2461.7L342.3 2459.8L342.9 2457.9L343.4 2455.9L344.0 2454.0L344.5 2452.1L345.0 2450.1L345.5 2448.2L346.0 2446.3L346.5 2444.3L346.9 2442.4L347.4 2440.4L347.8 2438.5L348.3 2436.5L348.7 2434.6L349.1 2432.6L349.5 2430.6L350.0 2428.7L350.4 2426.7L350.7 2424.7L351.1 2422.8L351.5 2420.8L351.9 2418.9L352.3 2416.9L352.6 2414.9L353.0 2412.9L353.4 2411.0L353.7 2409.0L354.0 2407.0L354.4 2405.1L354.7 2403.1L355.1 2401.1L355.4 2399.1L355.8 2397.2L356.1 2395.2L356.4 2393.2L356.7 2391.2L357.1 2389.3L357.4 2387.3L357.7 2385.3L358.0 2383.3L358.3 2381.3L358.6 2379.4L358.9 2377.4L359.2 2375.4L359.5 2373.4L359.8 2371.4L360.1 2369.5L360.4 2367.5L360.7 2365.5L361.0 2363.5L361.2 2361.5L361.5 2359.5L361.7 2357.6L362.0 2355.6L362.3 2353.6L362.5 2351.6L362.8 2349.6L363.0 2347.6L363.2 2345.6L363.5 2343.6L363.7 2341.7L363.9 2339.7L364.1 2337.7L364.3 2335.7L364.5 2333.7L364.8 2331.7L365.0 2329.7L365.2 2327.7L365.4 2325.7L365.6 2323.7L365.8 2321.7L366.0 2319.7L366.2 2317.7L366.4 2315.8L366.6 2313.8L366.8 2311.8L367.0 2309.8L367.1 2307.8L367.3 2305.8L367.5 2303.8L367.7 2301.8L367.9 2299.8L368.1 2297.8L368.3 2295.8L368.5 2293.8L368.6 2291.8L368.8 2289.8L369.0 2287.8L369.2 2285.8L369.4 2283.8L369.6 2281.9L369.7 2279.9L369.9 2277.9L370.1 2275.9L370.3 2273.9L370.5 2271.9L370.7 2269.9L370.8 2267.9L371.0 2265.9L371.2 2263.9L371.4 2261.9L371.5 2259.9L371.7 2257.9L371.9 2255.9L372.1 2253.9L372.3 2251.9L372.4 2249.9L372.6 2247.9L372.8 2245.9L373.0 2244.0L373.1 2242.0L373.3 2240.0L373.5 2238.0L373.6 2236.0L373.8 2234.0L374.0 2232.0L374.1 2230.0L374.3 2228.0L374.5 2226.0L374.6 2224.0L374.8 2222.0L375.0 2220.0L375.1 2218.0L375.3 2216.0L375.5 2214.0L375.6 2212.0L375.8 2210.0L376.0 2208.0L376.1 2206.0L376.3 2204.0L376.4 2202.0L376.6 2200.0L376.8 2198.0L376.9 2196.0L377.1 2194.1L377.2 2192.1L377.4 2190.1L377.6 2188.1L377.7 2186.1L377.9 2184.1L378.0 2182.1L378.2 2180.1L378.3 2178.1L378.5 2176.1L378.7 2174.1L378.8 2172.1L379.0 2170.1L379.1 2168.1L379.3 2166.1L379.4 2164.1L379.6 2162.1L379.7 2160.1L379.9 2158.1L380.0 2156.1L380.2 2154.1L380.3 2152.1L380.5 2150.1L380.6 2148.1L380.8 2146.1L380.9 2144.1L381.1 2142.1L381.2 2140.1L381.4 2138.1L381.5 2136.1L381.7 2134.1L381.8 2132.1L382.0 2130.1L382.1 2128.1L382.3 2126.2L382.4 2124.2L382.6 2122.2L382.7 2120.2L382.9 2118.2L383.0 2116.2L383.1 2114.2L383.3 2112.2L383.4 2110.2L383.6 2108.2L383.7 2106.2L383.9 2104.2L384.0 2102.2L384.2 2100.2L384.3 2098.2L384.4 2096.2L384.6 2094.2L384.7 2092.2L384.9 2090.2L385.0 2088.2L385.2 2086.2L385.3 2084.2L385.4 2082.2L385.6 2080.2L385.7 2078.2L385.9 2076.2L386.0 2074.2L386.1 2072.2L386.3 2070.2L386.4 2068.2L386.6 2066.2L386.7 2064.2L386.8 2062.2L387.0 2060.2L387.1 2058.2L387.3 2056.2L387.4 2054.2L387.5 2052.2L387.7 2050.2L387.8 2048.2L387.9 2046.2L388.1 2044.2L388.2 2042.2L388.4 2040.2L388.5 2038.2L388.6 2036.2L388.8 2034.2L388.9 2032.3L389.0 2030.3L389.2 2028.3L389.3 2026.3L389.5 2024.3L389.6 2022.3L389.7 2020.3L389.9 2018.3L390.0 2016.3L390.1 2014.3L390.3 2012.3L390.4 2010.3L390.5 2008.3L390.7 2006.3L390.8 2004.3L390.9 2002.3L391.1 2000.3L391.2 1998.3L391.4 1996.3L391.5 1994.3L391.6 1992.3L391.8 1990.3L391.9 1988.3L392.0 1986.3L392.2 1984.3L392.3 1982.3L392.4 1980.3L392.6 1978.3L392.7 1976.3L392.8 1974.3L393.0 1972.3L393.1 1970.3L393.2 1968.3L393.4 1966.3L393.5 1964.3L393.6 1962.3L393.8 1960.3L393.9 1958.3L394.0 1956.3L394.2 1954.3L394.3 1952.3L394.4 1950.3L394.6 1948.3L394.7 1946.3L394.8 1944.3L395.0 1942.3L395.1 1940.3L395.2 1938.3L395.4 1936.3L395.5 1934.3L395.6 1932.3L395.8 1930.3L395.9 1928.3L396.0 1926.3L396.2 1924.3L396.3 1922.3L396.4 1920.3L396.6 1918.3L396.7 1916.3L396.8 1914.3L397.0 1912.4L397.1 1910.4L397.2 1908.4L397.4 1906.4L397.5 1904.4L397.6 1902.4L397.8 1900.4L397.9 1898.4L398.0 1896.4L398.2 1894.4L398.3 1892.4L398.4 1890.4L398.6 1888.4L398.7 1886.4L398.8 1884.4L399.0 1882.4L399.1 1880.4L399.3 1878.4L399.4 1876.4L399.5 1874.4L399.7 1872.4L399.8 1870.4L399.9 1868.4L400.1 1866.4L400.2 1864.4L400.3 1862.4L400.5 1860.4L400.6 1858.4L400.7 1856.4L400.9 1854.4L401.0 1852.4L401.1 1850.4L401.3 1848.4L401.4 1846.4L401.6 1844.4L401.7 1842.4L401.8 1840.4L402.0 1838.4L402.1 1836.4L402.2 1834.4L402.4 1832.4L402.5 1830.4L402.6 1828.4L402.8 1826.4L402.9 1824.4L403.1 1822.4L403.2 1820.4L403.3 1818.4L403.5 1816.4L403.6 1814.4L403.8 1812.4L403.9 1810.4L404.0 1808.4L404.2 1806.4L404.3 1804.4L404.5 1802.4L404.6 1800.4L404.7 1798.5L404.9 1796.5L405.0 1794.5L405.2 1792.5L405.3 1790.5L405.4 1788.5L405.6 1786.5L405.7 1784.5L405.9 1782.5L406.0 1780.5L406.1 1778.5L406.3 1776.5L406.4 1774.5L406.6 1772.5L406.7 1770.5L406.9 1768.5L407.0 1766.5L407.2 1764.5L407.3 1762.5L407.4 1760.5L407.6 1758.5L407.7 1756.5L407.9 1754.5L408.0 1752.5L408.2 1750.5L408.3 1748.5L408.5 1746.5L408.6 1744.5L408.8 1742.5L408.9 1740.5L409.1 1738.5L409.2 1736.5L409.4 1734.5L409.5 1732.5L409.7 1730.5L409.8 1728.5L410.0 1726.5L410.1 1724.5L410.3 1722.5L410.4 1720.5L410.6 1718.6L410.8 1716.6L410.9 1714.6L411.1 1712.6L411.2 1710.6L411.4 1708.6L411.5 1706.6L411.7 1704.6L411.9 1702.6L412.0 1700.6L412.2 1698.6L412.4 1696.6L412.5 1694.6L412.7 1692.6L412.9 1690.6L413.0 1688.6L413.2 1686.6L413.4 1684.6L413.6 1682.6L413.7 1680.6L413.9 1678.6L414.1 1676.6L414.3 1674.6L414.4 1672.6L414.6 1670.7L414.8 1668.7L415.0 1666.7L415.2 1664.7L415.4 1662.7L415.5 1660.7L415.7 1658.7L415.9 1656.7L416.1 1654.7L416.3 1652.7L416.5 1650.7L416.7 1648.7L416.9 1646.7L417.1 1644.7L417.3 1642.7L417.5 1640.7L417.7 1638.8L417.9 1636.8L418.1 1634.8L418.3 1632.8L418.5 1630.8L418.7 1628.8L418.9 1626.8L419.1 1624.8L419.3 1622.8L419.6 1620.8L419.8 1618.8L420.0 1616.8L420.2 1614.9L420.5 1612.9L420.7 1610.9L420.9 1608.9L421.1 1606.9L421.4 1604.9L421.6 1602.9L421.8 1600.9L422.1 1598.9L422.3 1596.9L422.6 1595.0L422.8 1593.0L423.0 1591.0L423.3 1589.0L423.5 1587.0L423.8 1585.0L424.0 1583.0L424.3 1581.0L424.5 1579.1L424.8 1577.1L425.0 1575.1L425.3 1573.1L425.6 1571.1L425.8 1569.1L426.1 1567.1L426.4 1565.2L426.7 1563.2L427.0 1561.2L427.3 1559.2L427.6 1557.2L427.9 1555.3L428.2 1553.3L428.6 1551.3L428.9 1549.3L429.3 1547.4L429.7 1545.4L430.1 1543.5L430.5 1541.5L431.0 1539.5L431.4 1537.6L432.0 1535.7L432.5 1533.7L433.1 1531.8L433.9 1530.0L434.7 1528.2L435.8 1526.5L437.6 1525.6L439.2 1526.6L440.3 1528.3L441.2 1530.1L441.9 1532.0L442.5 1533.9L443.1 1535.8L443.6 1537.7L444.1 1539.7L444.5 1541.6L444.9 1543.6L445.3 1545.5L445.7 1547.5L446.1 1549.5L446.4 1551.4L446.8 1553.4L447.1 1555.4L447.5 1557.4L447.8 1559.3L448.1 1561.3L448.4 1563.3L448.7 1565.3L449.0 1567.3L449.2 1569.2L449.5 1571.2L449.8 1573.2L450.0 1575.2L450.3 1577.2L450.6 1579.2L450.8 1581.2L451.1 1583.1L451.3 1585.1L451.6 1587.1L451.9 1589.1L452.1 1591.1L452.4 1593.1L452.7 1595.1L453.0 1597.0L453.2 1599.0L453.5 1601.0L453.8 1603.0L454.1 1605.0L454.4 1607.0L454.6 1608.9L454.9 1610.9L455.2 1612.9L455.5 1614.9L455.7 1616.9L456.0 1618.9L456.3 1620.8L456.6 1622.8L456.8 1624.8L457.1 1626.8L457.4 1628.8L457.7 1630.8L457.9 1632.7L458.2 1634.7L458.4 1636.7L458.7 1638.7L459.0 1640.7L459.2 1642.7L459.5 1644.7L459.7 1646.7L459.9 1648.6L460.2 1650.6L460.4 1652.6L460.7 1654.6L460.9 1656.6L461.1 1658.6L461.4 1660.6L461.6 1662.6L461.8 1664.6L462.1 1666.5L462.3 1668.5L462.5 1670.5L462.8 1672.5L463.0 1674.5L463.2 1676.5L463.4 1678.5L463.7 1680.5L463.9 1682.5L464.1 1684.4L464.3 1686.4L464.5 1688.4L464.8 1690.4L465.0 1692.4L465.2 1694.4L465.4 1696.4L465.6 1698.4L465.9 1700.4L466.1 1702.4L466.3 1704.4L466.5 1706.4L466.7 1708.3L466.9 1710.3L467.1 1712.3L467.3 1714.3L467.5 1716.3L467.7 1718.3L467.9 1720.3L468.1 1722.3L468.3 1724.3L468.6 1726.3L468.8 1728.3L469.0 1730.3L469.2 1732.3L469.4 1734.2L469.6 1736.2L469.8 1738.2L470.0 1740.2L470.2 1742.2L470.4 1744.2L470.6 1746.2L470.8 1748.2L470.9 1750.2L471.1 1752.2L471.3 1754.2L471.5 1756.2L471.7 1758.2L471.9 1760.2L472.1 1762.1L472.3 1764.1L472.5 1766.1L472.7 1768.1L472.9 1770.1L473.0 1772.1L473.2 1774.1L473.4 1776.1L473.6 1778.1L473.8 1780.1L473.9 1782.1L474.1 1784.1L474.3 1786.1L474.4 1788.1L474.6 1790.1L474.8 1792.1L475.0 1794.1L475.1 1796.1L475.3 1798.1L475.5 1800.1L475.6 1802.1L475.8 1804.0L476.0 1806.0L476.1 1808.0L476.3 1810.0L476.4 1812.0L476.6 1814.0L476.8 1816.0L476.9 1818.0L477.1 1820.0L477.3 1822.0L477.4 1824.0L477.6 1826.0L477.7 1828.0L477.9 1830.0L478.1 1832.0L478.2 1834.0L478.4 1836.0L478.6 1838.0L478.7 1840.0L478.9 1842.0L479.0 1844.0L479.2 1846.0L479.4 1848.0L479.5 1850.0L479.7 1852.0L479.9 1854.0L480.0 1856.0L480.2 1857.9L480.3 1859.9L480.5 1861.9L480.7 1863.9L480.8 1865.9L481.0 1867.9L481.2 1869.9L481.4 1871.9L481.5 1873.9L481.7 1875.9L481.9 1877.9L482.1 1879.9L482.3 1881.9L482.4 1883.9L482.6 1885.9L482.8 1887.9L483.0 1889.9L483.2 1891.9L483.4 1893.9L483.6 1895.8L483.8 1897.8L483.9 1899.8L484.1 1901.8L484.3 1903.8L484.5 1905.8L484.7 1907.8L484.9 1909.8L485.1 1911.8L485.3 1913.8L485.5 1915.8L485.7 1917.8L485.8 1919.8L486.0 1921.8L486.2 1923.8L486.4 1925.8L486.6 1927.8L486.8 1929.7L487.0 1931.7L487.1 1933.7L487.3 1935.7L487.5 1937.7L487.7 1939.7L487.9 1941.7L488.1 1943.7L488.2 1945.7L488.4 1947.7L488.6 1949.7L488.8 1951.7L489.0 1953.7L489.1 1955.7L489.3 1957.7L489.5 1959.7L489.7 1961.7L489.9 1963.7L490.1 1965.6L490.2 1967.6L490.4 1969.6L490.6 1971.6L490.8 1973.6L491.0 1975.6L491.2 1977.6L491.4 1979.6L491.6 1981.6L491.8 1983.6L492.0 1985.6L492.2 1987.6L492.4 1989.6L492.6 1991.6L492.8 1993.6L493.0 1995.5L493.2 1997.5L493.4 1999.5L493.6 2001.5L493.8 2003.5L494.1 2005.5L494.3 2007.5L494.6 2009.5L494.9 2011.5L495.2 2013.4L495.4 2015.4L495.7 2017.4L496.0 2019.4L496.3 2021.4L496.6 2023.3L496.9 2025.3L497.3 2027.3L497.6 2029.3L497.9 2031.3L498.2 2033.2L498.5 2035.2L498.8 2037.2L499.0 2039.2L499.3 2041.2L499.6 2043.2L499.9 2045.1L500.2 2047.1L500.5 2049.1L500.8 2051.1L501.1 2053.1L501.4 2055.0L501.7 2057.0L501.9 2059.0L502.2 2061.0L502.5 2063.0L502.9 2064.9L503.2 2066.9L503.5 2068.9L503.8 2070.9L504.1 2072.9L504.4 2074.8L504.8 2076.8L505.1 2078.8L505.4 2080.8L505.8 2082.7L506.1 2084.7L506.4 2086.7L506.8 2088.7L507.1 2090.6L507.5 2092.6L507.8 2094.6L508.2 2096.5L508.6 2098.5L509.0 2100.5L509.3 2102.4L509.7 2104.4L510.1 2106.4L510.5 2108.3L511.0 2110.3L511.4 2112.2L511.8 2114.2L512.3 2116.1L512.7 2118.1L513.2 2120.0L513.7 2122.0L514.2 2123.9L514.7 2125.9L515.3 2127.8L515.8 2129.7L516.3 2131.7L516.9 2133.6L517.4 2135.5L517.9 2137.4L518.5 2139.4L519.1 2141.3L519.6 2143.2L520.2 2145.1L520.7 2147.1L521.3 2149.0L521.8 2150.9L522.4 2152.8L522.9 2154.8L523.5 2156.7L524.1 2158.6L524.7 2160.5L525.2 2162.4L525.8 2164.3L526.4 2166.3L527.0 2168.2L527.6 2170.1L528.2 2172.0L528.8 2173.9L529.4 2175.8L530.0 2177.7L530.7 2179.6L531.3 2181.5L531.9 2183.4L532.6 2185.3L533.2 2187.2L533.9 2189.1L534.5 2191.0L535.2 2192.9L535.9 2194.8L536.5 2196.7L537.2 2198.5L537.9 2200.4L538.6 2202.3L539.3 2204.2L540.0 2206.1L540.7 2207.9L541.4 2209.8L542.2 2211.7L542.9 2213.5L543.6 2215.4L544.4 2217.2L545.1 2219.1L545.9 2221.0L546.6 2222.8L547.4 2224.7L548.2 2226.5L549.0 2228.3L549.8 2230.2L550.6 2232.0L551.4 2233.8L552.2 2235.7L553.1 2237.5L553.9 2239.3L554.7 2241.1L555.6 2243.0L556.4 2244.8L557.3 2246.6L558.1 2248.4L559.0 2250.2L559.8 2252.0L560.6 2253.8L561.5 2255.7L562.3 2257.5L563.2 2259.3L564.0 2261.1L564.8 2262.9L565.7 2264.7L566.5 2266.6L567.4 2268.4L568.3 2270.2L569.1 2272.0L570.0 2273.8L570.8 2275.6L571.7 2277.4L572.6 2279.2L573.4 2281.0L574.3 2282.8L575.1 2284.7L576.0 2286.5L576.8 2288.3L577.7 2290.1L578.5 2291.9L579.4 2293.7L580.2 2295.6L581.0 2297.4L581.8 2299.2L582.6 2301.1L583.4 2302.9L584.3 2304.7L585.1 2306.5L585.9 2308.4L586.7 2310.2L587.5 2312.1L588.2 2313.9L589.0 2315.7L589.8 2317.6L590.6 2319.4L591.3 2321.3L592.0 2323.2L592.8 2325.0L593.6 2326.9L594.3 2328.7L595.1 2330.6L595.9 2332.4L596.8 2334.2L597.6 2336.0L598.5 2337.8L599.4 2339.6L600.3 2341.4L601.3 2343.2L602.2 2344.9L603.2 2346.7L604.2 2348.4L605.2 2350.1L606.3 2351.8L607.4 2353.5L608.5 2355.2L609.6 2356.8L610.8 2358.5L611.9 2360.1L613.1 2361.7L614.4 2363.3L615.6 2364.8L616.9 2366.3L618.3 2367.8L619.6 2369.3L621.0 2370.8L622.4 2372.2L623.9 2373.6L625.3 2374.9L626.8 2376.2L628.3 2377.6L629.9 2378.9L631.4 2380.2L632.9 2381.5L634.4 2382.8L636.0 2384.1L637.5 2385.4L638.9 2386.7L640.4 2388.1L641.9 2389.4L643.4 2390.8L644.8 2392.2L646.3 2393.5L647.8 2394.9L649.3 2396.2L650.8 2397.5L652.3 2398.9L653.8 2400.1L655.4 2401.4L656.9 2402.7L658.5 2403.9L660.1 2405.1L661.7 2406.3L663.3 2407.5L665.0 2408.7L666.6 2409.8L668.3 2410.9L669.9 2412.0L671.6 2413.1L673.3 2414.1L675.1 2415.1L676.8 2416.1L678.6 2417.0L680.4 2417.9L682.2 2418.8L684.0 2419.7L685.8 2420.6L687.6 2421.4L689.4 2422.3L691.2 2423.2L692.9 2424.2L694.7 2425.2L696.4 2426.1L698.2 2427.2L699.9 2428.2L701.6 2429.3L703.2 2430.4L704.9 2431.5L706.5 2432.7L708.1 2433.9L709.6 2435.2L711.1 2436.5L712.6 2437.9L714.0 2439.3L715.4 2440.7L716.8 2442.2L718.2 2443.7L719.5 2445.1L720.9 2446.6L722.2 2448.1L723.6 2449.5L724.9 2451.0L726.3 2452.5L727.6 2454.0L728.9 2455.5L730.2 2457.1L731.5 2458.6L732.9 2460.1L734.2 2461.5L735.6 2463.0L736.9 2464.5L738.3 2465.9L739.7 2467.4L741.1 2468.8L742.5 2470.2L744.0 2471.6L745.4 2473.0L746.9 2474.3L748.4 2475.6L750.0 2476.9L751.5 2478.1L753.2 2479.3L754.8 2480.5L756.5 2481.6L758.2 2482.6L759.9 2483.7L761.6 2484.7L763.3 2485.7L765.0 2486.7L766.8 2487.8L768.5 2488.8L770.2 2489.8L772.0 2490.8L773.7 2491.8L775.4 2492.8L777.2 2493.7L778.9 2494.7L780.7 2495.7L782.4 2496.7L784.1 2497.8L785.8 2498.8L787.6 2499.8L789.3 2500.8L791.0 2501.8L792.8 2502.8L794.6 2503.7L796.4 2504.5L798.3 2505.3L800.1 2506.0L802.0 2506.7L803.9 2507.3L805.8 2507.8L807.8 2508.2L809.8 2508.5L811.8 2508.6L813.8 2508.6L815.8 2508.5L817.8 2508.4L819.8 2508.2L821.8 2508.1L823.8 2508.1L825.8 2508.2L827.8 2508.4L829.8 2508.8L831.7 2509.3L833.6 2509.9L835.5 2510.6L837.3 2511.3L839.2 2512.1L841.0 2513.0L842.8 2513.9L844.5 2514.8L846.3 2515.8L848.0 2516.8L849.7 2517.9L851.5 2518.9L853.2 2519.8L855.0 2520.7L856.8 2521.5L858.7 2522.3L860.6 2523.0L862.4 2523.7L864.3 2524.4L866.2 2525.1L868.1 2525.8L870.0 2526.5L871.8 2527.2L873.7 2527.9L875.5 2528.7L877.4 2529.5L879.2 2530.3L881.0 2531.2L882.8 2532.1L884.6 2533.0L886.4 2533.9L888.1 2534.8L889.9 2535.8L891.7 2536.7L893.4 2537.7L895.2 2538.7L896.9 2539.7L898.6 2540.7L900.4 2541.6L902.2 2542.5L904.1 2543.1L906.1 2543.6L908.0 2543.8L910.0 2543.8L912.0 2543.8L914.0 2543.7L916.0 2543.6L918.0 2543.4L920.0 2543.4L922.0 2543.3L924.0 2543.2L926.1 2543.2L928.1 2543.2L930.1 2543.2L932.1 2543.2L934.1 2543.2L936.1 2543.2L938.1 2543.2L940.1 2543.3L942.1 2543.4L944.1 2543.6L946.1 2543.8L948.0 2544.0L950.0 2544.3L952.0 2544.5L954.0 2544.7L956.0 2544.9L958.0 2545.0L960.0 2545.1L962.0 2545.1L964.0 2545.1L966.0 2545.1L968.0 2545.1L970.0 2545.1L972.0 2545.1L974.0 2545.1L976.0 2545.1L978.0 2545.1L980.0 2545.2L982.0 2545.3L984.0 2545.6L986.0 2545.8L988.0 2546.2L989.9 2546.6L991.9 2547.1L993.8 2547.6L995.8 2548.0L997.7 2548.5L999.7 2548.9L1001.7 2549.2L1003.6 2549.5L1005.6 2549.7L1007.6 2549.8L1009.6 2549.9L1011.6 2550.0L1013.6 2550.1L1015.6 2550.1L1017.6 2550.1L1019.7 2550.1L1021.7 2550.0L1023.7 2549.9L1025.6 2549.7L1027.6 2549.5L1029.6 2549.4L1031.6 2549.2L1033.6 2549.1L1035.6 2549.0L1037.6 2549.0L1039.6 2549.0L1041.6 2549.2L1043.6 2549.4L1045.6 2549.6L1047.6 2549.9L1049.6 2550.2L1051.6 2550.5L1053.5 2550.8L1055.5 2551.0L1057.5 2551.3L1059.5 2551.4L1061.5 2551.6L1063.5 2551.7L1065.5 2551.8L1067.5 2551.9L1069.5 2552.0L1071.5 2552.0L1073.5 2552.1L1075.5 2552.2L1077.5 2552.2L1079.5 2552.3L1081.5 2552.3L1083.5 2552.4L1085.5 2552.4L1087.5 2552.4L1089.5 2552.4L1091.5 2552.4L1093.5 2552.4L1095.5 2552.4L1097.5 2552.4L1099.5 2552.4L1101.5 2552.4L1103.6 2552.4L1105.6 2552.4L1107.6 2552.4L1109.6 2552.4L1111.6 2552.4L1113.6 2552.4L1115.6 2552.4" fill="none" stroke="#ED7D31" stroke-width="9.6" stroke-linejoin="round" stroke-linecap="round" clip-path="url(#cc)"/>
<path d="M227.0 2554.8L229.0 2554.6L231.0 2554.4L233.0 2554.2L235.0 2554.1L237.0 2553.9L239.0 2553.7L241.0 2553.6L243.0 2553.4L245.0 2553.2L247.0 2553.1L249.0 2552.9L251.0 2552.7L253.0 2552.6L255.0 2552.5L257.0 2552.5L259.0 2552.5L261.0 2552.4L263.0 2552.3L265.0 2552.2L267.0 2552.1L269.0 2552.0L271.0 2551.9L273.0 2551.7L274.9 2551.5L276.9 2551.3L278.9 2551.1L280.9 2550.9L282.9 2550.6L284.9 2550.3L286.9 2550.0L288.8 2549.6L290.8 2549.1L292.7 2548.6L294.6 2547.9L296.4 2547.2L298.2 2546.2L299.8 2545.1L301.3 2543.8L302.7 2542.3L304.2 2540.9L305.7 2539.6L307.3 2538.4L308.9 2537.2L310.3 2535.8L311.6 2534.3L312.8 2532.7L314.5 2531.7L316.2 2530.5L317.8 2529.4L319.3 2528.1L320.8 2526.8L322.3 2525.4L323.6 2523.9L324.9 2522.4L326.2 2520.8L327.3 2519.2L328.4 2517.5L329.4 2515.8L330.3 2514.0L331.2 2512.2L332.0 2510.4L332.7 2508.5L333.4 2506.6L334.0 2504.7L334.6 2502.8L335.1 2500.8L335.5 2498.9L335.9 2496.9L336.3 2495.0L336.6 2493.0L337.3 2491.1L338.1 2489.3L338.8 2487.4L339.6 2485.5L340.3 2483.7L341.0 2481.8L341.7 2479.9L342.3 2478.0L343.0 2476.1L343.6 2474.2L344.2 2472.3L344.8 2470.4L345.4 2468.5L345.9 2466.6L346.5 2464.7L347.0 2462.7L347.6 2460.8L348.1 2458.9L348.6 2456.9L349.1 2455.0L349.5 2453.0L350.0 2451.1L350.4 2449.1L350.9 2447.2L351.3 2445.2L351.7 2443.3L352.1 2441.3L352.5 2439.3L352.9 2437.4L353.3 2435.4L353.7 2433.4L354.0 2431.5L354.4 2429.5L354.7 2427.5L355.1 2425.6L355.4 2423.6L355.7 2421.6L356.1 2419.6L356.4 2417.7L356.8 2415.7L357.1 2413.7L357.4 2411.7L357.8 2409.8L358.1 2407.8L358.4 2405.8L358.7 2403.8L359.0 2401.9L359.3 2399.9L359.7 2397.9L360.0 2395.9L360.3 2394.0L360.6 2392.0L360.9 2390.0L361.2 2388.0L361.4 2386.0L361.7 2384.0L362.0 2382.1L362.3 2380.1L362.6 2378.1L362.8 2376.1L363.1 2374.1L363.4 2372.1L363.6 2370.2L363.9 2368.2L364.1 2366.2L364.4 2364.2L364.6 2362.2L364.9 2360.2L365.1 2358.2L365.3 2356.3L365.6 2354.3L365.8 2352.3L366.0 2350.3L366.2 2348.3L366.4 2346.3L366.6 2344.3L366.8 2342.3L367.0 2340.3L367.2 2338.3L367.4 2336.3L367.6 2334.3L367.8 2332.4L367.9 2330.4L368.1 2328.4L368.3 2326.4L368.5 2324.4L368.6 2322.4L368.8 2320.4L369.0 2318.4L369.1 2316.4L369.3 2314.4L369.5 2312.4L369.6 2310.4L369.8 2308.4L370.0 2306.4L370.1 2304.4L370.3 2302.4L370.4 2300.4L370.6 2298.4L370.8 2296.4L371.0 2294.5L371.2 2292.5L371.4 2290.5L371.6 2288.5L371.7 2286.5L371.9 2284.5L372.1 2282.5L372.3 2280.5L372.5 2278.5L372.6 2276.5L372.8 2274.5L373.0 2272.5L373.2 2270.5L373.4 2268.5L373.6 2266.5L373.7 2264.5L373.9 2262.6L374.1 2260.6L374.3 2258.6L374.4 2256.6L374.6 2254.6L374.8 2252.6L375.0 2250.6L375.1 2248.6L375.3 2246.6L375.5 2244.6L375.7 2242.6L375.8 2240.6L376.0 2238.6L376.2 2236.6L376.4 2234.6L376.5 2232.6L376.7 2230.6L376.9 2228.6L377.0 2226.6L377.2 2224.7L377.4 2222.7L377.5 2220.7L377.7 2218.7L377.9 2216.7L378.0 2214.7L378.2 2212.7L378.3 2210.7L378.5 2208.7L378.7 2206.7L378.8 2204.7L379.0 2202.7L379.2 2200.7L379.3 2198.7L379.5 2196.7L379.6 2194.7L379.8 2192.7L380.0 2190.7L380.1 2188.7L380.3 2186.7L380.4 2184.7L380.6 2182.7L380.7 2180.8L380.9 2178.8L381.0 2176.8L381.2 2174.8L381.4 2172.8L381.5 2170.8L381.7 2168.8L381.8 2166.8L382.0 2164.8L382.1 2162.8L382.3 2160.8L382.4 2158.8L382.6 2156.8L382.7 2154.8L382.9 2152.8L383.0 2150.8L383.2 2148.8L383.3 2146.8L383.5 2144.8L383.6 2142.8L383.8 2140.8L383.9 2138.8L384.1 2136.8L384.2 2134.8L384.4 2132.8L384.5 2130.8L384.7 2128.8L384.8 2126.9L385.0 2124.9L385.1 2122.9L385.3 2120.9L385.4 2118.9L385.5 2116.9L385.7 2114.9L385.8 2112.9L386.0 2110.9L386.1 2108.9L386.3 2106.9L386.4 2104.9L386.6 2102.9L386.7 2100.9L386.8 2098.9L387.0 2096.9L387.1 2094.9L387.3 2092.9L387.4 2090.9L387.6 2088.9L387.7 2086.9L387.8 2084.9L388.0 2082.9L388.1 2080.9L388.3 2078.9L388.4 2076.9L388.5 2074.9L388.7 2072.9L388.8 2070.9L389.0 2068.9L389.1 2066.9L389.2 2064.9L389.4 2062.9L389.5 2061.0L389.7 2059.0L389.8 2057.0L389.9 2055.0L390.1 2053.0L390.2 2051.0L390.4 2049.0L390.5 2047.0L390.6 2045.0L390.8 2043.0L390.9 2041.0L391.0 2039.0L391.2 2037.0L391.3 2035.0L391.5 2033.0L391.6 2031.0L391.7 2029.0L391.9 2027.0L392.0 2025.0L392.1 2023.0L392.3 2021.0L392.4 2019.0L392.5 2017.0L392.7 2015.0L392.8 2013.0L392.9 2011.0L393.1 2009.0L393.2 2007.0L393.4 2005.0L393.5 2003.0L393.6 2001.0L393.8 1999.0L393.9 1997.0L394.0 1995.0L394.2 1993.0L394.3 1991.0L394.4 1989.0L394.6 1987.0L394.7 1985.1L394.9 1983.1L395.0 1981.1L395.1 1979.1L395.3 1977.1L395.4 1975.1L395.6 1973.1L395.7 1971.1L395.8 1969.1L396.0 1967.1L396.1 1965.1L396.3 1963.1L396.4 1961.1L396.6 1959.1L396.7 1957.1L396.8 1955.1L397.0 1953.1L397.1 1951.1L397.3 1949.1L397.4 1947.1L397.6 1945.1L397.7 1943.1L397.9 1941.1L398.0 1939.1L398.2 1937.1L398.3 1935.1L398.5 1933.1L398.7 1931.1L398.8 1929.1L399.0 1927.1L399.1 1925.2L399.3 1923.2L399.4 1921.2L399.6 1919.2L399.8 1917.2L399.9 1915.2L400.1 1913.2L400.3 1911.2L400.4 1909.2L400.6 1907.2L400.8 1905.2L400.9 1903.2L401.1 1901.2L401.3 1899.2L401.5 1897.2L401.6 1895.2L401.8 1893.2L402.0 1891.2L402.2 1889.2L402.4 1887.3L402.5 1885.3L402.7 1883.3L402.9 1881.3L403.1 1879.3L403.3 1877.3L403.5 1875.3L403.7 1873.3L403.9 1871.3L404.1 1869.3L404.2 1867.3L404.4 1865.3L404.6 1863.3L404.8 1861.3L405.0 1859.4L405.2 1857.4L405.5 1855.4L405.7 1853.4L405.9 1851.4L406.1 1849.4L406.3 1847.4L406.5 1845.4L406.7 1843.4L406.9 1841.4L407.2 1839.4L407.4 1837.5L407.6 1835.5L407.8 1833.5L408.0 1831.5L408.3 1829.5L408.5 1827.5L408.7 1825.5L409.0 1823.5L409.2 1821.5L409.4 1819.6L409.7 1817.6L409.9 1815.6L410.1 1813.6L410.4 1811.6L410.6 1809.6L410.9 1807.6L411.1 1805.6L411.4 1803.7L411.6 1801.7L411.9 1799.7L412.1 1797.7L412.4 1795.7L412.7 1793.7L412.9 1791.7L413.2 1789.8L413.5 1787.8L413.8 1785.8L414.1 1783.8L414.4 1781.8L414.7 1779.9L415.0 1777.9L415.3 1775.9L415.6 1773.9L416.0 1772.0L416.3 1770.0L416.7 1768.0L417.1 1766.1L417.5 1764.1L417.9 1762.1L418.3 1760.2L418.8 1758.2L419.3 1756.3L419.8 1754.4L420.3 1752.4L421.0 1750.5L421.6 1748.6L422.5 1746.8L423.4 1745.1L424.8 1743.6L426.6 1743.7L428.1 1745.0L429.1 1746.8L429.9 1748.6L430.6 1750.5L431.2 1752.4L431.7 1754.3L432.2 1756.3L432.7 1758.2L433.1 1760.2L433.5 1762.1L433.9 1764.1L434.3 1766.1L434.7 1768.0L435.0 1770.0L435.4 1772.0L435.7 1773.9L436.0 1775.9L436.3 1777.9L436.6 1779.9L436.9 1781.9L437.2 1783.8L437.5 1785.8L437.8 1787.8L438.0 1789.8L438.3 1791.8L438.6 1793.8L438.8 1795.7L439.1 1797.7L439.3 1799.7L439.6 1801.7L439.8 1803.7L440.1 1805.7L440.3 1807.7L440.5 1809.7L440.8 1811.6L441.0 1813.6L441.2 1815.6L441.4 1817.6L441.6 1819.6L441.9 1821.6L442.1 1823.6L442.3 1825.6L442.5 1827.6L442.7 1829.6L442.9 1831.5L443.1 1833.5L443.3 1835.5L443.5 1837.5L443.7 1839.5L443.9 1841.5L444.1 1843.5L444.3 1845.5L444.5 1847.5L444.7 1849.5L444.9 1851.5L445.1 1853.5L445.3 1855.5L445.5 1857.4L445.7 1859.4L445.8 1861.4L446.0 1863.4L446.2 1865.4L446.4 1867.4L446.6 1869.4L446.8 1871.4L446.9 1873.4L447.1 1875.4L447.3 1877.4L447.5 1879.4L447.6 1881.4L447.8 1883.4L448.0 1885.4L448.2 1887.4L448.3 1889.3L448.5 1891.3L448.7 1893.3L448.8 1895.3L449.0 1897.3L449.2 1899.3L449.4 1901.3L449.5 1903.3L449.7 1905.3L449.9 1907.3L450.0 1909.3L450.2 1911.3L450.4 1913.3L450.5 1915.3L450.7 1917.3L450.8 1919.3L451.0 1921.3L451.2 1923.3L451.3 1925.3L451.5 1927.3L451.7 1929.3L451.8 1931.2L452.0 1933.2L452.1 1935.2L452.3 1937.2L452.5 1939.2L452.6 1941.2L452.8 1943.2L452.9 1945.2L453.1 1947.2L453.3 1949.2L453.4 1951.2L453.6 1953.2L453.7 1955.2L453.9 1957.2L454.0 1959.2L454.2 1961.2L454.3 1963.2L454.5 1965.2L454.7 1967.2L454.8 1969.2L455.0 1971.2L455.1 1973.2L455.3 1975.2L455.4 1977.2L455.6 1979.1L455.7 1981.1L455.9 1983.1L456.0 1985.1L456.2 1987.1L456.3 1989.1L456.5 1991.1L456.7 1993.1L456.8 1995.1L457.0 1997.1L457.1 1999.1L457.3 2001.1L457.4 2003.1L457.6 2005.1L457.7 2007.1L457.9 2009.1L458.0 2011.1L458.2 2013.1L458.3 2015.1L458.5 2017.1L458.6 2019.1L458.8 2021.1L458.9 2023.1L459.1 2025.1L459.2 2027.1L459.4 2029.1L459.5 2031.1L459.7 2033.0L459.8 2035.0L460.0 2037.0L460.1 2039.0L460.3 2041.0L460.4 2043.0L460.6 2045.0L460.7 2047.0L460.9 2049.0L461.0 2051.0L461.2 2053.0L461.3 2055.0L461.5 2057.0L461.6 2059.0L461.8 2061.0L461.9 2063.0L462.1 2065.0L462.2 2067.0L462.4 2069.0L462.5 2071.0L462.7 2073.0L462.8 2075.0L463.0 2077.0L463.1 2079.0L463.3 2081.0L463.4 2083.0L463.6 2085.0L463.7 2087.0L463.9 2088.9L464.0 2090.9L464.2 2092.9L464.3 2094.9L464.5 2096.9L464.6 2098.9L464.8 2100.9L464.9 2102.9L465.1 2104.9L465.3 2106.9L465.4 2108.9L465.6 2110.9L465.7 2112.9L465.9 2114.9L466.0 2116.9L466.2 2118.9L466.3 2120.9L466.5 2122.9L466.6 2124.9L466.8 2126.9L466.9 2128.9L467.1 2130.9L467.2 2132.9L467.4 2134.9L467.6 2136.9L467.7 2138.9L467.9 2140.8L468.0 2142.8L468.2 2144.8L468.3 2146.8L468.5 2148.8L468.6 2150.8L468.8 2152.8L469.0 2154.8L469.1 2156.8L469.3 2158.8L469.4 2160.8L469.6 2162.8L469.7 2164.8L469.9 2166.8L470.1 2168.8L470.2 2170.8L470.4 2172.8L470.5 2174.8L470.7 2176.8L470.9 2178.8L471.0 2180.8L471.2 2182.8L471.4 2184.8L471.5 2186.8L471.7 2188.7L471.8 2190.7L472.0 2192.7L472.2 2194.7L472.3 2196.7L472.5 2198.7L472.7 2200.7L472.8 2202.7L473.0 2204.7L473.2 2206.7L473.3 2208.7L473.5 2210.7L473.7 2212.7L473.8 2214.7L474.0 2216.7L474.2 2218.7L474.3 2220.7L474.5 2222.7L474.7 2224.7L474.8 2226.7L475.0 2228.6L475.2 2230.6L475.4 2232.6L475.5 2234.6L475.7 2236.6L475.9 2238.6L476.0 2240.6L476.2 2242.6L476.4 2244.6L476.6 2246.6L476.7 2248.6L476.9 2250.6L477.1 2252.6L477.3 2254.6L477.5 2256.6L477.6 2258.6L477.8 2260.6L478.0 2262.6L478.2 2264.5L478.4 2266.5L478.6 2268.5L478.7 2270.5L478.9 2272.5L479.1 2274.5L479.3 2276.5L479.5 2278.5L479.7 2280.5L479.9 2282.5L480.0 2284.5L480.2 2286.5L480.4 2288.5L480.6 2290.5L480.8 2292.4L481.0 2294.4L481.2 2296.4L481.4 2298.4L481.6 2300.4L481.8 2302.4L482.0 2304.4L482.2 2306.4L482.4 2308.4L482.6 2310.4L482.8 2312.4L483.0 2314.4L483.2 2316.4L483.4 2318.3L483.6 2320.3L483.8 2322.3L484.0 2324.3L484.2 2326.3L484.4 2328.3L484.7 2330.3L484.9 2332.3L485.1 2334.3L485.3 2336.3L485.5 2338.3L485.7 2340.2L486.0 2342.2L486.2 2344.2L486.4 2346.2L486.6 2348.2L486.9 2350.2L487.1 2352.2L487.3 2354.2L487.6 2356.2L487.8 2358.1L488.0 2360.1L488.3 2362.1L488.5 2364.1L488.7 2366.1L489.0 2368.1L489.2 2370.1L489.5 2372.1L489.7 2374.0L490.0 2376.0L490.2 2378.0L490.5 2380.0L490.7 2382.0L491.0 2384.0L491.2 2386.0L491.5 2387.9L491.8 2389.9L492.0 2391.9L492.3 2393.9L492.6 2395.9L492.8 2397.9L493.1 2399.8L493.4 2401.8L493.7 2403.8L494.0 2405.8L494.3 2407.8L494.5 2409.8L494.8 2411.7L495.1 2413.7L495.4 2415.7L495.7 2417.7L496.1 2419.7L496.4 2421.6L496.7 2423.6L497.0 2425.6L497.3 2427.6L497.6 2429.5L498.0 2431.5L498.3 2433.5L498.7 2435.5L499.0 2437.4L499.3 2439.4L499.7 2441.4L500.1 2443.3L500.4 2445.3L500.8 2447.3L501.2 2449.2L501.5 2451.2L501.9 2453.2L502.3 2455.1L502.7 2457.1L503.1 2459.1L503.5 2461.0L504.0 2463.0L504.4 2464.9L504.8 2466.9L505.3 2468.8L505.7 2470.8L506.2 2472.7L506.7 2474.7L507.1 2476.6L507.6 2478.6L508.1 2480.5L508.7 2482.4L509.2 2484.4L509.7 2486.3L510.3 2488.2L510.9 2490.1L511.4 2492.1L512.1 2494.0L512.7 2495.9L513.3 2497.8L514.0 2499.7L514.6 2501.5L515.3 2503.4L516.1 2505.3L516.8 2507.1L517.6 2509.0L518.4 2510.8L519.2 2512.6L520.1 2514.4L521.0 2516.2L521.9 2518.0L522.9 2519.7L523.9 2521.5L525.0 2523.2L526.1 2524.8L527.3 2526.4L528.5 2528.0L529.8 2529.6L531.1 2531.1L532.5 2532.5L534.0 2533.8L535.5 2535.1L537.1 2536.4L538.7 2537.5L540.4 2538.6L542.2 2539.6L544.0 2540.5L545.8 2541.3L547.6 2542.1L549.5 2542.8L551.4 2543.4L553.3 2544.0L555.3 2544.5L557.2 2545.0L559.2 2545.4L561.1 2545.8L563.1 2546.1L565.1 2546.4L567.0 2546.7L569.0 2547.0L571.0 2547.3L573.0 2547.5L575.0 2547.7L577.0 2547.9L579.0 2548.1L581.0 2548.3L583.0 2548.5L585.0 2548.7L587.0 2548.8L589.0 2549.0L590.9 2549.1L592.9 2549.3L594.9 2549.4L596.9 2549.5L598.9 2549.7L600.9 2549.8L602.9 2549.9L604.9 2550.0L606.9 2550.1L608.9 2550.2L610.9 2550.3L612.9 2550.4L614.9 2550.5L616.9 2550.6L618.9 2550.7L620.9 2550.8L622.9 2550.9L624.9 2551.0L626.9 2551.1L628.9 2551.1L630.9 2551.2L632.9 2551.3L634.9 2551.4L636.9 2551.4L638.9 2551.5L640.9 2551.6L642.9 2551.6L644.9 2551.7L646.9 2551.8L648.9 2551.8L650.9 2551.9L652.9 2551.9L654.9 2552.0L656.9 2552.0L658.9 2552.1L660.9 2552.1L663.0 2552.2L665.0 2552.2L667.0 2552.3L669.0 2552.3L671.0 2552.4L673.0 2552.4L675.0 2552.5L677.0 2552.5L679.0 2552.6L681.0 2552.6L683.0 2552.6L685.0 2552.7L687.0 2552.7L689.0 2552.8L691.0 2552.8L693.0 2552.8L695.0 2552.9L697.0 2552.9L699.0 2552.9L701.0 2553.0L703.0 2553.0L705.0 2553.0L707.0 2553.1L709.0 2553.1L711.0 2553.1L713.0 2553.1L715.0 2553.2L717.0 2553.2L719.0 2553.2L721.0 2553.3L723.0 2553.3L725.0 2553.3L727.0 2553.3L729.0 2553.4L731.0 2553.4L733.0 2553.4L735.0 2553.4L737.0 2553.5L739.0 2553.5L741.0 2553.5L743.0 2553.5L745.0 2553.5L747.0 2553.6L749.0 2553.6L751.0 2553.6L753.0 2553.6L755.0 2553.6L757.0 2553.7L759.0 2553.7L761.0 2553.7L763.0 2553.7L765.0 2553.7L767.0 2553.8L769.0 2553.8L771.0 2553.8L773.0 2553.8L775.1 2553.8L777.1 2553.8L779.1 2553.9L781.1 2553.9L783.1 2553.9L785.1 2553.9L787.1 2553.9L789.1 2553.9L791.1 2553.9L793.1 2554.0L795.1 2554.0L797.1 2554.0L799.1 2554.0L801.1 2554.0L803.1 2554.0L805.1 2554.0L807.1 2554.0L809.1 2554.1L811.1 2554.1L813.1 2554.1L815.1 2554.1L817.1 2554.1L819.1 2554.1L821.1 2554.1L823.1 2554.1L825.1 2554.2L827.1 2554.2L829.1 2554.2L831.1 2554.2L833.1 2554.2L835.1 2554.2L837.1 2554.2L839.1 2554.2L841.1 2554.2L843.1 2554.2L845.1 2554.3L847.1 2554.3L849.1 2554.3L851.1 2554.3L853.1 2554.3L855.1 2554.3L857.1 2554.3L859.1 2554.3L861.1 2554.3L863.1 2554.3L865.1 2554.3L867.1 2554.3L869.1 2554.4L871.1 2554.4L873.2 2554.4L875.2 2554.4L877.2 2554.4L879.2 2554.4L881.2 2554.4L883.2 2554.4L885.2 2554.4L887.2 2554.4L889.2 2554.4L891.2 2554.4L893.2 2554.4L895.2 2554.5L897.2 2554.5L899.2 2554.5L901.2 2554.5L903.2 2554.5L905.2 2554.5L907.2 2554.5L909.2 2554.5L911.2 2554.5L913.2 2554.5L915.2 2554.5L917.2 2554.5L919.2 2554.5L921.2 2554.5L923.2 2554.5L925.2 2554.5L927.2 2554.6L929.2 2554.6L931.2 2554.6L933.2 2554.6L935.2 2554.6L937.2 2554.6L939.2 2554.6L941.2 2554.6L943.2 2554.6L945.2 2554.6L947.2 2554.6L949.2 2554.6L951.2 2554.6L953.2 2554.6L955.2 2554.6L957.2 2554.6L959.2 2554.6L961.2 2554.6L963.2 2554.6L965.2 2554.6L967.2 2554.6L969.2 2554.7" fill="none" stroke="#000" stroke-width="3.6" stroke-linejoin="round" stroke-linecap="butt" stroke-dasharray="17.5 13.5" stroke-dashoffset="10.9" clip-path="url(#cc)"/>
<path d="M345.5 2554.8L347.5 2554.6L349.5 2554.5L351.4 2554.3L353.4 2554.1L355.4 2553.9L357.4 2553.6L359.4 2553.2L361.4 2552.8L363.3 2552.4L365.2 2551.8L367.1 2551.2L369.0 2550.5L370.9 2549.7L372.7 2548.8L374.4 2547.8L376.1 2546.8L377.7 2545.6L379.3 2544.4L380.8 2543.0L382.3 2541.7L383.7 2540.2L385.0 2538.7L386.2 2537.2L387.5 2535.6L388.6 2533.9L389.7 2532.3L390.8 2530.6L391.8 2528.8L392.8 2527.1L393.8 2525.3L394.7 2523.6L395.6 2521.8L396.5 2520.0L397.3 2518.1L398.1 2516.3L398.9 2514.4L399.6 2512.6L400.4 2510.7L401.1 2508.9L401.8 2507.0L402.5 2505.1L403.2 2503.2L403.8 2501.3L404.5 2499.4L405.1 2497.5L405.7 2495.6L406.3 2493.7L406.9 2491.8L407.5 2489.9L408.0 2487.9L408.6 2486.0L409.2 2484.1L409.7 2482.1L410.2 2480.2L410.8 2478.3L411.3 2476.3L411.8 2474.4L412.3 2472.5L412.8 2470.5L413.3 2468.6L413.8 2466.6L414.2 2464.7L414.7 2462.7L415.2 2460.8L415.7 2458.8L416.1 2456.9L416.6 2454.9L417.0 2453.0L417.5 2451.0L417.9 2449.1L418.4 2447.1L418.8 2445.2L419.2 2443.2L419.7 2441.2L420.1 2439.3L420.5 2437.3L420.9 2435.4L421.3 2433.4L421.8 2431.4L422.2 2429.5L422.6 2427.5L423.0 2425.6L423.4 2423.6L423.8 2421.6L424.2 2419.7L424.6 2417.7L425.0 2415.7L425.4 2413.8L425.8 2411.8L426.2 2409.8L426.6 2407.9L427.0 2405.9L427.3 2403.9L427.7 2402.0L428.1 2400.0L428.5 2398.0L428.9 2396.1L429.3 2394.1L429.7 2392.1L430.1 2390.2L430.4 2388.2L430.8 2386.2L431.2 2384.3L431.6 2382.3L432.0 2380.3L432.4 2378.4L432.8 2376.4L433.1 2374.4L433.5 2372.5L433.9 2370.5L434.3 2368.5L434.7 2366.6L435.1 2364.6L435.5 2362.6L435.9 2360.7L436.2 2358.7L436.6 2356.7L437.0 2354.8L437.4 2352.8L437.8 2350.8L438.2 2348.9L438.6 2346.9L439.0 2344.9L439.5 2343.0L439.9 2341.0L440.3 2339.1L440.7 2337.1L441.1 2335.1L441.5 2333.2L442.0 2331.2L442.4 2329.3L442.8 2327.3L443.3 2325.3L443.7 2323.4L444.2 2321.4L444.6 2319.5L445.1 2317.5L445.6 2315.6L446.0 2313.6L446.5 2311.7L447.0 2309.7L447.5 2307.8L448.0 2305.9L448.6 2303.9L449.1 2302.0L449.7 2300.1L450.2 2298.2L450.8 2296.2L451.4 2294.3L452.0 2292.4L452.7 2290.5L453.4 2288.6L454.1 2286.8L454.8 2284.9L455.6 2283.1L456.5 2281.2L457.4 2279.5L458.4 2277.7L459.6 2276.1L460.9 2274.6L462.4 2273.4L464.3 2272.7L466.3 2272.9L468.0 2273.9L469.4 2275.3L470.6 2276.9L471.7 2278.6L472.7 2280.4L473.6 2282.1L474.4 2284.0L475.2 2285.8L475.9 2287.7L476.6 2289.6L477.2 2291.5L477.9 2293.4L478.5 2295.3L479.1 2297.2L479.7 2299.1L480.2 2301.0L480.8 2303.0L481.3 2304.9L481.8 2306.8L482.3 2308.8L482.8 2310.7L483.3 2312.7L483.8 2314.6L484.3 2316.6L484.7 2318.5L485.2 2320.5L485.7 2322.4L486.1 2324.4L486.5 2326.3L487.0 2328.3L487.4 2330.2L487.8 2332.2L488.3 2334.1L488.7 2336.1L489.1 2338.1L489.5 2340.0L489.9 2342.0L490.4 2344.0L490.8 2345.9L491.2 2347.9L491.6 2349.8L492.0 2351.8L492.4 2353.8L492.8 2355.7L493.2 2357.7L493.5 2359.7L493.9 2361.6L494.3 2363.6L494.7 2365.6L495.1 2367.5L495.5 2369.5L495.9 2371.5L496.3 2373.4L496.7 2375.4L497.0 2377.4L497.4 2379.3L497.8 2381.3L498.2 2383.3L498.6 2385.2L499.0 2387.2L499.3 2389.2L499.7 2391.1L500.1 2393.1L500.5 2395.1L500.9 2397.0L501.3 2399.0L501.7 2401.0L502.1 2402.9L502.4 2404.9L502.8 2406.9L503.2 2408.8L503.6 2410.8L504.0 2412.8L504.4 2414.7L504.8 2416.7L505.2 2418.7L505.6 2420.6L506.0 2422.6L506.4 2424.6L506.8 2426.5L507.2 2428.5L507.6 2430.5L508.1 2432.4L508.5 2434.4L508.9 2436.3L509.3 2438.3L509.7 2440.3L510.2 2442.2L510.6 2444.2L511.0 2446.1L511.5 2448.1L511.9 2450.0L512.3 2452.0L512.8 2454.0L513.3 2455.9L513.7 2457.9L514.2 2459.8L514.6 2461.8L515.1 2463.7L515.6 2465.7L516.1 2467.6L516.6 2469.5L517.1 2471.5L517.6 2473.4L518.1 2475.4L518.6 2477.3L519.1 2479.2L519.6 2481.2L520.2 2483.1L520.7 2485.0L521.3 2487.0L521.8 2488.9L522.4 2490.8L523.0 2492.7L523.6 2494.6L524.2 2496.6L524.8 2498.5L525.5 2500.4L526.1 2502.3L526.8 2504.1L527.4 2506.0L528.1 2507.9L528.8 2509.8L529.6 2511.7L530.3 2513.5L531.1 2515.4L531.9 2517.2L532.7 2519.0L533.6 2520.9L534.4 2522.7L535.3 2524.4L536.3 2526.2L537.3 2528.0L538.3 2529.7L539.3 2531.4L540.4 2533.1L541.5 2534.7L542.7 2536.4L544.0 2537.9L545.3 2539.5L546.6 2540.9L548.1 2542.3L549.5 2543.7L551.1 2545.0L552.7 2546.2L554.3 2547.3L556.1 2548.3L557.8 2549.3L559.7 2550.1L561.5 2550.9L563.4 2551.5L565.3 2552.1L567.3 2552.6L569.2 2553.1L571.2 2553.4L573.2 2553.7L575.2 2554.0L577.1 2554.2L579.1 2554.4L581.1 2554.6L583.1 2554.7" fill="none" stroke="#000" stroke-width="3.6" stroke-linejoin="round" stroke-linecap="butt" stroke-dasharray="9 5" stroke-dashoffset="1.7" clip-path="url(#cc)"/>
<path d="M138.9 2554.0L141.0 2554.0L143.0 2553.9L145.0 2553.9L147.0 2553.9L149.0 2553.9L151.0 2553.9L153.0 2553.9L155.0 2553.9L157.0 2553.9L159.0 2553.8L161.0 2553.8L163.0 2553.8L165.0 2553.8L167.0 2553.8L169.0 2553.8L171.0 2553.7L173.0 2553.7L175.0 2553.7L177.0 2553.7L179.0 2553.7L181.0 2553.7L183.0 2553.6L185.1 2553.6L187.1 2553.6L189.1 2553.6L191.1 2553.6L193.1 2553.6L195.1 2553.5L197.1 2553.5L199.1 2553.5L201.1 2553.5L203.1 2553.5L205.1 2553.4L207.1 2553.4L209.1 2553.4L211.1 2553.4L213.1 2553.3L215.1 2553.3L217.1 2553.3L219.1 2553.3L221.1 2553.2L223.1 2553.2L225.1 2553.2L227.1 2553.2L229.1 2553.1L231.2 2553.1L233.2 2553.1L235.2 2553.1L237.2 2553.0L239.2 2553.0L241.2 2553.0L243.2 2552.9L245.2 2552.9L247.2 2552.9L249.2 2552.9L251.2 2552.8L253.2 2552.8L255.2 2552.8L257.2 2552.7L259.2 2552.7L261.2 2552.6L263.2 2552.6L265.2 2552.6L267.2 2552.5L269.2 2552.5L271.2 2552.5L273.2 2552.4L275.2 2552.4L277.2 2552.3L279.3 2552.3L281.3 2552.2L283.3 2552.2L285.3 2552.2L287.3 2552.1L289.3 2552.1L291.3 2552.0L293.3 2552.0L295.3 2551.9L297.3 2551.8L299.3 2551.8L301.3 2551.7L303.3 2551.7L305.3 2551.6L307.3 2551.6L309.3 2551.5L311.3 2551.4L313.3 2551.4L315.3 2551.3L317.3 2551.2L319.3 2551.1L321.3 2551.1L323.3 2551.0L325.3 2550.9L327.3 2550.8L329.3 2550.7L331.3 2550.6L333.3 2550.5L335.3 2550.4L337.3 2550.3L339.3 2550.2L341.3 2550.1L343.3 2550.0L345.3 2549.9L347.3 2549.7L349.3 2549.6L351.3 2549.4L353.3 2549.3L355.3 2549.1L357.3 2548.9L359.3 2548.8L361.3 2548.6L363.3 2548.3L365.3 2548.1L367.3 2547.9L369.3 2547.6L371.3 2547.3L373.3 2547.0L375.2 2546.7L377.2 2546.4L379.2 2546.0L381.2 2545.6L383.1 2545.2L385.1 2544.8L387.0 2544.3L389.0 2543.8L390.9 2543.3L392.8 2542.7L394.7 2542.1L396.6 2541.4L398.5 2540.7L400.4 2540.0L402.2 2539.2L404.0 2538.4L405.9 2537.6L407.6 2536.7L409.4 2535.7L411.2 2534.7L412.9 2533.7L414.6 2532.7L416.2 2531.5L417.9 2530.4L419.5 2529.2L421.1 2528.0L422.7 2526.7L424.2 2525.4L425.7 2524.1L427.2 2522.7L428.6 2521.4L430.0 2519.9L431.4 2518.5L432.8 2517.0L434.1 2515.5L435.4 2514.0L436.7 2512.5L438.0 2510.9L439.2 2509.4L440.5 2507.8L441.6 2506.2L442.8 2504.5L444.0 2502.9L445.1 2501.3L446.2 2499.6L447.3 2497.9L448.4 2496.2L449.5 2494.5L450.6 2492.8L451.6 2491.1L452.6 2489.4L453.6 2487.7L454.6 2485.9L455.6 2484.2L456.6 2482.4L457.5 2480.7L458.5 2478.9L459.4 2477.1L460.4 2475.4L461.3 2473.6L462.2 2471.8L463.1 2470.0L464.0 2468.2L464.9 2466.4L465.7 2464.6L466.6 2462.8L467.5 2461.0L468.3 2459.2L469.2 2457.4L470.0 2455.5L470.8 2453.7L471.7 2451.9L472.5 2450.1L473.3 2448.2L474.1 2446.4L474.9 2444.6L475.7 2442.7L476.5 2440.9L477.3 2439.1L478.1 2437.2L478.9 2435.4L479.7 2433.5L480.5 2431.7L481.3 2429.8L482.1 2428.0L482.9 2426.2L483.6 2424.3L484.4 2422.5L485.2 2420.6L486.0 2418.8L486.8 2416.9L487.5 2415.1L488.3 2413.2L489.1 2411.4L489.9 2409.5L490.6 2407.7L491.4 2405.8L492.2 2404.0L493.0 2402.1L493.8 2400.3L494.6 2398.5L495.4 2396.6L496.2 2394.8L497.0 2392.9L497.8 2391.1L498.6 2389.3L499.4 2387.4L500.2 2385.6L501.1 2383.8L501.9 2382.0L502.7 2380.2L503.6 2378.3L504.5 2376.5L505.3 2374.7L506.2 2372.9L507.1 2371.1L508.0 2369.4L509.0 2367.6L509.9 2365.8L510.9 2364.0L511.8 2362.3L512.8 2360.6L513.9 2358.8L514.9 2357.1L516.0 2355.5L517.1 2353.8L518.3 2352.2L519.5 2350.6L520.8 2349.0L522.1 2347.5L523.5 2346.1L524.9 2344.7L526.5 2343.4L528.1 2342.3L529.9 2341.3L531.8 2340.6L533.7 2340.1L535.7 2340.0L537.7 2340.2L539.6 2340.7L541.5 2341.5L543.2 2342.5L544.9 2343.7L546.4 2344.9L547.9 2346.3L549.3 2347.7L550.6 2349.2L551.9 2350.8L553.1 2352.3L554.3 2354.0L555.4 2355.6L556.5 2357.3L557.6 2359.0L558.7 2360.7L559.7 2362.4L560.7 2364.1L561.7 2365.9L562.6 2367.6L563.6 2369.4L564.5 2371.2L565.4 2373.0L566.3 2374.8L567.2 2376.6L568.1 2378.4L569.0 2380.2L569.9 2382.0L570.7 2383.8L571.6 2385.6L572.4 2387.4L573.2 2389.2L574.1 2391.1L574.9 2392.9L575.7 2394.7L576.5 2396.5L577.4 2398.4L578.2 2400.2L579.0 2402.0L579.8 2403.9L580.6 2405.7L581.4 2407.6L582.2 2409.4L583.0 2411.2L583.8 2413.1L584.6 2414.9L585.4 2416.8L586.2 2418.6L587.0 2420.4L587.7 2422.3L588.5 2424.1L589.3 2425.9L590.1 2427.8L590.9 2429.6L591.8 2431.5L592.6 2433.3L593.4 2435.1L594.2 2437.0L595.0 2438.8L595.8 2440.6L596.6 2442.5L597.5 2444.3L598.3 2446.1L599.1 2447.9L600.0 2449.7L600.8 2451.6L601.6 2453.4L602.5 2455.2L603.4 2457.0L604.2 2458.8L605.1 2460.6L606.0 2462.4L606.9 2464.2L607.8 2466.0L608.7 2467.8L609.6 2469.6L610.5 2471.4L611.4 2473.2L612.3 2474.9L613.3 2476.7L614.2 2478.5L615.2 2480.2L616.2 2482.0L617.2 2483.7L618.2 2485.4L619.2 2487.2L620.2 2488.9L621.3 2490.6L622.3 2492.3L623.4 2494.0L624.5 2495.7L625.6 2497.4L626.7 2499.0L627.8 2500.7L629.0 2502.3L630.2 2503.9L631.4 2505.5L632.6 2507.1L633.8 2508.7L635.1 2510.3L636.3 2511.8L637.6 2513.3L639.0 2514.9L640.3 2516.3L641.7 2517.8L643.1 2519.2L644.5 2520.6L646.0 2522.0L647.4 2523.4L648.9 2524.7L650.5 2526.0L652.0 2527.3L653.6 2528.5L655.2 2529.7L656.9 2530.8L658.5 2531.9L660.2 2533.0L662.0 2534.0L663.7 2535.0L665.5 2536.0L667.2 2536.9L669.1 2537.8L670.9 2538.6L672.7 2539.4L674.6 2540.1L676.5 2540.8L678.3 2541.5L680.2 2542.1L682.2 2542.7L684.1 2543.3L686.0 2543.8L688.0 2544.3L689.9 2544.8L691.9 2545.2L693.8 2545.6L695.8 2546.0L697.8 2546.3L699.8 2546.7L701.7 2547.0L703.7 2547.3L705.7 2547.5L707.7 2547.8L709.7 2548.0L711.7 2548.3L713.7 2548.5L715.7 2548.7L717.7 2548.9L719.7 2549.0L721.6 2549.2L723.6 2549.4L725.6 2549.5L727.6 2549.7L729.6 2549.8L731.6 2549.9L733.6 2550.0L735.6 2550.2L737.7 2550.3L739.7 2550.4L741.7 2550.5L743.7 2550.6L745.7 2550.7L747.7 2550.7L749.7 2550.8L751.7 2550.9L753.7 2551.0L755.7 2551.1L757.7 2551.1L759.7 2551.2L761.7 2551.3L763.7 2551.4L765.7 2551.4L767.7 2551.5L769.7 2551.5L771.7 2551.6L773.7 2551.7L775.7 2551.7L777.7 2551.8L779.7 2551.8L781.7 2551.9L783.7 2551.9L785.7 2552.0L787.7 2552.0L789.7 2552.1L791.7 2552.1L793.7 2552.2L795.7 2552.2L797.7 2552.3L799.8 2552.3L801.8 2552.3L803.8 2552.4L805.8 2552.4L807.8 2552.5L809.8 2552.5L811.8 2552.5L813.8 2552.6L815.8 2552.6L817.8 2552.7L819.8 2552.7L821.8 2552.7L823.8 2552.8L825.8 2552.8L827.8 2552.8L829.8 2552.9L831.8 2552.9L833.8 2552.9L835.8 2552.9L837.8 2553.0L839.8 2553.0L841.8 2553.0L843.8 2553.1L845.8 2553.1L847.9 2553.1L849.9 2553.1L851.9 2553.2L853.9 2553.2L855.9 2553.2L857.9 2553.2L859.9 2553.3L861.9 2553.3L863.9 2553.3L865.9 2553.3L867.9 2553.4L869.9 2553.4L871.9 2553.4L873.9 2553.4L875.9 2553.4L877.9 2553.5L879.9 2553.5L881.9 2553.5L883.9 2553.5L885.9 2553.5L887.9 2553.6L889.9 2553.6L891.9 2553.6L894.0 2553.6L896.0 2553.6L898.0 2553.6L900.0 2553.7L902.0 2553.7L904.0 2553.7L906.0 2553.7L908.0 2553.7L910.0 2553.7L912.0 2553.8L914.0 2553.8L916.0 2553.8L918.0 2553.8L920.0 2553.8L922.0 2553.8L924.0 2553.8L926.0 2553.9L928.0 2553.9L930.0 2553.9L932.0 2553.9L934.0 2553.9L936.0 2553.9L938.0 2553.9L940.1 2554.0L942.1 2554.0L944.1 2554.0L946.1 2554.0L948.1 2554.0L950.1 2554.0L952.1 2554.0L954.1 2554.0L956.1 2554.0L958.1 2554.1L960.1 2554.1L962.1 2554.1L964.1 2554.1L966.1 2554.1L968.1 2554.1L970.1 2554.1L972.1 2554.1L974.1 2554.1L976.1 2554.2L978.1 2554.2L980.1 2554.2L982.1 2554.2L984.2 2554.2L986.2 2554.2L988.2 2554.2L990.2 2554.2L992.2 2554.2L994.2 2554.2L996.2 2554.2L998.2 2554.3L1000.2 2554.3L1002.2 2554.3L1004.2 2554.3L1006.2 2554.3L1008.2 2554.3L1010.2 2554.3L1012.2 2554.3L1014.2 2554.3L1016.2 2554.3L1018.2 2554.3L1020.2 2554.3L1022.2 2554.3L1024.2 2554.4L1026.2 2554.4L1028.2 2554.4L1030.3 2554.4L1032.3 2554.4L1034.3 2554.4L1036.3 2554.4L1038.3 2554.4L1040.3 2554.4L1042.3 2554.4L1044.3 2554.4L1046.3 2554.4L1048.3 2554.4L1050.3 2554.4L1052.3 2554.4L1054.3 2554.5L1056.3 2554.5L1058.3 2554.5L1060.3 2554.5L1062.3 2554.5L1064.3 2554.5L1066.3 2554.5L1068.3 2554.5L1070.3 2554.5L1072.3 2554.5L1074.4 2554.5L1076.4 2554.5L1078.4 2554.5L1080.4 2554.5L1082.4 2554.5L1084.4 2554.5L1086.4 2554.5L1088.4 2554.5L1090.4 2554.6L1092.4 2554.6L1094.4 2554.6L1096.4 2554.6L1098.4 2554.6L1100.4 2554.6L1102.4 2554.6L1104.4 2554.6L1106.4 2554.6L1108.4 2554.6L1110.4 2554.6L1112.4 2554.6L1114.4 2554.6L1116.4 2554.6L1118.5 2554.6" fill="none" stroke="#000" stroke-width="3.6" stroke-linejoin="round" stroke-linecap="butt" stroke-dasharray="17.5 13.5" stroke-dashoffset="24.6" clip-path="url(#cc)"/>
<path d="M239.3 2554.7L241.3 2554.6L243.3 2554.6L245.3 2554.6L247.4 2554.6L249.4 2554.6L251.4 2554.6L253.4 2554.6L255.4 2554.6L257.4 2554.6L259.4 2554.6L261.4 2554.6L263.4 2554.6L265.4 2554.6L267.4 2554.6L269.4 2554.6L271.4 2554.5L273.4 2554.5L275.5 2554.5L277.5 2554.5L279.5 2554.5L281.5 2554.5L283.5 2554.5L285.5 2554.5L287.5 2554.5L289.5 2554.5L291.5 2554.5L293.5 2554.5L295.5 2554.4L297.5 2554.4L299.5 2554.4L301.6 2554.4L303.6 2554.4L305.6 2554.4L307.6 2554.4L309.6 2554.4L311.6 2554.4L313.6 2554.3L315.6 2554.3L317.6 2554.3L319.6 2554.3L321.6 2554.3L323.6 2554.3L325.6 2554.3L327.6 2554.2L329.7 2554.2L331.7 2554.2L333.7 2554.2L335.7 2554.2L337.7 2554.2L339.7 2554.1L341.7 2554.1L343.7 2554.1L345.7 2554.1L347.7 2554.0L349.7 2554.0L351.7 2554.0L353.7 2554.0L355.8 2553.9L357.8 2553.9L359.8 2553.9L361.8 2553.8L363.8 2553.8L365.8 2553.8L367.8 2553.7L369.8 2553.7L371.8 2553.6L373.8 2553.6L375.8 2553.6L377.8 2553.5L379.8 2553.4L381.8 2553.4L383.8 2553.3L385.9 2553.3L387.9 2553.2L389.9 2553.1L391.9 2553.1L393.9 2553.0L395.9 2552.9L397.9 2552.8L399.9 2552.7L401.9 2552.6L403.9 2552.5L405.9 2552.4L407.9 2552.3L409.9 2552.2L411.9 2552.0L413.9 2551.9L415.9 2551.8L417.9 2551.6L419.9 2551.4L421.9 2551.3L423.9 2551.1L425.9 2550.9L427.9 2550.7L429.9 2550.5L431.9 2550.3L433.9 2550.1L435.9 2549.9L437.9 2549.6L439.9 2549.4L441.9 2549.1L443.9 2548.8L445.9 2548.5L447.8 2548.2L449.8 2547.9L451.8 2547.5L453.8 2547.2L455.8 2546.8L457.7 2546.5L459.7 2546.1L461.7 2545.7L463.6 2545.2L465.6 2544.8L467.5 2544.3L469.5 2543.9L471.4 2543.4L473.4 2542.9L475.3 2542.4L477.3 2541.8L479.2 2541.3L481.1 2540.7L483.0 2540.1L484.9 2539.5L486.9 2538.9L488.8 2538.3L490.7 2537.6L492.5 2536.9L494.4 2536.3L496.3 2535.6L498.2 2534.8L500.1 2534.1L501.9 2533.4L503.8 2532.6L505.6 2531.8L507.5 2531.0L509.3 2530.2L511.1 2529.4L513.0 2528.6L514.8 2527.7L516.6 2526.9L518.4 2526.0L520.2 2525.1L522.0 2524.2L523.8 2523.3L525.6 2522.4L527.4 2521.5L529.2 2520.6L531.0 2519.7L532.7 2518.7L534.5 2517.8L536.3 2516.8L538.0 2515.9L539.8 2514.9L541.6 2513.9L543.3 2513.0L545.1 2512.0L546.8 2511.0L548.6 2510.0L550.3 2509.0L552.1 2508.1L553.8 2507.1L555.6 2506.1L557.3 2505.1L559.1 2504.2L560.8 2503.2L562.6 2502.2L564.4 2501.3L566.1 2500.3L567.9 2499.4L569.7 2498.4L571.5 2497.5L573.2 2496.6L575.0 2495.7L576.8 2494.8L578.6 2493.9L580.4 2493.0L582.3 2492.2L584.1 2491.3L585.9 2490.5L587.8 2489.8L589.6 2489.0L591.5 2488.2L593.4 2487.5L595.3 2486.8L597.2 2486.2L599.1 2485.6L601.0 2485.0L602.9 2484.4L604.9 2483.9L606.8 2483.4L608.8 2483.0L610.7 2482.6L612.7 2482.3L614.7 2482.0L616.7 2481.7L618.7 2481.5L620.7 2481.4L622.7 2481.3L624.7 2481.2L626.7 2481.2L628.7 2481.3L630.7 2481.3L632.7 2481.4L634.7 2481.6L636.7 2481.8L638.7 2482.0L640.7 2482.3L642.7 2482.6L644.7 2482.9L646.6 2483.3L648.6 2483.6L650.6 2484.1L652.5 2484.5L654.5 2485.0L656.4 2485.5L658.4 2486.0L660.3 2486.6L662.2 2487.2L664.1 2487.8L666.0 2488.4L667.9 2489.0L669.8 2489.7L671.7 2490.4L673.6 2491.1L675.5 2491.8L677.4 2492.5L679.2 2493.3L681.1 2494.0L682.9 2494.8L684.8 2495.6L686.6 2496.4L688.5 2497.2L690.3 2498.0L692.1 2498.8L694.0 2499.6L695.8 2500.4L697.6 2501.3L699.4 2502.1L701.3 2503.0L703.1 2503.8L704.9 2504.7L706.7 2505.5L708.5 2506.4L710.3 2507.2L712.2 2508.1L714.0 2508.9L715.8 2509.8L717.6 2510.7L719.4 2511.5L721.2 2512.4L723.0 2513.2L724.9 2514.1L726.7 2514.9L728.5 2515.8L730.3 2516.6L732.2 2517.5L734.0 2518.3L735.8 2519.1L737.6 2519.9L739.5 2520.8L741.3 2521.6L743.2 2522.4L745.0 2523.2L746.8 2523.9L748.7 2524.7L750.6 2525.5L752.4 2526.3L754.3 2527.0L756.1 2527.8L758.0 2528.5L759.9 2529.2L761.8 2529.9L763.6 2530.6L765.5 2531.3L767.4 2532.0L769.3 2532.7L771.2 2533.3L773.1 2534.0L775.0 2534.6L776.9 2535.2L778.8 2535.9L780.7 2536.5L782.7 2537.0L784.6 2537.6L786.5 2538.2L788.4 2538.7L790.4 2539.3L792.3 2539.8L794.2 2540.3L796.2 2540.8L798.1 2541.3L800.1 2541.8L802.0 2542.2L804.0 2542.7L806.0 2543.1L807.9 2543.5L809.9 2544.0L811.8 2544.4L813.8 2544.7L815.8 2545.1L817.8 2545.5L819.7 2545.8L821.7 2546.2L823.7 2546.5L825.7 2546.8L827.7 2547.1L829.6 2547.4L831.6 2547.7L833.6 2548.0L835.6 2548.3L837.6 2548.5L839.6 2548.8L841.6 2549.0L843.6 2549.3L845.6 2549.5L847.6 2549.7L849.6 2549.9L851.6 2550.1L853.6 2550.3L855.6 2550.5L857.6 2550.6L859.6 2550.8L861.6 2551.0L863.6 2551.1L865.6 2551.3L867.6 2551.4L869.6 2551.6L871.6 2551.7L873.6 2551.8L875.6 2551.9L877.6 2552.0L879.6 2552.2L881.6 2552.3L883.6 2552.4L885.6 2552.5L887.6 2552.5L889.6 2552.6L891.6 2552.7L893.6 2552.8L895.6 2552.9L897.6 2552.9L899.7 2553.0L901.7 2553.1L903.7 2553.1L905.7 2553.2L907.7 2553.3L909.7 2553.3L911.7 2553.4L913.7 2553.4L915.7 2553.5L917.7 2553.5L919.7 2553.5L921.7 2553.6L923.7 2553.6L925.7 2553.7L927.7 2553.7L929.8 2553.7L931.8 2553.8L933.8 2553.8L935.8 2553.8L937.8 2553.9L939.8 2553.9L941.8 2553.9L943.8 2553.9L945.8 2554.0L947.8 2554.0L949.8 2554.0L951.8 2554.0L953.8 2554.1L955.8 2554.1L957.9 2554.1L959.9 2554.1L961.9 2554.1L963.9 2554.1L965.9 2554.2L967.9 2554.2L969.9 2554.2L971.9 2554.2L973.9 2554.2L975.9 2554.2L977.9 2554.3L979.9 2554.3L981.9 2554.3L984.0 2554.3L986.0 2554.3L988.0 2554.3L990.0 2554.3L992.0 2554.3L994.0 2554.3L996.0 2554.4L998.0 2554.4L1000.0 2554.4L1002.0 2554.4L1004.0 2554.4L1006.0 2554.4L1008.0 2554.4L1010.0 2554.4L1012.1 2554.4L1014.1 2554.4L1016.1 2554.4L1018.1 2554.5L1020.1 2554.5L1022.1 2554.5L1024.1 2554.5L1026.1 2554.5L1028.1 2554.5L1030.1 2554.5L1032.1 2554.5L1034.1 2554.5L1036.1 2554.5L1038.2 2554.5L1040.2 2554.5L1042.2 2554.5L1044.2 2554.6L1046.2 2554.6L1048.2 2554.6L1050.2 2554.6L1052.2 2554.6L1054.2 2554.6L1056.2 2554.6L1058.2 2554.6L1060.2 2554.6L1062.2 2554.6L1064.2 2554.6L1066.3 2554.6L1068.3 2554.6L1070.3 2554.6L1072.3 2554.6L1074.3 2554.6L1076.3 2554.6L1078.3 2554.6L1080.3 2554.7" fill="none" stroke="#000" stroke-width="3.6" stroke-linejoin="round" stroke-linecap="butt" stroke-dasharray="9 6" stroke-dashoffset="10.0" clip-path="url(#cc)"/>
<path d="M448.1 2554.7L450.1 2554.6L452.1 2554.6L454.1 2554.5L456.1 2554.5L458.2 2554.4L460.2 2554.4L462.2 2554.3L464.2 2554.3L466.2 2554.2L468.2 2554.1L470.2 2554.1L472.2 2554.0L474.2 2553.9L476.2 2553.8L478.2 2553.7L480.2 2553.6L482.2 2553.5L484.2 2553.4L486.2 2553.3L488.2 2553.2L490.2 2553.1L492.3 2553.0L494.3 2552.9L496.3 2552.7L498.3 2552.6L500.3 2552.5L502.3 2552.3L504.3 2552.1L506.3 2552.0L508.3 2551.8L510.3 2551.6L512.3 2551.5L514.3 2551.3L516.3 2551.1L518.3 2550.9L520.3 2550.6L522.3 2550.4L524.2 2550.2L526.2 2550.0L528.2 2549.7L530.2 2549.5L532.2 2549.2L534.2 2548.9L536.2 2548.6L538.2 2548.3L540.2 2548.0L542.1 2547.7L544.1 2547.4L546.1 2547.1L548.1 2546.8L550.1 2546.4L552.0 2546.1L554.0 2545.7L556.0 2545.3L558.0 2545.0L559.9 2544.6L561.9 2544.2L563.9 2543.8L565.8 2543.4L567.8 2542.9L569.8 2542.5L571.7 2542.1L573.7 2541.6L575.6 2541.2L577.6 2540.7L579.5 2540.3L581.5 2539.8L583.4 2539.3L585.4 2538.8L587.3 2538.3L589.3 2537.8L591.2 2537.3L593.2 2536.8L595.1 2536.3L597.0 2535.8L599.0 2535.3L600.9 2534.7L602.9 2534.2L604.8 2533.7L606.7 2533.1L608.7 2532.6L610.6 2532.1L612.5 2531.5L614.5 2531.0L616.4 2530.4L618.3 2529.9L620.3 2529.3L622.2 2528.8L624.1 2528.3L626.1 2527.7L628.0 2527.2L629.9 2526.7L631.9 2526.1L633.8 2525.6L635.7 2525.1L637.7 2524.6L639.6 2524.1L641.6 2523.6L643.5 2523.1L645.5 2522.6L647.4 2522.1L649.4 2521.6L651.3 2521.2L653.3 2520.7L655.2 2520.3L657.2 2519.9L659.2 2519.5L661.1 2519.1L663.1 2518.7L665.1 2518.3L667.1 2517.9L669.0 2517.6L671.0 2517.3L673.0 2517.0L675.0 2516.7L677.0 2516.4L679.0 2516.1L681.0 2515.9L682.9 2515.7L684.9 2515.4L686.9 2515.3L688.9 2515.1L690.9 2514.9L692.9 2514.8L695.0 2514.7L697.0 2514.6L699.0 2514.6L701.0 2514.5L703.0 2514.5L705.0 2514.5L707.0 2514.5L709.0 2514.6L711.0 2514.6L713.0 2514.7L715.0 2514.8L717.0 2514.9L719.0 2515.1L721.0 2515.3L723.0 2515.4L725.0 2515.6L727.0 2515.9L729.0 2516.1L731.0 2516.4L733.0 2516.7L735.0 2516.9L737.0 2517.3L738.9 2517.6L740.9 2517.9L742.9 2518.3L744.9 2518.7L746.8 2519.1L748.8 2519.5L750.8 2519.9L752.7 2520.3L754.7 2520.7L756.6 2521.2L758.6 2521.6L760.6 2522.1L762.5 2522.6L764.5 2523.1L766.4 2523.6L768.3 2524.1L770.3 2524.6L772.2 2525.1L774.2 2525.6L776.1 2526.1L778.0 2526.6L780.0 2527.2L781.9 2527.7L783.8 2528.3L785.8 2528.8L787.7 2529.3L789.6 2529.9L791.6 2530.4L793.5 2531.0L795.4 2531.5L797.4 2532.0L799.3 2532.6L801.2 2533.1L803.2 2533.7L805.1 2534.2L807.1 2534.7L809.0 2535.2L810.9 2535.8L812.9 2536.3L814.8 2536.8L816.7 2537.3L818.7 2537.8L820.6 2538.3L822.6 2538.8L824.5 2539.3L826.5 2539.8L828.4 2540.3L830.4 2540.7L832.3 2541.2L834.3 2541.6L836.3 2542.1L838.2 2542.5L840.2 2542.9L842.1 2543.4L844.1 2543.8L846.1 2544.2L848.0 2544.6L850.0 2545.0L852.0 2545.3L854.0 2545.7L855.9 2546.1L857.9 2546.4L859.9 2546.8L861.9 2547.1L863.8 2547.4L865.8 2547.7L867.8 2548.0L869.8 2548.3L871.8 2548.6L873.8 2548.9L875.8 2549.2L877.7 2549.4L879.7 2549.7L881.7 2549.9L883.7 2550.2L885.7 2550.4L887.7 2550.6L889.7 2550.9L891.7 2551.1L893.7 2551.3L895.7 2551.5L897.7 2551.6L899.7 2551.8L901.7 2552.0L903.7 2552.1L905.7 2552.3L907.7 2552.5L909.7 2552.6L911.7 2552.7L913.7 2552.9L915.7 2553.0L917.7 2553.1L919.7 2553.2L921.7 2553.3L923.7 2553.4L925.7 2553.5L927.7 2553.6L929.8 2553.7L931.8 2553.8L933.8 2553.9L935.8 2554.0L937.8 2554.1L939.8 2554.1L941.8 2554.2L943.8 2554.3L945.8 2554.3L947.8 2554.4L949.8 2554.4L951.8 2554.5L953.8 2554.5L955.8 2554.6L957.8 2554.6L959.9 2554.7" fill="none" stroke="#000" stroke-width="3.6" stroke-linejoin="round" stroke-linecap="butt" stroke-dasharray="9 6" stroke-dashoffset="0.5" clip-path="url(#cc)"/>
<rect x="138.95" y="1522.55" width="978.1" height="1035.1" fill="none" stroke="#000" stroke-width="4.3"/>
<text x="157" y="1614.8" font-size="90.5" font-weight="bold" text-anchor="start" >C 1s</text>
<line x1="758.0" y1="1582.6" x2="820.1999999999999" y2="1582.6" stroke="#4472C4" stroke-width="9.2" stroke-linecap="round"/>
<line x1="758.0" y1="1740.1" x2="820.1999999999999" y2="1740.1" stroke="#ED7D31" stroke-width="9.2" stroke-linecap="round"/>
<text x="827.5" y="1599" font-size="51.0" font-weight="bold" text-anchor="start" >Without</text>
<text x="825.5" y="1658" font-size="51.0" font-weight="bold" text-anchor="start" >Immersion</text>
<text x="827.5" y="1756" font-size="51.0" font-weight="bold" text-anchor="start" >With</text>
<text x="825.5" y="1815.2" font-size="51.0" font-weight="bold" text-anchor="start" >Immersion</text>
<text transform="translate(96 2050.6) rotate(-90)" font-size="77.6" font-weight="bold" text-anchor="middle">Intensity (a.u.)</text>
<text x="139.2" y="2643.6" font-size="59" font-weight="bold" text-anchor="middle" >280</text>
<text x="465.1" y="2643.6" font-size="59" font-weight="bold" text-anchor="middle" >285</text>
<text x="791.2" y="2643.6" font-size="59" font-weight="bold" text-anchor="middle" >290</text>
<text x="1117.0" y="2643.6" font-size="59" font-weight="bold" text-anchor="middle" >295</text>
<text x="595.4" y="2752.8" font-size="77" font-weight="bold" text-anchor="middle" >Binding Energy (eV)</text>
<text x="477" y="1759.6" font-size="38" font-weight="bold" textLength="133" lengthAdjust="spacing">C-C sp<tspan dy="-12.5" font-size="24">2</tspan></text>
<text x="538.5" y="2194.6" font-size="38" font-weight="bold" textLength="133" lengthAdjust="spacing">C-C sp<tspan dy="-12.5" font-size="24">3</tspan></text>
<text x="590" y="2290.6" font-size="38" font-weight="bold" textLength="67" lengthAdjust="spacing">C-O</text>
<text x="650.5" y="2384.4" font-size="38" font-weight="bold" textLength="76" lengthAdjust="spacing">C=O</text>
<text x="749.5" y="2464.4" font-size="38" font-weight="bold" textLength="118" lengthAdjust="spacing">O=C-O</text>
<clipPath id="cd"><rect x="1388.6499999999999" y="1520.85" width="980.1" height="1038.8"/></clipPath>
<path d="M1390.7 2555.7L1392.7 2555.6L1394.7 2555.6L1396.7 2555.5L1398.7 2555.5L1400.7 2555.5L1402.7 2555.5L1404.7 2555.5L1406.7 2555.5L1408.7 2555.5L1410.7 2555.5L1412.8 2555.5L1414.8 2555.6L1416.8 2555.6L1418.8 2555.6L1420.8 2555.6L1422.8 2555.7L1424.8 2555.7L1426.8 2555.8L1428.8 2555.8L1430.8 2555.8L1432.8 2555.9L1434.8 2555.9L1436.8 2556.0L1438.8 2556.0L1440.8 2556.1L1442.8 2556.1L1444.8 2556.1L1446.8 2556.2L1448.8 2556.2L1450.8 2556.3L1452.8 2556.3L1454.9 2556.3L1456.9 2556.4L1458.9 2556.4L1460.9 2556.4L1462.9 2556.4L1464.9 2556.4L1466.9 2556.4L1468.9 2556.4L1470.9 2556.4L1472.9 2556.4L1474.9 2556.4L1476.9 2556.4L1478.9 2556.3L1480.9 2556.3L1482.9 2556.2L1484.9 2556.2L1486.9 2556.1L1488.9 2556.0L1490.9 2556.0L1492.9 2555.9L1494.9 2555.8L1496.9 2555.6L1498.9 2555.5L1500.9 2555.4L1502.9 2555.2L1504.9 2555.1L1506.9 2554.9L1508.9 2554.7L1510.9 2554.5L1512.9 2554.3L1514.9 2554.1L1516.9 2553.8L1518.9 2553.6L1520.9 2553.3L1522.9 2553.0L1524.9 2552.7L1526.8 2552.4L1528.8 2552.1L1530.8 2551.8L1532.8 2551.4L1534.7 2551.1L1536.7 2550.7L1538.7 2550.4L1540.7 2550.0L1542.6 2549.6L1544.6 2549.3L1546.6 2548.9L1548.5 2548.6L1550.5 2548.2L1552.5 2547.9L1554.5 2547.5L1556.5 2547.2L1558.4 2546.9L1560.4 2546.6L1562.4 2546.3L1564.4 2546.0L1566.4 2545.7L1568.3 2545.4L1570.3 2545.1L1572.3 2544.7L1574.3 2544.3L1576.2 2543.9L1578.2 2543.5L1580.1 2543.0L1582.1 2542.4L1584.0 2541.9L1585.9 2541.2L1587.8 2540.6L1589.7 2539.9L1591.5 2539.1L1593.4 2538.4L1595.2 2537.6L1597.0 2536.7L1598.8 2535.9L1600.6 2535.0L1602.4 2534.0L1604.2 2533.0L1605.9 2532.0L1607.6 2531.0L1609.3 2530.0L1611.0 2528.9L1612.7 2527.8L1614.3 2526.6L1616.0 2525.5L1617.6 2524.3L1619.2 2523.1L1620.8 2521.9L1622.3 2520.6L1623.9 2519.4L1625.4 2518.1L1627.0 2516.8L1628.5 2515.4L1630.0 2514.1L1631.4 2512.7L1632.9 2511.4L1634.3 2510.0L1635.8 2508.6L1637.2 2507.2L1638.6 2505.7L1640.0 2504.3L1641.3 2502.8L1642.7 2501.3L1644.1 2499.9L1645.4 2498.4L1646.7 2496.9L1648.0 2495.3L1649.3 2493.8L1650.6 2492.3L1651.9 2490.7L1653.1 2489.1L1654.4 2487.6L1655.6 2486.0L1656.8 2484.4L1658.1 2482.8L1659.3 2481.2L1660.4 2479.6L1661.6 2478.0L1662.8 2476.4L1664.0 2474.7L1665.1 2473.1L1666.3 2471.4L1667.4 2469.8L1668.5 2468.1L1669.6 2466.5L1670.7 2464.8L1671.8 2463.1L1672.9 2461.4L1674.0 2459.7L1675.1 2458.0L1676.1 2456.3L1677.2 2454.6L1678.2 2452.9L1679.3 2451.2L1680.3 2449.5L1681.3 2447.8L1682.4 2446.0L1683.4 2444.3L1684.4 2442.6L1685.4 2440.8L1686.3 2439.1L1687.3 2437.3L1688.3 2435.6L1689.3 2433.8L1690.2 2432.1L1691.2 2430.3L1692.1 2428.5L1693.1 2426.8L1694.0 2425.0L1694.9 2423.2L1695.9 2421.4L1696.8 2419.7L1697.7 2417.9L1698.6 2416.1L1699.5 2414.3L1700.4 2412.5L1701.3 2410.7L1702.2 2408.9L1703.1 2407.1L1704.0 2405.3L1704.9 2403.5L1705.7 2401.7L1706.6 2399.9L1707.5 2398.1L1708.3 2396.3L1709.2 2394.5L1710.0 2392.7L1710.9 2390.8L1711.7 2389.0L1712.6 2387.2L1713.4 2385.4L1714.3 2383.6L1715.1 2381.7L1715.9 2379.9L1716.8 2378.1L1717.6 2376.3L1718.4 2374.4L1719.2 2372.6L1720.0 2370.8L1720.9 2368.9L1721.7 2367.1L1722.5 2365.3L1723.3 2363.4L1724.1 2361.6L1724.9 2359.8L1725.7 2357.9L1726.5 2356.1L1727.3 2354.2L1728.1 2352.4L1728.9 2350.6L1729.7 2348.7L1730.4 2346.9L1731.2 2345.0L1732.0 2343.2L1732.8 2341.3L1733.6 2339.5L1734.3 2337.6L1735.1 2335.8L1735.9 2333.9L1736.7 2332.1L1737.4 2330.2L1738.2 2328.4L1739.0 2326.5L1739.7 2324.7L1740.5 2322.8L1741.2 2321.0L1742.0 2319.1L1742.8 2317.3L1743.5 2315.4L1744.3 2313.5L1745.0 2311.7L1745.8 2309.8L1746.5 2308.0L1747.3 2306.1L1748.0 2304.2L1748.8 2302.4L1749.5 2300.5L1750.3 2298.7L1751.0 2296.8L1751.7 2294.9L1752.5 2293.1L1753.2 2291.2L1754.0 2289.3L1754.7 2287.5L1755.4 2285.6L1756.2 2283.7L1756.9 2281.9L1757.7 2280.0L1758.4 2278.2L1759.1 2276.3L1759.9 2274.4L1760.6 2272.6L1761.3 2270.7L1762.0 2268.8L1762.8 2267.0L1763.5 2265.1L1764.2 2263.2L1765.0 2261.3L1765.7 2259.5L1766.4 2257.6L1767.1 2255.7L1767.9 2253.9L1768.6 2252.0L1769.3 2250.1L1770.0 2248.3L1770.8 2246.4L1771.5 2244.5L1772.2 2242.7L1772.9 2240.8L1773.7 2238.9L1774.4 2237.0L1775.1 2235.2L1775.8 2233.3L1776.5 2231.4L1777.3 2229.6L1778.0 2227.7L1778.7 2225.8L1779.4 2223.9L1780.1 2222.1L1780.9 2220.2L1781.6 2218.3L1782.3 2216.5L1783.0 2214.6L1783.7 2212.7L1784.5 2210.8L1785.2 2209.0L1785.9 2207.1L1786.6 2205.2L1787.4 2203.4L1788.1 2201.5L1788.8 2199.6L1789.5 2197.8L1790.3 2195.9L1791.0 2194.0L1791.7 2192.2L1792.5 2190.3L1793.2 2188.4L1793.9 2186.6L1794.7 2184.7L1795.4 2182.8L1796.1 2181.0L1796.9 2179.1L1797.6 2177.2L1798.4 2175.4L1799.1 2173.5L1799.9 2171.7L1800.7 2169.8L1801.4 2168.0L1802.2 2166.1L1803.0 2164.3L1803.7 2162.4L1804.5 2160.6L1805.3 2158.7L1806.1 2156.9L1806.9 2155.0L1807.7 2153.2L1808.5 2151.3L1809.3 2149.5L1810.1 2147.7L1810.9 2145.8L1811.7 2144.0L1812.6 2142.2L1813.4 2140.4L1814.2 2138.6L1815.1 2136.7L1815.9 2134.9L1816.8 2133.1L1817.7 2131.3L1818.6 2129.5L1819.5 2127.7L1820.4 2125.9L1821.3 2124.2L1822.2 2122.4L1823.2 2120.6L1824.1 2118.8L1825.1 2117.1L1826.1 2115.3L1827.1 2113.6L1828.1 2111.9L1829.1 2110.1L1830.2 2108.4L1831.2 2106.7L1832.3 2105.1L1833.4 2103.4L1834.6 2101.7L1835.7 2100.1L1836.9 2098.5L1838.2 2096.9L1839.4 2095.4L1840.7 2093.8L1842.1 2092.4L1843.5 2090.9L1844.9 2089.5L1846.4 2088.1L1847.9 2086.8L1849.5 2085.6L1851.1 2084.4L1852.8 2083.3L1854.5 2082.3L1856.3 2081.5L1858.2 2080.7L1860.1 2080.1L1862.0 2079.7L1864.0 2079.4L1866.0 2079.3L1868.0 2079.4L1870.0 2079.6L1872.0 2080.1L1873.9 2080.6L1875.8 2081.4L1877.6 2082.2L1879.3 2083.2L1881.0 2084.3L1882.6 2085.5L1884.2 2086.7L1885.7 2088.0L1887.2 2089.4L1888.7 2090.8L1890.0 2092.2L1891.4 2093.7L1892.7 2095.2L1894.0 2096.7L1895.2 2098.3L1896.4 2099.9L1897.6 2101.5L1898.8 2103.2L1899.9 2104.8L1901.0 2106.5L1902.1 2108.2L1903.2 2109.9L1904.3 2111.6L1905.3 2113.3L1906.3 2115.0L1907.3 2116.7L1908.3 2118.5L1909.3 2120.2L1910.2 2122.0L1911.2 2123.8L1912.1 2125.6L1913.0 2127.3L1913.9 2129.1L1914.8 2130.9L1915.7 2132.7L1916.6 2134.5L1917.4 2136.3L1918.3 2138.2L1919.1 2140.0L1919.9 2141.8L1920.8 2143.6L1921.6 2145.5L1922.4 2147.3L1923.2 2149.1L1924.0 2151.0L1924.8 2152.8L1925.6 2154.7L1926.3 2156.5L1927.1 2158.4L1927.9 2160.2L1928.6 2162.1L1929.4 2163.9L1930.1 2165.8L1930.8 2167.7L1931.6 2169.5L1932.3 2171.4L1933.0 2173.3L1933.8 2175.1L1934.5 2177.0L1935.2 2178.9L1935.9 2180.8L1936.6 2182.6L1937.3 2184.5L1938.0 2186.4L1938.7 2188.3L1939.4 2190.2L1940.1 2192.0L1940.8 2193.9L1941.5 2195.8L1942.1 2197.7L1942.8 2199.6L1943.5 2201.5L1944.2 2203.3L1944.9 2205.2L1945.5 2207.1L1946.2 2209.0L1946.9 2210.9L1947.5 2212.8L1948.2 2214.7L1948.9 2216.6L1949.5 2218.5L1950.2 2220.4L1950.9 2222.3L1951.5 2224.1L1952.2 2226.0L1952.9 2227.9L1953.5 2229.8L1954.2 2231.7L1954.8 2233.6L1955.5 2235.5L1956.1 2237.4L1956.8 2239.3L1957.5 2241.2L1958.1 2243.1L1958.8 2245.0L1959.4 2246.9L1960.1 2248.8L1960.7 2250.7L1961.4 2252.6L1962.1 2254.5L1962.7 2256.3L1963.4 2258.2L1964.0 2260.1L1964.7 2262.0L1965.3 2263.9L1966.0 2265.8L1966.7 2267.7L1967.3 2269.6L1968.0 2271.5L1968.7 2273.4L1969.3 2275.3L1970.0 2277.2L1970.6 2279.1L1971.3 2281.0L1972.0 2282.8L1972.6 2284.7L1973.3 2286.6L1974.0 2288.5L1974.7 2290.4L1975.3 2292.3L1976.0 2294.2L1976.7 2296.1L1977.3 2298.0L1978.0 2299.8L1978.7 2301.7L1979.4 2303.6L1980.1 2305.5L1980.7 2307.4L1981.4 2309.3L1982.1 2311.2L1982.8 2313.0L1983.5 2314.9L1984.2 2316.8L1984.9 2318.7L1985.6 2320.6L1986.3 2322.4L1987.0 2324.3L1987.7 2326.2L1988.4 2328.1L1989.1 2330.0L1989.8 2331.8L1990.5 2333.7L1991.2 2335.6L1991.9 2337.5L1992.6 2339.3L1993.4 2341.2L1994.1 2343.1L1994.8 2344.9L1995.6 2346.8L1996.3 2348.7L1997.0 2350.5L1997.8 2352.4L1998.5 2354.3L1999.3 2356.1L2000.0 2358.0L2000.8 2359.8L2001.5 2361.7L2002.3 2363.5L2003.1 2365.4L2003.8 2367.3L2004.6 2369.1L2005.4 2370.9L2006.2 2372.8L2007.0 2374.6L2007.7 2376.5L2008.5 2378.3L2009.4 2380.2L2010.2 2382.0L2011.0 2383.8L2011.8 2385.6L2012.6 2387.5L2013.5 2389.3L2014.3 2391.1L2015.1 2392.9L2016.0 2394.8L2016.8 2396.6L2017.7 2398.4L2018.6 2400.2L2019.5 2402.0L2020.4 2403.8L2021.2 2405.6L2022.1 2407.4L2023.1 2409.2L2024.0 2410.9L2024.9 2412.7L2025.8 2414.5L2026.8 2416.3L2027.7 2418.0L2028.7 2419.8L2029.7 2421.5L2030.7 2423.3L2031.7 2425.0L2032.7 2426.7L2033.7 2428.5L2034.7 2430.2L2035.8 2431.9L2036.8 2433.6L2037.9 2435.3L2039.0 2437.0L2040.1 2438.6L2041.2 2440.3L2042.4 2442.0L2043.5 2443.6L2044.7 2445.2L2045.9 2446.9L2047.0 2448.5L2048.3 2450.1L2049.5 2451.7L2050.7 2453.2L2052.0 2454.8L2053.2 2456.4L2054.5 2457.9L2055.8 2459.5L2057.1 2461.0L2058.4 2462.5L2059.7 2464.0L2061.0 2465.5L2062.4 2467.0L2063.7 2468.5L2065.1 2470.0L2066.5 2471.4L2067.9 2472.9L2069.3 2474.3L2070.7 2475.7L2072.1 2477.1L2073.6 2478.5L2075.0 2479.9L2076.5 2481.2L2078.0 2482.6L2079.5 2483.9L2081.0 2485.3L2082.5 2486.6L2084.0 2487.9L2085.6 2489.1L2087.1 2490.4L2088.7 2491.6L2090.3 2492.9L2091.9 2494.1L2093.5 2495.3L2095.1 2496.4L2096.8 2497.6L2098.4 2498.7L2100.1 2499.9L2101.7 2501.0L2103.4 2502.1L2105.1 2503.1L2106.8 2504.2L2108.5 2505.2L2110.3 2506.2L2112.0 2507.2L2113.8 2508.2L2115.5 2509.1L2117.3 2510.1L2119.1 2511.0L2120.9 2511.9L2122.7 2512.7L2124.5 2513.6L2126.3 2514.4L2128.2 2515.2L2130.0 2516.0L2131.9 2516.8L2133.7 2517.6L2135.6 2518.3L2137.5 2519.0L2139.3 2519.7L2141.2 2520.4L2143.1 2521.1L2145.0 2521.7L2146.9 2522.4L2148.8 2523.0L2150.7 2523.6L2152.6 2524.2L2154.6 2524.7L2156.5 2525.3L2158.4 2525.8L2160.4 2526.4L2162.3 2526.9L2164.2 2527.4L2166.2 2527.9L2168.1 2528.4L2170.1 2528.8L2172.0 2529.3L2174.0 2529.8L2175.9 2530.2L2177.9 2530.7L2179.8 2531.1L2181.8 2531.5L2183.8 2531.9L2185.7 2532.4L2187.7 2532.8L2189.6 2533.2L2191.6 2533.6L2193.6 2534.0L2195.5 2534.4L2197.5 2534.8L2199.5 2535.2L2201.4 2535.6L2203.4 2536.0L2205.4 2536.3L2207.3 2536.7L2209.3 2537.1L2211.3 2537.5L2213.3 2537.8L2215.2 2538.2L2217.2 2538.6L2219.2 2538.9L2221.1 2539.3L2223.1 2539.6L2225.1 2540.0L2227.1 2540.3L2229.0 2540.7L2231.0 2541.0L2233.0 2541.4L2235.0 2541.7L2236.9 2542.0L2238.9 2542.3L2240.9 2542.6L2242.9 2543.0L2244.9 2543.3L2246.9 2543.6L2248.8 2543.9L2250.8 2544.2L2252.8 2544.5L2254.8 2544.7L2256.8 2545.0L2258.8 2545.3L2260.7 2545.6L2262.7 2545.9L2264.7 2546.1L2266.7 2546.4L2268.7 2546.6L2270.7 2546.9L2272.7 2547.1L2274.7 2547.4L2276.7 2547.6L2278.6 2547.8L2280.6 2548.0L2282.6 2548.3L2284.6 2548.5L2286.6 2548.7L2288.6 2548.9L2290.6 2549.1L2292.6 2549.3L2294.6 2549.5L2296.6 2549.6L2298.6 2549.8L2300.6 2550.0L2302.6 2550.1L2304.6 2550.3L2306.6 2550.5L2308.6 2550.6L2310.6 2550.7L2312.6 2550.9L2314.6 2551.0L2316.6 2551.1L2318.6 2551.2L2320.6 2551.3L2322.6 2551.4L2324.6 2551.5L2326.6 2551.6L2328.6 2551.7L2330.6 2551.8L2332.6 2551.9L2334.6 2551.9L2336.6 2552.0L2338.6 2552.0L2340.6 2552.1L2342.6 2552.1L2344.6 2552.1L2346.7 2552.2L2348.7 2552.2L2350.7 2552.2L2352.7 2552.2L2354.7 2552.2L2356.7 2552.2L2358.7 2552.1L2360.7 2552.1L2362.7 2552.1L2364.7 2552.0L2366.7 2552.0" fill="none" stroke="#4472C4" stroke-width="10.5" stroke-linejoin="round" stroke-linecap="round" clip-path="url(#cd)"/>
<path d="M1390.7 2547.5L1392.7 2547.3L1394.7 2547.2L1396.7 2547.3L1398.7 2547.5L1400.7 2547.7L1402.7 2548.1L1404.6 2548.5L1406.6 2548.9L1408.5 2549.4L1410.5 2549.9L1412.4 2550.4L1414.3 2550.9L1416.3 2551.4L1418.2 2551.9L1420.2 2552.3L1422.1 2552.7L1424.1 2553.0L1426.1 2553.3L1428.1 2553.6L1430.1 2553.8L1432.1 2554.0L1434.1 2554.1L1436.1 2554.2L1438.1 2554.3L1440.1 2554.3L1442.1 2554.3L1444.1 2554.3L1446.1 2554.2L1448.1 2554.1L1450.1 2553.9L1452.1 2553.8L1454.1 2553.5L1456.1 2553.3L1458.0 2553.1L1460.0 2552.8L1462.0 2552.5L1464.0 2552.2L1466.0 2551.8L1467.9 2551.5L1469.9 2551.2L1471.9 2550.8L1473.8 2550.5L1475.8 2550.1L1477.8 2549.8L1479.8 2549.4L1481.7 2549.1L1483.7 2548.8L1485.7 2548.5L1487.7 2548.2L1489.7 2548.0L1491.7 2547.7L1493.7 2547.5L1495.7 2547.3L1497.6 2547.2L1499.6 2547.1L1501.6 2547.0L1503.7 2547.0L1505.7 2547.0L1507.7 2547.0L1509.7 2547.0L1511.7 2546.9L1513.7 2546.9L1515.7 2546.8L1517.7 2546.7L1519.7 2546.6L1521.7 2546.3L1523.6 2546.1L1525.6 2545.7L1527.6 2545.3L1529.5 2544.8L1531.4 2544.3L1533.4 2543.7L1535.3 2543.2L1537.2 2542.6L1539.1 2542.0L1541.0 2541.4L1543.0 2540.8L1544.9 2540.2L1546.8 2539.6L1548.7 2539.0L1550.6 2538.5L1552.5 2537.9L1554.4 2537.3L1556.4 2536.7L1558.3 2536.1L1560.2 2535.6L1562.1 2535.0L1564.0 2534.4L1565.9 2533.8L1567.9 2533.2L1569.8 2532.6L1571.7 2532.0L1573.6 2531.4L1575.5 2530.8L1577.4 2530.2L1579.3 2529.6L1581.2 2529.0L1583.1 2528.4L1585.0 2527.8L1586.9 2527.1L1588.8 2526.5L1590.7 2525.8L1592.6 2525.1L1594.5 2524.4L1596.3 2523.7L1598.2 2522.9L1600.0 2522.2L1601.9 2521.4L1603.7 2520.6L1605.5 2519.7L1607.4 2518.9L1609.1 2518.0L1610.9 2517.1L1612.7 2516.1L1614.5 2515.2L1616.2 2514.2L1617.9 2513.1L1619.6 2512.1L1621.3 2511.0L1623.0 2509.9L1624.6 2508.8L1626.3 2507.6L1627.9 2506.4L1629.5 2505.2L1631.0 2504.0L1632.6 2502.7L1634.1 2501.4L1635.7 2500.1L1637.1 2498.8L1638.6 2497.4L1640.1 2496.0L1641.5 2494.6L1642.9 2493.2L1644.3 2491.8L1645.7 2490.3L1647.0 2488.8L1648.3 2487.3L1649.6 2485.8L1650.9 2484.3L1652.2 2482.7L1653.4 2481.1L1654.6 2479.5L1655.8 2477.9L1657.0 2476.3L1658.2 2474.7L1659.3 2473.0L1660.4 2471.4L1661.5 2469.7L1662.6 2468.0L1663.7 2466.3L1664.8 2464.6L1665.8 2462.9L1666.8 2461.2L1667.9 2459.5L1668.8 2457.7L1669.8 2456.0L1670.8 2454.2L1671.8 2452.5L1672.7 2450.7L1673.6 2448.9L1674.5 2447.2L1675.5 2445.4L1676.4 2443.6L1677.3 2441.8L1678.1 2440.0L1679.0 2438.2L1679.9 2436.4L1680.7 2434.6L1681.6 2432.8L1682.4 2431.0L1683.3 2429.2L1684.1 2427.3L1685.0 2425.5L1685.8 2423.7L1686.6 2421.9L1687.4 2420.0L1688.2 2418.2L1689.1 2416.4L1689.9 2414.5L1690.7 2412.7L1691.5 2410.9L1692.3 2409.0L1693.1 2407.2L1693.8 2405.3L1694.6 2403.5L1695.4 2401.7L1696.2 2399.8L1697.0 2398.0L1697.8 2396.1L1698.5 2394.3L1699.3 2392.4L1700.1 2390.6L1700.9 2388.7L1701.7 2386.9L1702.4 2385.1L1703.2 2383.2L1704.0 2381.4L1704.7 2379.5L1705.5 2377.7L1706.3 2375.8L1707.1 2374.0L1707.8 2372.1L1708.6 2370.3L1709.4 2368.4L1710.2 2366.6L1710.9 2364.7L1711.7 2362.9L1712.5 2361.0L1713.3 2359.2L1714.0 2357.3L1714.8 2355.5L1715.6 2353.6L1716.3 2351.8L1717.1 2349.9L1717.9 2348.1L1718.7 2346.3L1719.4 2344.4L1720.2 2342.6L1721.0 2340.7L1721.8 2338.9L1722.5 2337.0L1723.3 2335.2L1724.1 2333.3L1724.8 2331.5L1725.6 2329.6L1726.4 2327.8L1727.1 2325.9L1727.9 2324.1L1728.7 2322.2L1729.4 2320.4L1730.2 2318.5L1731.0 2316.7L1731.7 2314.8L1732.5 2313.0L1733.3 2311.1L1734.0 2309.3L1734.8 2307.4L1735.5 2305.5L1736.3 2303.7L1737.1 2301.8L1737.8 2300.0L1738.6 2298.1L1739.3 2296.3L1740.1 2294.4L1740.8 2292.6L1741.6 2290.7L1742.4 2288.9L1743.1 2287.0L1743.9 2285.1L1744.6 2283.3L1745.4 2281.4L1746.1 2279.6L1746.8 2277.7L1747.6 2275.9L1748.3 2274.0L1749.1 2272.1L1749.8 2270.3L1750.6 2268.4L1751.3 2266.5L1752.0 2264.7L1752.8 2262.8L1753.5 2261.0L1754.2 2259.1L1755.0 2257.2L1755.7 2255.4L1756.4 2253.5L1757.2 2251.6L1757.9 2249.8L1758.6 2247.9L1759.3 2246.0L1760.1 2244.2L1760.8 2242.3L1761.5 2240.4L1762.2 2238.6L1762.9 2236.7L1763.7 2234.8L1764.4 2233.0L1765.1 2231.1L1765.8 2229.2L1766.5 2227.3L1767.3 2225.5L1768.0 2223.6L1768.7 2221.7L1769.4 2219.9L1770.1 2218.0L1770.8 2216.1L1771.5 2214.2L1772.3 2212.4L1773.0 2210.5L1773.7 2208.6L1774.4 2206.8L1775.1 2204.9L1775.8 2203.0L1776.6 2201.2L1777.3 2199.3L1778.0 2197.4L1778.7 2195.5L1779.4 2193.7L1780.2 2191.8L1780.9 2189.9L1781.6 2188.1L1782.3 2186.2L1783.1 2184.3L1783.8 2182.5L1784.5 2180.6L1785.3 2178.7L1786.0 2176.9L1786.7 2175.0L1787.5 2173.2L1788.2 2171.3L1789.0 2169.4L1789.7 2167.6L1790.4 2165.7L1791.2 2163.9L1791.9 2162.0L1792.7 2160.1L1793.5 2158.3L1794.2 2156.4L1795.0 2154.6L1795.7 2152.7L1796.5 2150.9L1797.3 2149.0L1798.1 2147.2L1798.9 2145.4L1799.6 2143.5L1800.4 2141.7L1801.2 2139.8L1802.0 2138.0L1802.8 2136.2L1803.6 2134.3L1804.4 2132.5L1805.3 2130.7L1806.1 2128.8L1806.9 2127.0L1807.7 2125.2L1808.6 2123.4L1809.4 2121.6L1810.3 2119.8L1811.2 2117.9L1812.0 2116.1L1812.9 2114.3L1813.8 2112.5L1814.7 2110.8L1815.6 2109.0L1816.5 2107.2L1817.4 2105.4L1818.4 2103.6L1819.3 2101.9L1820.3 2100.1L1821.2 2098.4L1822.2 2096.6L1823.2 2094.9L1824.2 2093.1L1825.2 2091.4L1826.3 2089.7L1827.3 2088.0L1828.4 2086.3L1829.5 2084.6L1830.6 2083.0L1831.8 2081.3L1832.9 2079.7L1834.1 2078.1L1835.3 2076.5L1836.6 2074.9L1837.9 2073.4L1839.2 2071.9L1840.5 2070.4L1841.9 2068.9L1843.3 2067.5L1844.8 2066.2L1846.3 2064.8L1847.8 2063.6L1849.4 2062.4L1851.1 2061.2L1852.8 2060.1L1854.5 2059.1L1856.3 2058.2L1858.1 2057.4L1860.0 2056.7L1861.9 2056.0L1863.8 2055.5L1865.8 2055.2L1867.8 2054.9L1869.8 2054.8L1871.8 2054.8L1873.8 2054.9L1875.7 2055.1L1877.7 2055.5L1879.7 2056.0L1881.6 2056.6L1883.5 2057.2L1885.3 2058.0L1887.1 2058.8L1888.9 2059.8L1890.7 2060.7L1892.3 2061.8L1894.0 2062.9L1895.6 2064.1L1897.2 2065.4L1898.7 2066.7L1900.2 2068.0L1901.7 2069.4L1903.1 2070.8L1904.5 2072.3L1905.8 2073.7L1907.1 2075.3L1908.4 2076.8L1909.6 2078.4L1910.8 2080.0L1912.0 2081.6L1913.2 2083.2L1914.3 2084.9L1915.4 2086.5L1916.5 2088.2L1917.6 2089.9L1918.6 2091.6L1919.6 2093.3L1920.6 2095.1L1921.6 2096.8L1922.6 2098.6L1923.5 2100.4L1924.4 2102.1L1925.4 2103.9L1926.3 2105.7L1927.1 2107.5L1928.0 2109.3L1928.9 2111.1L1929.7 2112.9L1930.5 2114.8L1931.3 2116.6L1932.1 2118.4L1932.9 2120.3L1933.7 2122.1L1934.5 2124.0L1935.2 2125.8L1936.0 2127.7L1936.7 2129.5L1937.4 2131.4L1938.2 2133.3L1938.9 2135.2L1939.6 2137.0L1940.3 2138.9L1940.9 2140.8L1941.6 2142.7L1942.3 2144.6L1942.9 2146.5L1943.6 2148.3L1944.3 2150.2L1944.9 2152.1L1945.5 2154.0L1946.2 2155.9L1946.8 2157.8L1947.4 2159.7L1948.0 2161.6L1948.7 2163.5L1949.3 2165.5L1949.9 2167.4L1950.5 2169.3L1951.1 2171.2L1951.7 2173.1L1952.3 2175.0L1952.9 2176.9L1953.5 2178.8L1954.0 2180.8L1954.6 2182.7L1955.2 2184.6L1955.8 2186.5L1956.4 2188.4L1956.9 2190.3L1957.5 2192.3L1958.1 2194.2L1958.6 2196.1L1959.2 2198.0L1959.8 2199.9L1960.3 2201.9L1960.9 2203.8L1961.4 2205.7L1962.0 2207.6L1962.6 2209.6L1963.1 2211.5L1963.7 2213.4L1964.2 2215.3L1964.8 2217.3L1965.3 2219.2L1965.9 2221.1L1966.4 2223.0L1967.0 2225.0L1967.5 2226.9L1968.1 2228.8L1968.6 2230.8L1969.2 2232.7L1969.7 2234.6L1970.2 2236.5L1970.8 2238.5L1971.3 2240.4L1971.9 2242.3L1972.4 2244.2L1973.0 2246.2L1973.5 2248.1L1974.1 2250.0L1974.6 2252.0L1975.2 2253.9L1975.7 2255.8L1976.2 2257.7L1976.8 2259.7L1977.3 2261.6L1977.9 2263.5L1978.4 2265.4L1979.0 2267.4L1979.5 2269.3L1980.1 2271.2L1980.6 2273.1L1981.2 2275.1L1981.7 2277.0L1982.3 2278.9L1982.8 2280.8L1983.4 2282.8L1984.0 2284.7L1984.5 2286.6L1985.1 2288.5L1985.6 2290.5L1986.2 2292.4L1986.7 2294.3L1987.3 2296.2L1987.9 2298.2L1988.4 2300.1L1989.0 2302.0L1989.6 2303.9L1990.1 2305.8L1990.7 2307.8L1991.3 2309.7L1991.8 2311.6L1992.4 2313.5L1993.0 2315.4L1993.6 2317.4L1994.1 2319.3L1994.7 2321.2L1995.3 2323.1L1995.9 2325.0L1996.5 2326.9L1997.1 2328.9L1997.7 2330.8L1998.3 2332.7L1998.9 2334.6L1999.5 2336.5L2000.1 2338.4L2000.7 2340.3L2001.3 2342.2L2001.9 2344.1L2002.5 2346.0L2003.1 2348.0L2003.7 2349.9L2004.4 2351.8L2005.0 2353.7L2005.6 2355.6L2006.3 2357.5L2006.9 2359.4L2007.5 2361.3L2008.2 2363.2L2008.8 2365.0L2009.5 2366.9L2010.1 2368.8L2010.8 2370.7L2011.5 2372.6L2012.2 2374.5L2012.8 2376.4L2013.5 2378.3L2014.2 2380.1L2014.9 2382.0L2015.6 2383.9L2016.3 2385.8L2017.1 2387.6L2017.8 2389.5L2018.5 2391.4L2019.3 2393.2L2020.0 2395.1L2020.8 2396.9L2021.6 2398.8L2022.3 2400.6L2023.1 2402.5L2023.9 2404.3L2024.7 2406.1L2025.6 2408.0L2026.4 2409.8L2027.2 2411.6L2028.1 2413.4L2029.0 2415.2L2029.8 2417.0L2030.7 2418.8L2031.6 2420.6L2032.6 2422.4L2033.5 2424.1L2034.5 2425.9L2035.4 2427.7L2036.4 2429.4L2037.4 2431.1L2038.4 2432.9L2039.4 2434.6L2040.4 2436.3L2041.5 2438.0L2042.6 2439.7L2043.7 2441.4L2044.8 2443.1L2045.9 2444.7L2047.0 2446.4L2048.2 2448.0L2049.4 2449.6L2050.6 2451.2L2051.8 2452.8L2053.0 2454.4L2054.3 2456.0L2055.5 2457.5L2056.8 2459.0L2058.1 2460.5L2059.5 2462.0L2060.8 2463.5L2062.2 2465.0L2063.6 2466.4L2065.0 2467.9L2066.4 2469.3L2067.8 2470.7L2069.3 2472.0L2070.8 2473.4L2072.3 2474.7L2073.8 2476.1L2075.3 2477.4L2076.8 2478.7L2078.3 2480.0L2079.9 2481.2L2081.4 2482.5L2083.0 2483.7L2084.6 2485.0L2086.2 2486.2L2087.8 2487.4L2089.4 2488.6L2091.0 2489.7L2092.7 2490.9L2094.3 2492.0L2096.0 2493.2L2097.6 2494.3L2099.3 2495.4L2101.0 2496.4L2102.7 2497.5L2104.4 2498.6L2106.1 2499.6L2107.8 2500.6L2109.6 2501.6L2111.3 2502.6L2113.0 2503.6L2114.8 2504.6L2116.5 2505.6L2118.3 2506.5L2120.1 2507.5L2121.9 2508.4L2123.6 2509.3L2125.4 2510.2L2127.2 2511.1L2129.0 2512.0L2130.8 2512.9L2132.6 2513.7L2134.4 2514.6L2136.2 2515.4L2138.0 2516.3L2139.9 2517.1L2141.7 2518.0L2143.5 2518.8L2145.3 2519.6L2147.2 2520.5L2149.0 2521.3L2150.8 2522.1L2152.6 2522.9L2154.5 2523.7L2156.3 2524.5L2158.1 2525.4L2160.0 2526.2L2161.8 2527.0L2163.6 2527.8L2165.4 2528.6L2167.3 2529.5L2169.1 2530.3L2170.9 2531.1L2172.7 2531.9L2174.6 2532.7L2176.4 2533.5L2178.3 2534.2L2180.2 2534.9L2182.1 2535.6L2184.0 2536.2L2185.9 2536.8L2187.8 2537.4L2189.8 2537.8L2191.7 2538.2L2193.7 2538.5L2195.7 2538.7L2197.7 2538.9L2199.7 2539.0L2201.7 2539.0L2203.7 2539.0L2205.7 2538.9L2207.7 2538.9L2209.7 2538.8L2211.7 2538.7L2213.7 2538.5L2215.7 2538.4L2217.7 2538.4L2219.7 2538.3L2221.7 2538.3L2223.7 2538.2L2225.7 2538.2L2227.7 2538.3L2229.7 2538.3L2231.7 2538.4L2233.7 2538.4L2235.7 2538.5L2237.7 2538.6L2239.7 2538.8L2241.7 2538.9L2243.7 2539.1L2245.7 2539.2L2247.7 2539.4L2249.7 2539.6L2251.7 2539.8L2253.7 2540.0L2255.7 2540.3L2257.7 2540.5L2259.6 2540.8L2261.6 2541.0L2263.6 2541.3L2265.6 2541.6L2267.6 2541.9L2269.6 2542.2L2271.5 2542.5L2273.5 2542.8L2275.5 2543.1L2277.5 2543.5L2279.4 2543.8L2281.4 2544.1L2283.4 2544.5L2285.4 2544.8L2287.3 2545.1L2289.3 2545.5L2291.3 2545.8L2293.3 2546.2L2295.2 2546.5L2297.2 2546.9L2299.2 2547.3L2301.1 2547.6L2303.1 2548.0L2305.1 2548.3L2307.1 2548.6L2309.0 2549.0L2311.0 2549.3L2313.0 2549.7L2315.0 2550.0L2316.9 2550.3L2318.9 2550.7L2320.9 2551.0L2322.9 2551.3L2324.8 2551.6L2326.8 2551.9L2328.8 2552.2L2330.8 2552.4L2332.8 2552.7L2334.8 2553.0L2336.7 2553.2L2338.7 2553.5L2340.7 2553.7L2342.7 2553.9L2344.7 2554.1L2346.7 2554.3L2348.7 2554.5L2350.7 2554.6L2352.7 2554.8L2354.7 2554.9L2356.7 2555.0L2358.7 2555.1L2360.7 2555.2L2362.7 2555.3L2364.7 2555.3L2366.7 2555.4" fill="none" stroke="#ED7D31" stroke-width="10.5" stroke-linejoin="round" stroke-linecap="round" clip-path="url(#cd)"/>
<text x="1407" y="1614" font-size="90" font-weight="bold" text-anchor="start" >O 1s</text>
<line x1="2010.3999999999999" y1="1580.9" x2="2070.8" y2="1580.9" stroke="#4472C4" stroke-width="9.2" stroke-linecap="round"/>
<line x1="2010.3999999999999" y1="1738.3" x2="2070.8" y2="1738.3" stroke="#ED7D31" stroke-width="9.2" stroke-linecap="round"/>
<text x="2079" y="1597.5" font-size="51.0" font-weight="bold" text-anchor="start" >Without</text>
<text x="2077" y="1657" font-size="51.0" font-weight="bold" text-anchor="start" >Immersion</text>
<text x="2079" y="1754.8" font-size="51.0" font-weight="bold" text-anchor="start" >With</text>
<text x="2077" y="1814.1" font-size="51.0" font-weight="bold" text-anchor="start" >Immersion</text>
<text transform="translate(1336 2051) rotate(-90)" font-size="77.6" font-weight="bold" text-anchor="middle">Intensity (a.u.)</text>
<text x="1390.3" y="2643.6" font-size="59" font-weight="bold" text-anchor="middle" >527</text>
<text x="1833.8" y="2643.6" font-size="59" font-weight="bold" text-anchor="middle" >532</text>
<text x="2277.3" y="2643.6" font-size="59" font-weight="bold" text-anchor="middle" >537</text>
<text x="1834.8" y="2754.9" font-size="77" font-weight="bold" text-anchor="middle" >Binding Energy (eV)</text>
<text y="1434.2" font-size="79" font-weight="normal" xml:space="preserve"><tspan x="896.5" textLength="95.0" lengthAdjust="spacingAndGlyphs">(<tspan font-weight="bold">a</tspan>)</tspan> <tspan x="1011.4" textLength="249.0" lengthAdjust="spacingAndGlyphs">Sample</tspan> <tspan x="1276.0" textLength="40.0" lengthAdjust="spacingAndGlyphs">1</tspan> <tspan x="1336.5" textLength="194.0" lengthAdjust="spacingAndGlyphs">(PLC)</tspan></text>
<text y="2897.5" font-size="89" font-weight="normal" xml:space="preserve"><tspan x="813.5" textLength="105.0" lengthAdjust="spacingAndGlyphs">(<tspan font-weight="bold">b</tspan>)</tspan> <tspan x="935.0" textLength="280.0" lengthAdjust="spacingAndGlyphs">Sample</tspan> <tspan x="1232.0" textLength="41.0" lengthAdjust="spacingAndGlyphs">5</tspan> <tspan x="1299.5" textLength="314.0" lengthAdjust="spacingAndGlyphs">(GLC-C)</tspan></text>
</svg>
</body></html>
